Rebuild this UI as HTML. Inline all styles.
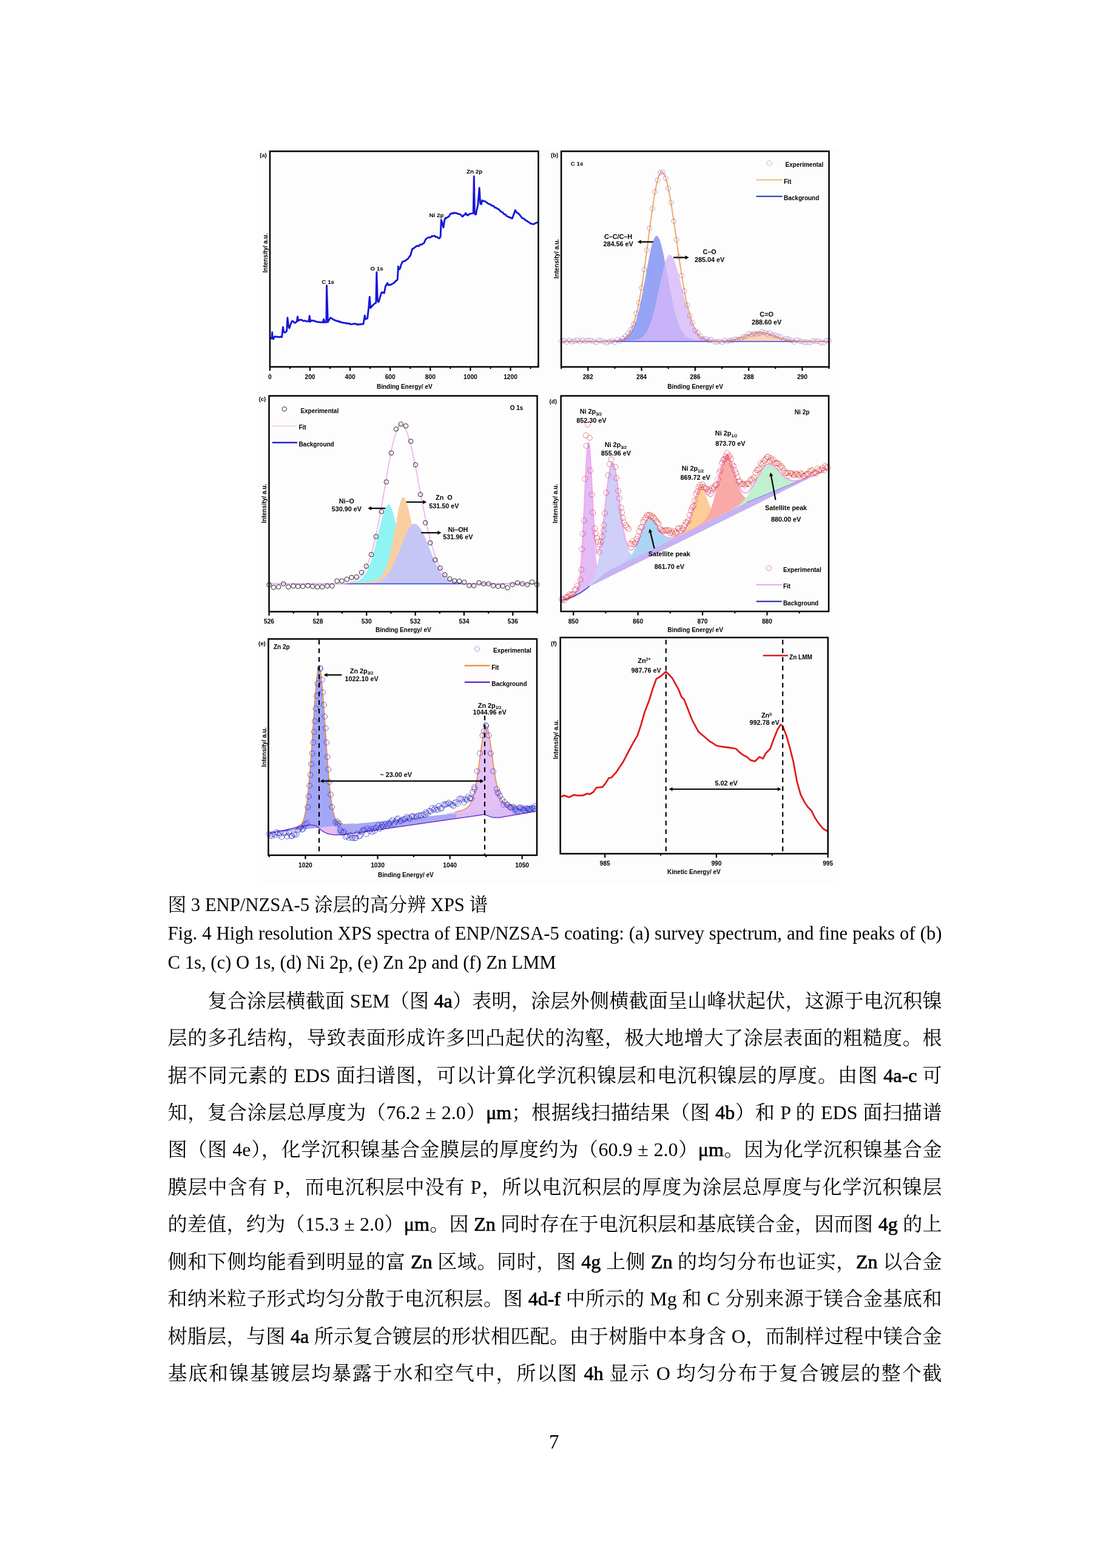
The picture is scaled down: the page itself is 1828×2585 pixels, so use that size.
<!DOCTYPE html>
<html lang="zh-CN"><head><meta charset="utf-8"><title>XPS</title>
<style>
html,body{margin:0;padding:0;background:#fff;}
body{width:1828px;height:2585px;position:relative;overflow:hidden;}
svg{position:absolute;left:0;top:0;}
.l{position:absolute;white-space:nowrap;line-height:1;font-family:"Liberation Serif","Noto Serif CJK SC",serif;color:#000;}
.j{white-space:normal;text-align:justify;text-align-last:justify;}
b{font-weight:normal;-webkit-text-stroke:0.7px #000;}
</style></head><body>
<svg width="1828" height="2585" viewBox="0 0 1828 2585">
<rect x="424" y="246" width="958" height="1209" fill="#fdfdfd"/>
<path d="M445.5 557.6 L448 558.2 L448.6 547.8 L449.2 557 L450.5 558.8 L452.3 555.1 L454.1 554.8 L455.8 555.4 L457.6 555.2 L459.4 555.7 L461.1 555.8 L462.9 554.9 L464.6 555.8 L466.5 539.1 L467.7 547.1 L469.6 548.4 L472.6 545.9 L473.9 523.7 L475.7 538.5 L476.9 541 L479.4 533.6 L481.3 529.3 L483.4 529.9 L485.6 532.4 L487.4 531.7 L489.3 529.9 L490.5 521.9 L491.7 528.7 L494.2 527.4 L496 527.3 L497.9 527.6 L499.7 529.3 L501.6 528.7 L503.4 528.9 L505.3 529.9 L507.1 529.6 L509 529.9 L510.2 520.7 L511.4 530.5 L513.9 528.1 L515.9 528.9 L518 528.7 L520 529.9 L521.8 530.4 L523.6 531.1 L525.3 530.7 L527.1 531.4 L528.8 531.5 L530.6 530.7 L532.4 531.7 L533.6 526.2 L535.4 531.7 L537.9 531.1 L538.5 470.8 L540.4 531.1 L541.6 528.7 L544.7 523.7 L547.1 525 L549 526.7 L550.8 527.4 L552.9 528.4 L554.9 528.7 L557 529.9 L558.8 529.4 L560.5 531.3 L562.3 530.9 L564 531.7 L565.8 532.3 L567.6 532.4 L569.3 532.4 L571.1 533.4 L572.8 532.7 L574.6 533.7 L576.3 533.3 L578.1 534.5 L579.9 534.6 L581.6 534.2 L583.4 533.6 L585.1 533.7 L586.9 534 L588.7 535.4 L590.4 534.5 L592.2 535 L593.9 534.8 L595.6 534.3 L597.2 534.4 L598.9 534.2 L601.3 520 L602.6 526.2 L605.6 525 L607.5 509 L609.3 489.3 L610.6 507.7 L611.8 506.5 L614.9 502.8 L616.5 501.4 L618.2 500.1 L619.8 499.1 L620.8 448.6 L622.3 495.4 L624.1 497.9 L626 491.7 L628.4 483.1 L630 481.7 L631.6 482.7 L633.2 483.3 L635.6 471.3 L637.2 469.1 L638.8 466.5 L639.6 469.7 L641.2 470 L642.8 469.2 L644.4 469.3 L646 468.1 L647.6 467.6 L649.2 466.7 L650.8 465.1 L652.4 463 L654 462.5 L655.3 460.1 L656.4 439.3 L658 444.1 L659.6 442.5 L661.2 436.1 L663.6 431.3 L665.2 431.1 L666.8 430.5 L668.4 429.6 L670 428.2 L671.6 427.3 L673.2 425.8 L674.8 423 L676.4 421.7 L679.6 410.5 L681.2 410 L682.8 408.5 L684.4 407.3 L686 406.2 L687.6 405.1 L689.2 405.9 L690.8 405.5 L692.4 403.2 L694 403.3 L695.6 403 L697.2 401.5 L698.8 400.9 L701.2 395.3 L703.2 393 L705.2 392.1 L706.8 391.2 L708.5 391.5 L710.1 391.1 L711.7 389.1 L713.3 389.6 L714.9 388.9 L716.5 388.6 L718.1 390.5 L719.7 390.4 L721.3 391.3 L722.9 392.7 L724.5 392.9 L726.1 389.7 L727.3 362.4 L729.3 368.8 L730.9 375.2 L732.5 364 L734.1 359.2 L735.7 359.6 L737.3 358.2 L738.9 357.6 L740.5 356.1 L742.1 352.8 L743.7 352.2 L745.3 351.4 L746.9 352.1 L748.5 350.7 L750.1 351.2 L751.7 351.1 L753.3 351.9 L754.9 352.6 L756.5 352.8 L758.1 353.2 L759.7 354 L761.3 356.5 L762.9 356.8 L764.5 354.6 L766.1 353.9 L767.7 351.2 L769.3 353.9 L770.9 355.2 L772.5 353.8 L774.1 352.8 L776.1 352.2 L778.1 351.8 L780.2 351.2 L781.3 290.6 L782.4 352.8 L784.5 353.6 L786.1 344.8 L787.7 338.4 L790.1 309.6 L791.7 335.2 L793.3 336.8 L794.9 330.4 L796.5 331.2 L798.1 331.7 L799.7 332 L801.3 333.1 L802.9 334.2 L804.5 335.8 L806.1 336 L807.7 336.9 L809.3 337.7 L810.9 339.1 L812.5 339.2 L814.1 340.2 L815.7 342.3 L817.3 342.4 L818.9 343.2 L820.5 344.6 L822.1 344.9 L823.7 346.9 L825.3 348.5 L826.9 349.6 L828.5 350 L830.1 352.2 L831.7 353.5 L833.3 353.6 L834.9 355.9 L836.5 356.8 L838.1 357.4 L839.7 358.4 L841.3 358.5 L842.9 359.8 L844.5 360 L849.3 346.4 L850.9 349.3 L852.5 351.2 L854.1 351.7 L855.7 353.1 L857.3 355.2 L858.9 357.2 L860.5 359.3 L862.1 360 L863.7 360.7 L865.4 362.2 L867 363.6 L868.6 364.2 L870.2 365.6 L871.8 366.5 L873.4 367.4 L875 368.8 L876.6 368.9 L878.2 369.5 L879.8 369.6 L881.4 368.5 L883 367.8 L884.6 367.2 L886.6 366.4" stroke="#1616dc" stroke-width="2.9" fill="none" stroke-linejoin="round" />
<rect x="444.9" y="249.4" width="442.5" height="355.4" fill="none" stroke="#000" stroke-width="2.5"/>
<line x1="444.9" y1="604.8" x2="444.9" y2="611.3" stroke="#000" stroke-width="2.2" />
<text x="444.9" y="625.2" font-size="10.2" text-anchor="middle" fill="#000" font-family="'Liberation Sans', sans-serif" font-weight="bold" >0</text>
<line x1="511" y1="604.8" x2="511" y2="611.3" stroke="#000" stroke-width="2.2" />
<text x="511" y="625.2" font-size="10.2" text-anchor="middle" fill="#000" font-family="'Liberation Sans', sans-serif" font-weight="bold" >200</text>
<line x1="577.1" y1="604.8" x2="577.1" y2="611.3" stroke="#000" stroke-width="2.2" />
<text x="577.1" y="625.2" font-size="10.2" text-anchor="middle" fill="#000" font-family="'Liberation Sans', sans-serif" font-weight="bold" >400</text>
<line x1="643.2" y1="604.8" x2="643.2" y2="611.3" stroke="#000" stroke-width="2.2" />
<text x="643.2" y="625.2" font-size="10.2" text-anchor="middle" fill="#000" font-family="'Liberation Sans', sans-serif" font-weight="bold" >600</text>
<line x1="709.3" y1="604.8" x2="709.3" y2="611.3" stroke="#000" stroke-width="2.2" />
<text x="709.3" y="625.2" font-size="10.2" text-anchor="middle" fill="#000" font-family="'Liberation Sans', sans-serif" font-weight="bold" >800</text>
<line x1="775.4" y1="604.8" x2="775.4" y2="611.3" stroke="#000" stroke-width="2.2" />
<text x="775.4" y="625.2" font-size="10.2" text-anchor="middle" fill="#000" font-family="'Liberation Sans', sans-serif" font-weight="bold" >1000</text>
<line x1="841.5" y1="604.8" x2="841.5" y2="611.3" stroke="#000" stroke-width="2.2" />
<text x="841.5" y="625.2" font-size="10.2" text-anchor="middle" fill="#000" font-family="'Liberation Sans', sans-serif" font-weight="bold" >1200</text>
<line x1="477.9" y1="604.8" x2="477.9" y2="608" stroke="#000" stroke-width="2.2" />
<line x1="544" y1="604.8" x2="544" y2="608" stroke="#000" stroke-width="2.2" />
<line x1="610.1" y1="604.8" x2="610.1" y2="608" stroke="#000" stroke-width="2.2" />
<line x1="676.2" y1="604.8" x2="676.2" y2="608" stroke="#000" stroke-width="2.2" />
<line x1="742.3" y1="604.8" x2="742.3" y2="608" stroke="#000" stroke-width="2.2" />
<line x1="808.5" y1="604.8" x2="808.5" y2="608" stroke="#000" stroke-width="2.2" />
<line x1="874.5" y1="604.8" x2="874.5" y2="608" stroke="#000" stroke-width="2.2" />
<text x="666.8" y="640.7" font-size="10" text-anchor="middle" fill="#000" font-family="'Liberation Sans', sans-serif" font-weight="bold" >Binding Energy/ eV</text>
<text x="441" y="417" font-size="10.2" text-anchor="middle" fill="#000" font-family="'Liberation Sans', sans-serif" font-weight="bold" transform="rotate(-90 441 417)">Intensity/ a.u.</text>
<text x="428" y="258.6" font-size="9.6" text-anchor="start" fill="#000" font-family="'Liberation Sans', sans-serif" font-weight="bold" >(a)</text>
<text x="782.1" y="285.8" font-size="9.8" text-anchor="middle" fill="#000" font-family="'Liberation Sans', sans-serif" font-weight="bold" >Zn 2p</text>
<text x="719.4" y="357.8" font-size="9.8" text-anchor="middle" fill="#000" font-family="'Liberation Sans', sans-serif" font-weight="bold" >Ni 2p</text>
<text x="621" y="445.5" font-size="9.8" text-anchor="middle" fill="#000" font-family="'Liberation Sans', sans-serif" font-weight="bold" >O 1s</text>
<text x="540.7" y="468.3" font-size="9.8" text-anchor="middle" fill="#000" font-family="'Liberation Sans', sans-serif" font-weight="bold" >C 1s</text>
<path d="M926.4 563 L926.4 562.6 L927.4 562.6 L928.4 562.6 L929.4 562.6 L930.4 562.6 L931.4 562.6 L932.4 562.6 L933.4 562.6 L934.4 562.6 L935.4 562.5 L936.4 562.5 L937.4 562.5 L938.4 562.5 L939.4 562.5 L940.4 562.5 L941.4 562.5 L942.4 562.5 L943.4 562.5 L944.4 562.5 L945.4 562.5 L946.4 562.5 L947.4 562.5 L948.4 562.5 L949.4 562.4 L950.4 562.4 L951.4 562.4 L952.4 562.4 L953.4 562.4 L954.4 562.4 L955.4 562.4 L956.4 562.4 L957.4 562.4 L958.4 562.4 L959.4 562.4 L960.4 562.3 L961.4 562.3 L962.4 562.3 L963.4 562.3 L964.4 562.3 L965.4 562.3 L966.4 562.3 L967.4 562.3 L968.4 562.3 L969.4 562.2 L970.4 562.2 L971.4 562.2 L972.4 562.2 L973.4 562.2 L974.4 562.2 L975.4 562.2 L976.4 562.1 L977.4 562.1 L978.4 562.1 L979.4 562.1 L980.4 562.1 L981.4 562.1 L982.4 562 L983.4 562 L984.4 562 L985.4 562 L986.4 562 L987.4 561.9 L988.4 561.9 L989.4 561.9 L990.4 561.9 L991.4 561.9 L992.4 561.8 L993.4 561.8 L994.4 561.8 L995.4 561.7 L996.4 561.7 L997.4 561.7 L998.4 561.7 L999.4 561.6 L1000.4 561.6 L1001.4 561.6 L1002.4 561.5 L1003.4 561.5 L1004.4 561.4 L1005.4 561.4 L1006.4 561.4 L1007.4 561.3 L1008.4 561.3 L1009.4 561.2 L1010.4 561.1 L1011.4 561.1 L1012.4 561 L1013.4 560.9 L1014.4 560.8 L1015.4 560.7 L1016.4 560.6 L1017.4 560.5 L1018.4 560.4 L1019.4 560.2 L1020.4 560.1 L1021.4 559.9 L1022.4 559.7 L1023.4 559.4 L1024.4 559.2 L1025.4 558.9 L1026.4 558.5 L1027.4 558.2 L1028.4 557.7 L1029.4 557.3 L1030.4 556.7 L1031.4 556.1 L1032.4 555.4 L1033.4 554.7 L1034.4 553.8 L1035.4 552.9 L1036.4 551.8 L1037.4 550.7 L1038.4 549.4 L1039.4 548 L1040.4 546.4 L1041.4 544.7 L1042.4 542.8 L1043.4 540.8 L1044.4 538.5 L1045.4 536.1 L1046.4 533.5 L1047.4 530.7 L1048.4 527.7 L1049.4 524.5 L1050.4 521.1 L1051.4 517.4 L1052.4 513.6 L1053.4 509.5 L1054.4 505.3 L1055.4 500.8 L1056.4 496.1 L1057.4 491.3 L1058.4 486.3 L1059.4 481.2 L1060.4 475.9 L1061.4 470.5 L1062.4 465.1 L1063.4 459.5 L1064.4 454 L1065.4 448.4 L1066.4 442.9 L1067.4 437.5 L1068.4 432.2 L1069.4 427 L1070.4 421.9 L1071.4 417.1 L1072.4 412.6 L1073.4 408.3 L1074.4 404.4 L1075.4 400.9 L1076.4 397.7 L1077.4 395 L1078.4 392.8 L1079.4 391 L1080.4 389.8 L1081.4 389 L1082.4 388.8 L1083.4 389.1 L1084.4 390 L1085.4 391.3 L1086.4 393.2 L1087.4 395.5 L1088.4 398.3 L1089.4 401.6 L1090.4 405.2 L1091.4 409.2 L1092.4 413.5 L1093.4 418.1 L1094.4 422.9 L1095.4 428 L1096.4 433.2 L1097.4 438.6 L1098.4 444 L1099.4 449.6 L1100.4 455.1 L1101.4 460.6 L1102.4 466.2 L1103.4 471.6 L1104.4 477 L1105.4 482.2 L1106.4 487.3 L1107.4 492.3 L1108.4 497.1 L1109.4 501.7 L1110.4 506.1 L1111.4 510.4 L1112.4 514.4 L1113.4 518.2 L1114.4 521.8 L1115.4 525.2 L1116.4 528.3 L1117.4 531.3 L1118.4 534.1 L1119.4 536.6 L1120.4 539 L1121.4 541.2 L1122.4 543.2 L1123.4 545 L1124.4 546.7 L1125.4 548.2 L1126.4 549.6 L1127.4 550.9 L1128.4 552 L1129.4 553.1 L1130.4 554 L1131.4 554.8 L1132.4 555.6 L1133.4 556.2 L1134.4 556.8 L1135.4 557.4 L1136.4 557.8 L1137.4 558.2 L1138.4 558.6 L1139.4 558.9 L1140.4 559.2 L1141.4 559.5 L1142.4 559.7 L1143.4 559.9 L1144.4 560.1 L1145.4 560.3 L1146.4 560.4 L1147.4 560.5 L1148.4 560.7 L1149.4 560.8 L1150.4 560.9 L1151.4 560.9 L1152.4 561 L1153.4 561.1 L1154.4 561.2 L1155.4 561.2 L1156.4 561.3 L1157.4 561.3 L1158.4 561.4 L1159.4 561.4 L1160.4 561.5 L1161.4 561.5 L1162.4 561.5 L1163.4 561.6 L1164.4 561.6 L1165.4 561.6 L1166.4 561.7 L1167.4 561.7 L1168.4 561.7 L1169.4 561.8 L1170.4 561.8 L1171.4 561.8 L1172.4 561.8 L1173.4 561.9 L1174.4 561.9 L1175.4 561.9 L1176.4 561.9 L1177.4 561.9 L1178.4 562 L1179.4 562 L1180.4 562 L1181.4 562 L1182.4 562 L1183.4 562.1 L1184.4 562.1 L1185.4 562.1 L1186.4 562.1 L1187.4 562.1 L1188.4 562.1 L1189.4 562.2 L1190.4 562.2 L1191.4 562.2 L1192.4 562.2 L1193.4 562.2 L1194.4 562.2 L1195.4 562.2 L1196.4 562.3 L1197.4 562.3 L1198.4 562.3 L1199.4 562.3 L1200.4 562.3 L1201.4 562.3 L1202.4 562.3 L1203.4 562.3 L1204.4 562.3 L1205.4 562.4 L1206.4 562.4 L1207.4 562.4 L1208.4 562.4 L1209.4 562.4 L1210.4 562.4 L1211.4 562.4 L1212.4 562.4 L1213.4 562.4 L1214.4 562.4 L1215.4 562.4 L1216.4 562.5 L1217.4 562.5 L1218.4 562.5 L1219.4 562.5 L1220.4 562.5 L1221.4 562.5 L1222.4 562.5 L1223.4 562.5 L1224.4 562.5 L1225.4 562.5 L1226.4 562.5 L1227.4 562.5 L1228.4 562.5 L1229.4 562.5 L1230.4 562.6 L1231.4 562.6 L1232.4 562.6 L1233.4 562.6 L1234.4 562.6 L1235.4 562.6 L1236.4 562.6 L1237.4 562.6 L1238.4 562.6 L1239.4 562.6 L1240.4 562.6 L1241.4 562.6 L1242.4 562.6 L1243.4 562.6 L1244.4 562.6 L1245.4 562.6 L1246.4 562.6 L1247.4 562.6 L1248.4 562.6 L1249.4 562.6 L1250.4 562.7 L1251.4 562.7 L1252.4 562.7 L1253.4 562.7 L1254.4 562.7 L1255.4 562.7 L1256.4 562.7 L1257.4 562.7 L1258.4 562.7 L1259.4 562.7 L1260.4 562.7 L1261.4 562.7 L1262.4 562.7 L1263.4 562.7 L1264.4 562.7 L1265.4 562.7 L1266.4 562.7 L1267.4 562.7 L1268.4 562.7 L1269.4 562.7 L1270.4 562.7 L1271.4 562.7 L1272.4 562.7 L1273.4 562.7 L1274.4 562.7 L1275.4 562.7 L1276.4 562.7 L1277.4 562.7 L1278.4 562.7 L1279.4 562.7 L1280.4 562.7 L1281.4 562.8 L1282.4 562.8 L1283.4 562.8 L1284.4 562.8 L1285.4 562.8 L1286.4 562.8 L1287.4 562.8 L1288.4 562.8 L1289.4 562.8 L1290.4 562.8 L1291.4 562.8 L1292.4 562.8 L1293.4 562.8 L1294.4 562.8 L1295.4 562.8 L1296.4 562.8 L1297.4 562.8 L1298.4 562.8 L1299.4 562.8 L1300.4 562.8 L1301.4 562.8 L1302.4 562.8 L1303.4 562.8 L1304.4 562.8 L1305.4 562.8 L1306.4 562.8 L1307.4 562.8 L1308.4 562.8 L1309.4 562.8 L1310.4 562.8 L1311.4 562.8 L1312.4 562.8 L1313.4 562.8 L1314.4 562.8 L1315.4 562.8 L1316.4 562.8 L1317.4 562.8 L1318.4 562.8 L1319.4 562.8 L1320.4 562.8 L1321.4 562.8 L1322.4 562.8 L1323.4 562.8 L1324.4 562.8 L1325.4 562.8 L1326.4 562.8 L1327.4 562.8 L1328.4 562.8 L1329.4 562.8 L1330.4 562.8 L1331.4 562.8 L1332.4 562.8 L1333.4 562.8 L1334.4 562.8 L1335.4 562.8 L1336.4 562.8 L1337.4 562.8 L1338.4 562.8 L1339.4 562.8 L1340.4 562.9 L1341.4 562.9 L1342.4 562.9 L1343.4 562.9 L1344.4 562.9 L1345.4 562.9 L1346.4 562.9 L1347.4 562.9 L1348.4 562.9 L1349.4 562.9 L1350.4 562.9 L1351.4 562.9 L1352.4 562.9 L1353.4 562.9 L1354.4 562.9 L1355.4 562.9 L1356.4 562.9 L1357.4 562.9 L1358.4 562.9 L1359.4 562.9 L1360.4 562.9 L1361.4 562.9 L1362.4 562.9 L1363.4 562.9 L1364.4 562.9 L1364.4 563 Z" fill="#97a3f4" stroke="none"/>
<path d="M926.4 563 L926.4 562.8 L927.4 562.8 L928.4 562.8 L929.4 562.8 L930.4 562.8 L931.4 562.8 L932.4 562.8 L933.4 562.8 L934.4 562.7 L935.4 562.7 L936.4 562.7 L937.4 562.7 L938.4 562.7 L939.4 562.7 L940.4 562.7 L941.4 562.7 L942.4 562.7 L943.4 562.7 L944.4 562.7 L945.4 562.7 L946.4 562.7 L947.4 562.7 L948.4 562.7 L949.4 562.7 L950.4 562.7 L951.4 562.7 L952.4 562.7 L953.4 562.7 L954.4 562.7 L955.4 562.7 L956.4 562.7 L957.4 562.7 L958.4 562.7 L959.4 562.7 L960.4 562.7 L961.4 562.6 L962.4 562.6 L963.4 562.6 L964.4 562.6 L965.4 562.6 L966.4 562.6 L967.4 562.6 L968.4 562.6 L969.4 562.6 L970.4 562.6 L971.4 562.6 L972.4 562.6 L973.4 562.6 L974.4 562.6 L975.4 562.6 L976.4 562.6 L977.4 562.6 L978.4 562.5 L979.4 562.5 L980.4 562.5 L981.4 562.5 L982.4 562.5 L983.4 562.5 L984.4 562.5 L985.4 562.5 L986.4 562.5 L987.4 562.5 L988.4 562.5 L989.4 562.5 L990.4 562.5 L991.4 562.4 L992.4 562.4 L993.4 562.4 L994.4 562.4 L995.4 562.4 L996.4 562.4 L997.4 562.4 L998.4 562.4 L999.4 562.4 L1000.4 562.3 L1001.4 562.3 L1002.4 562.3 L1003.4 562.3 L1004.4 562.3 L1005.4 562.3 L1006.4 562.3 L1007.4 562.2 L1008.4 562.2 L1009.4 562.2 L1010.4 562.2 L1011.4 562.2 L1012.4 562.2 L1013.4 562.1 L1014.4 562.1 L1015.4 562.1 L1016.4 562.1 L1017.4 562.1 L1018.4 562.1 L1019.4 562 L1020.4 562 L1021.4 562 L1022.4 562 L1023.4 561.9 L1024.4 561.9 L1025.4 561.9 L1026.4 561.9 L1027.4 561.8 L1028.4 561.8 L1029.4 561.8 L1030.4 561.7 L1031.4 561.7 L1032.4 561.6 L1033.4 561.6 L1034.4 561.6 L1035.4 561.5 L1036.4 561.5 L1037.4 561.4 L1038.4 561.3 L1039.4 561.3 L1040.4 561.2 L1041.4 561.1 L1042.4 561 L1043.4 560.9 L1044.4 560.7 L1045.4 560.6 L1046.4 560.4 L1047.4 560.3 L1048.4 560.1 L1049.4 559.8 L1050.4 559.5 L1051.4 559.2 L1052.4 558.9 L1053.4 558.5 L1054.4 558.1 L1055.4 557.6 L1056.4 557 L1057.4 556.4 L1058.4 555.6 L1059.4 554.8 L1060.4 553.9 L1061.4 552.9 L1062.4 551.8 L1063.4 550.6 L1064.4 549.2 L1065.4 547.7 L1066.4 546 L1067.4 544.2 L1068.4 542.2 L1069.4 540 L1070.4 537.6 L1071.4 535.1 L1072.4 532.4 L1073.4 529.4 L1074.4 526.3 L1075.4 523 L1076.4 519.5 L1077.4 515.8 L1078.4 511.9 L1079.4 507.8 L1080.4 503.6 L1081.4 499.2 L1082.4 494.7 L1083.4 490 L1084.4 485.3 L1085.4 480.5 L1086.4 475.7 L1087.4 470.8 L1088.4 466 L1089.4 461.2 L1090.4 456.5 L1091.4 452 L1092.4 447.6 L1093.4 443.4 L1094.4 439.4 L1095.4 435.7 L1096.4 432.3 L1097.4 429.3 L1098.4 426.6 L1099.4 424.4 L1100.4 422.5 L1101.4 421.2 L1102.4 420.3 L1103.4 419.9 L1104.4 420 L1105.4 420.4 L1106.4 421.1 L1107.4 422.2 L1108.4 423.6 L1109.4 425.3 L1110.4 427.3 L1111.4 429.6 L1112.4 432.1 L1113.4 434.9 L1114.4 437.9 L1115.4 441.1 L1116.4 444.5 L1117.4 448.1 L1118.4 451.7 L1119.4 455.5 L1120.4 459.4 L1121.4 463.4 L1122.4 467.4 L1123.4 471.4 L1124.4 475.4 L1125.4 479.5 L1126.4 483.5 L1127.4 487.4 L1128.4 491.4 L1129.4 495.2 L1130.4 499 L1131.4 502.6 L1132.4 506.2 L1133.4 509.6 L1134.4 513 L1135.4 516.2 L1136.4 519.3 L1137.4 522.2 L1138.4 525.1 L1139.4 527.7 L1140.4 530.3 L1141.4 532.7 L1142.4 535 L1143.4 537.1 L1144.4 539.1 L1145.4 541 L1146.4 542.8 L1147.4 544.4 L1148.4 545.9 L1149.4 547.3 L1150.4 548.6 L1151.4 549.8 L1152.4 550.9 L1153.4 551.9 L1154.4 552.9 L1155.4 553.7 L1156.4 554.5 L1157.4 555.2 L1158.4 555.9 L1159.4 556.4 L1160.4 557 L1161.4 557.4 L1162.4 557.9 L1163.4 558.3 L1164.4 558.6 L1165.4 558.9 L1166.4 559.2 L1167.4 559.5 L1168.4 559.7 L1169.4 559.9 L1170.4 560.1 L1171.4 560.3 L1172.4 560.4 L1173.4 560.6 L1174.4 560.7 L1175.4 560.8 L1176.4 560.9 L1177.4 561 L1178.4 561.1 L1179.4 561.2 L1180.4 561.2 L1181.4 561.3 L1182.4 561.3 L1183.4 561.4 L1184.4 561.4 L1185.4 561.5 L1186.4 561.5 L1187.4 561.6 L1188.4 561.6 L1189.4 561.7 L1190.4 561.7 L1191.4 561.7 L1192.4 561.7 L1193.4 561.8 L1194.4 561.8 L1195.4 561.8 L1196.4 561.9 L1197.4 561.9 L1198.4 561.9 L1199.4 561.9 L1200.4 561.9 L1201.4 562 L1202.4 562 L1203.4 562 L1204.4 562 L1205.4 562 L1206.4 562.1 L1207.4 562.1 L1208.4 562.1 L1209.4 562.1 L1210.4 562.1 L1211.4 562.1 L1212.4 562.2 L1213.4 562.2 L1214.4 562.2 L1215.4 562.2 L1216.4 562.2 L1217.4 562.2 L1218.4 562.2 L1219.4 562.2 L1220.4 562.3 L1221.4 562.3 L1222.4 562.3 L1223.4 562.3 L1224.4 562.3 L1225.4 562.3 L1226.4 562.3 L1227.4 562.3 L1228.4 562.4 L1229.4 562.4 L1230.4 562.4 L1231.4 562.4 L1232.4 562.4 L1233.4 562.4 L1234.4 562.4 L1235.4 562.4 L1236.4 562.4 L1237.4 562.4 L1238.4 562.4 L1239.4 562.4 L1240.4 562.5 L1241.4 562.5 L1242.4 562.5 L1243.4 562.5 L1244.4 562.5 L1245.4 562.5 L1246.4 562.5 L1247.4 562.5 L1248.4 562.5 L1249.4 562.5 L1250.4 562.5 L1251.4 562.5 L1252.4 562.5 L1253.4 562.5 L1254.4 562.5 L1255.4 562.6 L1256.4 562.6 L1257.4 562.6 L1258.4 562.6 L1259.4 562.6 L1260.4 562.6 L1261.4 562.6 L1262.4 562.6 L1263.4 562.6 L1264.4 562.6 L1265.4 562.6 L1266.4 562.6 L1267.4 562.6 L1268.4 562.6 L1269.4 562.6 L1270.4 562.6 L1271.4 562.6 L1272.4 562.6 L1273.4 562.6 L1274.4 562.6 L1275.4 562.7 L1276.4 562.7 L1277.4 562.7 L1278.4 562.7 L1279.4 562.7 L1280.4 562.7 L1281.4 562.7 L1282.4 562.7 L1283.4 562.7 L1284.4 562.7 L1285.4 562.7 L1286.4 562.7 L1287.4 562.7 L1288.4 562.7 L1289.4 562.7 L1290.4 562.7 L1291.4 562.7 L1292.4 562.7 L1293.4 562.7 L1294.4 562.7 L1295.4 562.7 L1296.4 562.7 L1297.4 562.7 L1298.4 562.7 L1299.4 562.7 L1300.4 562.7 L1301.4 562.7 L1302.4 562.7 L1303.4 562.7 L1304.4 562.7 L1305.4 562.7 L1306.4 562.7 L1307.4 562.8 L1308.4 562.8 L1309.4 562.8 L1310.4 562.8 L1311.4 562.8 L1312.4 562.8 L1313.4 562.8 L1314.4 562.8 L1315.4 562.8 L1316.4 562.8 L1317.4 562.8 L1318.4 562.8 L1319.4 562.8 L1320.4 562.8 L1321.4 562.8 L1322.4 562.8 L1323.4 562.8 L1324.4 562.8 L1325.4 562.8 L1326.4 562.8 L1327.4 562.8 L1328.4 562.8 L1329.4 562.8 L1330.4 562.8 L1331.4 562.8 L1332.4 562.8 L1333.4 562.8 L1334.4 562.8 L1335.4 562.8 L1336.4 562.8 L1337.4 562.8 L1338.4 562.8 L1339.4 562.8 L1340.4 562.8 L1341.4 562.8 L1342.4 562.8 L1343.4 562.8 L1344.4 562.8 L1345.4 562.8 L1346.4 562.8 L1347.4 562.8 L1348.4 562.8 L1349.4 562.8 L1350.4 562.8 L1351.4 562.8 L1352.4 562.8 L1353.4 562.8 L1354.4 562.8 L1355.4 562.8 L1356.4 562.8 L1357.4 562.8 L1358.4 562.8 L1359.4 562.8 L1360.4 562.8 L1361.4 562.8 L1362.4 562.8 L1363.4 562.8 L1364.4 562.8 L1364.4 563 Z" fill="#d6b6f8" stroke="none" fill-opacity="0.78"/>
<path d="M926.4 563 L926.4 563 L927.4 563 L928.4 563 L929.4 563 L930.4 563 L931.4 563 L932.4 563 L933.4 563 L934.4 563 L935.4 563 L936.4 563 L937.4 563 L938.4 563 L939.4 563 L940.4 563 L941.4 563 L942.4 563 L943.4 563 L944.4 563 L945.4 563 L946.4 563 L947.4 563 L948.4 563 L949.4 563 L950.4 563 L951.4 563 L952.4 563 L953.4 563 L954.4 563 L955.4 563 L956.4 563 L957.4 563 L958.4 563 L959.4 563 L960.4 563 L961.4 563 L962.4 563 L963.4 563 L964.4 563 L965.4 563 L966.4 563 L967.4 563 L968.4 563 L969.4 563 L970.4 563 L971.4 563 L972.4 563 L973.4 563 L974.4 563 L975.4 563 L976.4 563 L977.4 563 L978.4 563 L979.4 563 L980.4 563 L981.4 563 L982.4 563 L983.4 563 L984.4 563 L985.4 563 L986.4 563 L987.4 563 L988.4 563 L989.4 563 L990.4 563 L991.4 563 L992.4 563 L993.4 563 L994.4 563 L995.4 563 L996.4 563 L997.4 563 L998.4 563 L999.4 563 L1000.4 563 L1001.4 563 L1002.4 563 L1003.4 563 L1004.4 563 L1005.4 563 L1006.4 563 L1007.4 563 L1008.4 563 L1009.4 563 L1010.4 563 L1011.4 563 L1012.4 563 L1013.4 563 L1014.4 563 L1015.4 563 L1016.4 563 L1017.4 563 L1018.4 563 L1019.4 563 L1020.4 563 L1021.4 563 L1022.4 563 L1023.4 563 L1024.4 563 L1025.4 563 L1026.4 563 L1027.4 563 L1028.4 563 L1029.4 563 L1030.4 563 L1031.4 563 L1032.4 563 L1033.4 563 L1034.4 563 L1035.4 563 L1036.4 563 L1037.4 563 L1038.4 563 L1039.4 563 L1040.4 563 L1041.4 563 L1042.4 563 L1043.4 563 L1044.4 563 L1045.4 563 L1046.4 563 L1047.4 563 L1048.4 563 L1049.4 563 L1050.4 563 L1051.4 563 L1052.4 563 L1053.4 563 L1054.4 563 L1055.4 563 L1056.4 563 L1057.4 563 L1058.4 563 L1059.4 563 L1060.4 563 L1061.4 563 L1062.4 563 L1063.4 563 L1064.4 563 L1065.4 563 L1066.4 563 L1067.4 563 L1068.4 563 L1069.4 563 L1070.4 563 L1071.4 563 L1072.4 563 L1073.4 563 L1074.4 563 L1075.4 563 L1076.4 563 L1077.4 563 L1078.4 563 L1079.4 563 L1080.4 563 L1081.4 563 L1082.4 563 L1083.4 563 L1084.4 563 L1085.4 563 L1086.4 563 L1087.4 563 L1088.4 563 L1089.4 563 L1090.4 563 L1091.4 563 L1092.4 563 L1093.4 563 L1094.4 563 L1095.4 563 L1096.4 563 L1097.4 563 L1098.4 563 L1099.4 563 L1100.4 563 L1101.4 563 L1102.4 563 L1103.4 563 L1104.4 563 L1105.4 563 L1106.4 563 L1107.4 563 L1108.4 563 L1109.4 563 L1110.4 563 L1111.4 563 L1112.4 563 L1113.4 563 L1114.4 563 L1115.4 563 L1116.4 563 L1117.4 563 L1118.4 563 L1119.4 563 L1120.4 563 L1121.4 563 L1122.4 563 L1123.4 563 L1124.4 563 L1125.4 563 L1126.4 563 L1127.4 563 L1128.4 563 L1129.4 563 L1130.4 563 L1131.4 563 L1132.4 563 L1133.4 563 L1134.4 563 L1135.4 563 L1136.4 563 L1137.4 563 L1138.4 563 L1139.4 563 L1140.4 563 L1141.4 563 L1142.4 563 L1143.4 563 L1144.4 563 L1145.4 563 L1146.4 563 L1147.4 563 L1148.4 563 L1149.4 563 L1150.4 563 L1151.4 563 L1152.4 563 L1153.4 563 L1154.4 563 L1155.4 563 L1156.4 563 L1157.4 563 L1158.4 563 L1159.4 563 L1160.4 563 L1161.4 563 L1162.4 563 L1163.4 563 L1164.4 563 L1165.4 563 L1166.4 563 L1167.4 563 L1168.4 563 L1169.4 563 L1170.4 563 L1171.4 563 L1172.4 562.9 L1173.4 562.9 L1174.4 562.9 L1175.4 562.9 L1176.4 562.9 L1177.4 562.9 L1178.4 562.9 L1179.4 562.9 L1180.4 562.8 L1181.4 562.8 L1182.4 562.8 L1183.4 562.8 L1184.4 562.7 L1185.4 562.7 L1186.4 562.7 L1187.4 562.6 L1188.4 562.6 L1189.4 562.6 L1190.4 562.5 L1191.4 562.4 L1192.4 562.4 L1193.4 562.3 L1194.4 562.2 L1195.4 562.2 L1196.4 562.1 L1197.4 562 L1198.4 561.9 L1199.4 561.8 L1200.4 561.6 L1201.4 561.5 L1202.4 561.4 L1203.4 561.2 L1204.4 561.1 L1205.4 560.9 L1206.4 560.7 L1207.4 560.5 L1208.4 560.3 L1209.4 560.1 L1210.4 559.9 L1211.4 559.7 L1212.4 559.4 L1213.4 559.2 L1214.4 558.9 L1215.4 558.6 L1216.4 558.3 L1217.4 558 L1218.4 557.7 L1219.4 557.4 L1220.4 557 L1221.4 556.7 L1222.4 556.3 L1223.4 556 L1224.4 555.6 L1225.4 555.3 L1226.4 554.9 L1227.4 554.5 L1228.4 554.1 L1229.4 553.8 L1230.4 553.4 L1231.4 553 L1232.4 552.6 L1233.4 552.3 L1234.4 551.9 L1235.4 551.5 L1236.4 551.2 L1237.4 550.9 L1238.4 550.5 L1239.4 550.2 L1240.4 549.9 L1241.4 549.7 L1242.4 549.4 L1243.4 549.2 L1244.4 548.9 L1245.4 548.7 L1246.4 548.6 L1247.4 548.4 L1248.4 548.3 L1249.4 548.2 L1250.4 548.1 L1251.4 548 L1252.4 548 L1253.4 548 L1254.4 548 L1255.4 548.1 L1256.4 548.1 L1257.4 548.2 L1258.4 548.4 L1259.4 548.5 L1260.4 548.7 L1261.4 548.9 L1262.4 549.1 L1263.4 549.3 L1264.4 549.6 L1265.4 549.9 L1266.4 550.2 L1267.4 550.5 L1268.4 550.8 L1269.4 551.1 L1270.4 551.5 L1271.4 551.8 L1272.4 552.2 L1273.4 552.5 L1274.4 552.9 L1275.4 553.3 L1276.4 553.7 L1277.4 554.1 L1278.4 554.4 L1279.4 554.8 L1280.4 555.2 L1281.4 555.6 L1282.4 555.9 L1283.4 556.3 L1284.4 556.6 L1285.4 557 L1286.4 557.3 L1287.4 557.6 L1288.4 557.9 L1289.4 558.3 L1290.4 558.5 L1291.4 558.8 L1292.4 559.1 L1293.4 559.4 L1294.4 559.6 L1295.4 559.8 L1296.4 560.1 L1297.4 560.3 L1298.4 560.5 L1299.4 560.7 L1300.4 560.9 L1301.4 561 L1302.4 561.2 L1303.4 561.3 L1304.4 561.5 L1305.4 561.6 L1306.4 561.7 L1307.4 561.9 L1308.4 562 L1309.4 562.1 L1310.4 562.1 L1311.4 562.2 L1312.4 562.3 L1313.4 562.4 L1314.4 562.4 L1315.4 562.5 L1316.4 562.5 L1317.4 562.6 L1318.4 562.6 L1319.4 562.7 L1320.4 562.7 L1321.4 562.7 L1322.4 562.8 L1323.4 562.8 L1324.4 562.8 L1325.4 562.8 L1326.4 562.9 L1327.4 562.9 L1328.4 562.9 L1329.4 562.9 L1330.4 562.9 L1331.4 562.9 L1332.4 562.9 L1333.4 562.9 L1334.4 563 L1335.4 563 L1336.4 563 L1337.4 563 L1338.4 563 L1339.4 563 L1340.4 563 L1341.4 563 L1342.4 563 L1343.4 563 L1344.4 563 L1345.4 563 L1346.4 563 L1347.4 563 L1348.4 563 L1349.4 563 L1350.4 563 L1351.4 563 L1352.4 563 L1353.4 563 L1354.4 563 L1355.4 563 L1356.4 563 L1357.4 563 L1358.4 563 L1359.4 563 L1360.4 563 L1361.4 563 L1362.4 563 L1363.4 563 L1364.4 563 L1364.4 563 Z" fill="#f9d4b4" stroke="none"/>
<line x1="926.4" y1="563" x2="1365.2" y2="563" stroke="#3a46d8" stroke-width="1.6" />
<path d="M926.4 563 L927.4 563 L928.4 563 L929.4 563 L930.4 563 L931.4 563 L932.4 563 L933.4 563 L934.4 563 L935.4 563 L936.4 563 L937.4 563 L938.4 563 L939.4 563 L940.4 563 L941.4 563 L942.4 563 L943.4 563 L944.4 563 L945.4 563 L946.4 563 L947.4 563 L948.4 563 L949.4 563 L950.4 563 L951.4 563 L952.4 563 L953.4 563 L954.4 563 L955.4 563 L956.4 563 L957.4 563 L958.4 563 L959.4 563 L960.4 563 L961.4 563 L962.4 563 L963.4 563 L964.4 563 L965.4 563 L966.4 563 L967.4 563 L968.4 563 L969.4 563 L970.4 563 L971.4 563 L972.4 563 L973.4 563 L974.4 563 L975.4 563 L976.4 563 L977.4 563 L978.4 563 L979.4 563 L980.4 563 L981.4 563 L982.4 563 L983.4 563 L984.4 563 L985.4 563 L986.4 563 L987.4 563 L988.4 563 L989.4 563 L990.4 563 L991.4 563 L992.4 563 L993.4 563 L994.4 563 L995.4 563 L996.4 563 L997.4 563 L998.4 563 L999.4 563 L1000.4 562.9 L1001.4 562.9 L1002.4 562.9 L1003.4 562.9 L1004.4 562.9 L1005.4 562.9 L1006.4 562.8 L1007.4 562.8 L1008.4 562.7 L1009.4 562.7 L1010.4 562.6 L1011.4 562.6 L1012.4 562.5 L1013.4 562.4 L1014.4 562.3 L1015.4 562.2 L1016.4 562.1 L1017.4 561.9 L1018.4 561.8 L1019.4 561.6 L1020.4 561.3 L1021.4 561.1 L1022.4 560.8 L1023.4 560.4 L1024.4 560.1 L1025.4 559.6 L1026.4 559.1 L1027.4 558.6 L1028.4 558 L1029.4 557.3 L1030.4 556.5 L1031.4 555.7 L1032.4 554.8 L1033.4 553.7 L1034.4 552.5 L1035.4 551.3 L1036.4 549.9 L1037.4 548.3 L1038.4 546.6 L1039.4 544.8 L1040.4 542.7 L1041.4 540.5 L1042.4 538.1 L1043.4 535.6 L1044.4 532.8 L1045.4 529.8 L1046.4 526.5 L1047.4 523.1 L1048.4 519.4 L1049.4 515.4 L1050.4 511.2 L1051.4 506.8 L1052.4 502.1 L1053.4 497.1 L1054.4 491.9 L1055.4 486.4 L1056.4 480.7 L1057.4 474.7 L1058.4 468.5 L1059.4 462.1 L1060.4 455.4 L1061.4 448.6 L1062.4 441.5 L1063.4 434.3 L1064.4 427 L1065.4 419.5 L1066.4 411.9 L1067.4 404.2 L1068.4 396.6 L1069.4 388.9 L1070.4 381.2 L1071.4 373.5 L1072.4 366 L1073.4 358.6 L1074.4 351.3 L1075.4 344.2 L1076.4 337.4 L1077.4 330.8 L1078.4 324.6 L1079.4 318.6 L1080.4 313 L1081.4 307.9 L1082.4 303.1 L1083.4 298.9 L1084.4 295.1 L1085.4 291.8 L1086.4 289 L1087.4 286.8 L1088.4 285.2 L1089.4 284.1 L1090.4 283.5 L1091.4 283.6 L1092.4 284.1 L1093.4 285.1 L1094.4 286.6 L1095.4 288.6 L1096.4 291 L1097.4 293.9 L1098.4 297.2 L1099.4 300.9 L1100.4 305 L1101.4 309.5 L1102.4 314.3 L1103.4 319.5 L1104.4 325 L1105.4 330.7 L1106.4 336.7 L1107.4 343 L1108.4 349.4 L1109.4 356 L1110.4 362.8 L1111.4 369.6 L1112.4 376.6 L1113.4 383.6 L1114.4 390.6 L1115.4 397.7 L1116.4 404.8 L1117.4 411.8 L1118.4 418.7 L1119.4 425.6 L1120.4 432.4 L1121.4 439 L1122.4 445.5 L1123.4 451.9 L1124.4 458.1 L1125.4 464.1 L1126.4 470 L1127.4 475.6 L1128.4 481.1 L1129.4 486.3 L1130.4 491.4 L1131.4 496.2 L1132.4 500.8 L1133.4 505.2 L1134.4 509.3 L1135.4 513.3 L1136.4 517 L1137.4 520.6 L1138.4 523.9 L1139.4 527 L1140.4 530 L1141.4 532.7 L1142.4 535.3 L1143.4 537.7 L1144.4 539.9 L1145.4 542 L1146.4 543.9 L1147.4 545.7 L1148.4 547.3 L1149.4 548.8 L1150.4 550.2 L1151.4 551.5 L1152.4 552.6 L1153.4 553.7 L1154.4 554.7 L1155.4 555.5 L1156.4 556.3 L1157.4 557 L1158.4 557.7 L1159.4 558.3 L1160.4 558.8 L1161.4 559.3 L1162.4 559.7 L1163.4 560.1 L1164.4 560.4 L1165.4 560.8 L1166.4 561 L1167.4 561.3 L1168.4 561.5 L1169.4 561.7 L1170.4 561.8 L1171.4 562 L1172.4 562.1 L1173.4 562.2 L1174.4 562.3 L1175.4 562.4 L1176.4 562.4 L1177.4 562.5 L1178.4 562.5 L1179.4 562.6 L1180.4 562.6 L1181.4 562.6 L1182.4 562.6 L1183.4 562.6 L1184.4 562.6 L1185.4 562.6 L1186.4 562.6 L1187.4 562.6 L1188.4 562.5 L1189.4 562.5 L1190.4 562.4 L1191.4 562.4 L1192.4 562.3 L1193.4 562.3 L1194.4 562.2 L1195.4 562.1 L1196.4 562.1 L1197.4 562 L1198.4 561.9 L1199.4 561.8 L1200.4 561.6 L1201.4 561.5 L1202.4 561.4 L1203.4 561.2 L1204.4 561.1 L1205.4 560.9 L1206.4 560.7 L1207.4 560.5 L1208.4 560.3 L1209.4 560.1 L1210.4 559.9 L1211.4 559.7 L1212.4 559.4 L1213.4 559.2 L1214.4 558.9 L1215.4 558.6 L1216.4 558.3 L1217.4 558 L1218.4 557.7 L1219.4 557.4 L1220.4 557 L1221.4 556.7 L1222.4 556.3 L1223.4 556 L1224.4 555.6 L1225.4 555.3 L1226.4 554.9 L1227.4 554.5 L1228.4 554.1 L1229.4 553.8 L1230.4 553.4 L1231.4 553 L1232.4 552.6 L1233.4 552.3 L1234.4 551.9 L1235.4 551.5 L1236.4 551.2 L1237.4 550.9 L1238.4 550.5 L1239.4 550.2 L1240.4 549.9 L1241.4 549.7 L1242.4 549.4 L1243.4 549.2 L1244.4 548.9 L1245.4 548.7 L1246.4 548.6 L1247.4 548.4 L1248.4 548.3 L1249.4 548.2 L1250.4 548.1 L1251.4 548 L1252.4 548 L1253.4 548 L1254.4 548 L1255.4 548.1 L1256.4 548.1 L1257.4 548.2 L1258.4 548.4 L1259.4 548.5 L1260.4 548.7 L1261.4 548.9 L1262.4 549.1 L1263.4 549.3 L1264.4 549.6 L1265.4 549.9 L1266.4 550.2 L1267.4 550.5 L1268.4 550.8 L1269.4 551.1 L1270.4 551.5 L1271.4 551.8 L1272.4 552.2 L1273.4 552.5 L1274.4 552.9 L1275.4 553.3 L1276.4 553.7 L1277.4 554.1 L1278.4 554.4 L1279.4 554.8 L1280.4 555.2 L1281.4 555.6 L1282.4 555.9 L1283.4 556.3 L1284.4 556.6 L1285.4 557 L1286.4 557.3 L1287.4 557.6 L1288.4 557.9 L1289.4 558.3 L1290.4 558.5 L1291.4 558.8 L1292.4 559.1 L1293.4 559.4 L1294.4 559.6 L1295.4 559.8 L1296.4 560.1 L1297.4 560.3 L1298.4 560.5 L1299.4 560.7 L1300.4 560.9 L1301.4 561 L1302.4 561.2 L1303.4 561.3 L1304.4 561.5 L1305.4 561.6 L1306.4 561.7 L1307.4 561.9 L1308.4 562 L1309.4 562.1 L1310.4 562.1 L1311.4 562.2 L1312.4 562.3 L1313.4 562.4 L1314.4 562.4 L1315.4 562.5 L1316.4 562.5 L1317.4 562.6 L1318.4 562.6 L1319.4 562.7 L1320.4 562.7 L1321.4 562.7 L1322.4 562.8 L1323.4 562.8 L1324.4 562.8 L1325.4 562.8 L1326.4 562.9 L1327.4 562.9 L1328.4 562.9 L1329.4 562.9 L1330.4 562.9 L1331.4 562.9 L1332.4 562.9 L1333.4 562.9 L1334.4 563 L1335.4 563 L1336.4 563 L1337.4 563 L1338.4 563 L1339.4 563 L1340.4 563 L1341.4 563 L1342.4 563 L1343.4 563 L1344.4 563 L1345.4 563 L1346.4 563 L1347.4 563 L1348.4 563 L1349.4 563 L1350.4 563 L1351.4 563 L1352.4 563 L1353.4 563 L1354.4 563 L1355.4 563 L1356.4 563 L1357.4 563 L1358.4 563 L1359.4 563 L1360.4 563 L1361.4 563 L1362.4 563 L1363.4 563 L1364.4 563" stroke="#f2ac62" stroke-width="2.0" fill="none" stroke-linejoin="round" />
<circle cx="925.1" cy="562.2" r="3.9" fill="none" stroke="#8a4cc6" stroke-width="0.9" stroke-dasharray="1.6 1"/>
<circle cx="929.5" cy="561.5" r="3.9" fill="none" stroke="#8a4cc6" stroke-width="0.9" stroke-dasharray="1.6 1"/>
<circle cx="933.9" cy="563.7" r="3.9" fill="none" stroke="#8a4cc6" stroke-width="0.9" stroke-dasharray="1.6 1"/>
<circle cx="938.3" cy="561.1" r="3.9" fill="none" stroke="#8a4cc6" stroke-width="0.9" stroke-dasharray="1.6 1"/>
<circle cx="942.8" cy="563.2" r="3.9" fill="none" stroke="#8a4cc6" stroke-width="0.9" stroke-dasharray="1.6 1"/>
<circle cx="947.2" cy="562.4" r="3.9" fill="none" stroke="#8a4cc6" stroke-width="0.9" stroke-dasharray="1.6 1"/>
<circle cx="951.6" cy="561.1" r="3.9" fill="none" stroke="#8a4cc6" stroke-width="0.9" stroke-dasharray="1.6 1"/>
<circle cx="956" cy="563" r="3.9" fill="none" stroke="#8a4cc6" stroke-width="0.9" stroke-dasharray="1.6 1"/>
<circle cx="960.4" cy="561" r="3.9" fill="none" stroke="#8a4cc6" stroke-width="0.9" stroke-dasharray="1.6 1"/>
<circle cx="964.8" cy="562.7" r="3.9" fill="none" stroke="#8a4cc6" stroke-width="0.9" stroke-dasharray="1.6 1"/>
<circle cx="969.2" cy="561.1" r="3.9" fill="none" stroke="#8a4cc6" stroke-width="0.9" stroke-dasharray="1.6 1"/>
<circle cx="973.7" cy="561.2" r="3.9" fill="none" stroke="#8a4cc6" stroke-width="0.9" stroke-dasharray="1.6 1"/>
<circle cx="978.1" cy="562.7" r="3.9" fill="none" stroke="#8a4cc6" stroke-width="0.9" stroke-dasharray="1.6 1"/>
<circle cx="982.5" cy="564.4" r="3.9" fill="none" stroke="#8a4cc6" stroke-width="0.9" stroke-dasharray="1.6 1"/>
<circle cx="986.9" cy="561.3" r="3.9" fill="none" stroke="#8a4cc6" stroke-width="0.9" stroke-dasharray="1.6 1"/>
<circle cx="991.3" cy="561.8" r="3.9" fill="none" stroke="#8a4cc6" stroke-width="0.9" stroke-dasharray="1.6 1"/>
<circle cx="995.7" cy="563.5" r="3.9" fill="none" stroke="#8a4cc6" stroke-width="0.9" stroke-dasharray="1.6 1"/>
<circle cx="1000.1" cy="564.9" r="3.9" fill="none" stroke="#8a4cc6" stroke-width="0.9" stroke-dasharray="1.6 1"/>
<circle cx="1004.6" cy="563.2" r="3.9" fill="none" stroke="#8a4cc6" stroke-width="0.9" stroke-dasharray="1.6 1"/>
<circle cx="1009" cy="562.3" r="3.9" fill="none" stroke="#8a4cc6" stroke-width="0.9" stroke-dasharray="1.6 1"/>
<circle cx="1013.4" cy="564.5" r="3.9" fill="none" stroke="#8a4cc6" stroke-width="0.9" stroke-dasharray="1.6 1"/>
<circle cx="1017.8" cy="559.9" r="3.9" fill="none" stroke="#8a4cc6" stroke-width="0.9" stroke-dasharray="1.6 1"/>
<circle cx="1022.2" cy="562.4" r="3.9" fill="none" stroke="#8a4cc6" stroke-width="0.9" stroke-dasharray="1.6 1"/>
<circle cx="1026.6" cy="558.1" r="3.9" fill="none" stroke="#8a4cc6" stroke-width="0.9" stroke-dasharray="1.6 1"/>
<circle cx="1031" cy="554.5" r="3.9" fill="none" stroke="#8a4cc6" stroke-width="0.9" stroke-dasharray="1.6 1"/>
<circle cx="1035.5" cy="549.5" r="3.9" fill="none" stroke="#8a4cc6" stroke-width="0.9" stroke-dasharray="1.6 1"/>
<circle cx="1039.9" cy="543" r="3.9" fill="none" stroke="#8a4cc6" stroke-width="0.9" stroke-dasharray="1.6 1"/>
<circle cx="1044.3" cy="534.5" r="3.9" fill="none" stroke="#8a4cc6" stroke-width="0.9" stroke-dasharray="1.6 1"/>
<circle cx="1048.7" cy="516.8" r="3.9" fill="none" stroke="#8a4cc6" stroke-width="0.9" stroke-dasharray="1.6 1"/>
<circle cx="1053.1" cy="499" r="3.9" fill="none" stroke="#8a4cc6" stroke-width="0.9" stroke-dasharray="1.6 1"/>
<circle cx="1057.5" cy="474.6" r="3.9" fill="none" stroke="#8a4cc6" stroke-width="0.9" stroke-dasharray="1.6 1"/>
<circle cx="1061.9" cy="444.3" r="3.9" fill="none" stroke="#8a4cc6" stroke-width="0.9" stroke-dasharray="1.6 1"/>
<circle cx="1066.3" cy="412.5" r="3.9" fill="none" stroke="#8a4cc6" stroke-width="0.9" stroke-dasharray="1.6 1"/>
<circle cx="1070.8" cy="376.5" r="3.9" fill="none" stroke="#8a4cc6" stroke-width="0.9" stroke-dasharray="1.6 1"/>
<circle cx="1075.2" cy="343.9" r="3.9" fill="none" stroke="#8a4cc6" stroke-width="0.9" stroke-dasharray="1.6 1"/>
<circle cx="1079.6" cy="316.2" r="3.9" fill="none" stroke="#8a4cc6" stroke-width="0.9" stroke-dasharray="1.6 1"/>
<circle cx="1084" cy="297.3" r="3.9" fill="none" stroke="#8a4cc6" stroke-width="0.9" stroke-dasharray="1.6 1"/>
<circle cx="1088.4" cy="284.8" r="3.9" fill="none" stroke="#8a4cc6" stroke-width="0.9" stroke-dasharray="1.6 1"/>
<circle cx="1092.8" cy="283.7" r="3.9" fill="none" stroke="#8a4cc6" stroke-width="0.9" stroke-dasharray="1.6 1"/>
<circle cx="1097.2" cy="293.8" r="3.9" fill="none" stroke="#8a4cc6" stroke-width="0.9" stroke-dasharray="1.6 1"/>
<circle cx="1101.7" cy="310.5" r="3.9" fill="none" stroke="#8a4cc6" stroke-width="0.9" stroke-dasharray="1.6 1"/>
<circle cx="1106.1" cy="333.9" r="3.9" fill="none" stroke="#8a4cc6" stroke-width="0.9" stroke-dasharray="1.6 1"/>
<circle cx="1110.5" cy="364.7" r="3.9" fill="none" stroke="#8a4cc6" stroke-width="0.9" stroke-dasharray="1.6 1"/>
<circle cx="1114.9" cy="395.1" r="3.9" fill="none" stroke="#8a4cc6" stroke-width="0.9" stroke-dasharray="1.6 1"/>
<circle cx="1119.3" cy="423.9" r="3.9" fill="none" stroke="#8a4cc6" stroke-width="0.9" stroke-dasharray="1.6 1"/>
<circle cx="1123.7" cy="454.3" r="3.9" fill="none" stroke="#8a4cc6" stroke-width="0.9" stroke-dasharray="1.6 1"/>
<circle cx="1128.1" cy="479.8" r="3.9" fill="none" stroke="#8a4cc6" stroke-width="0.9" stroke-dasharray="1.6 1"/>
<circle cx="1132.6" cy="503.1" r="3.9" fill="none" stroke="#8a4cc6" stroke-width="0.9" stroke-dasharray="1.6 1"/>
<circle cx="1137" cy="520.1" r="3.9" fill="none" stroke="#8a4cc6" stroke-width="0.9" stroke-dasharray="1.6 1"/>
<circle cx="1141.4" cy="531.7" r="3.9" fill="none" stroke="#8a4cc6" stroke-width="0.9" stroke-dasharray="1.6 1"/>
<circle cx="1145.8" cy="544.9" r="3.9" fill="none" stroke="#8a4cc6" stroke-width="0.9" stroke-dasharray="1.6 1"/>
<circle cx="1150.2" cy="548.3" r="3.9" fill="none" stroke="#8a4cc6" stroke-width="0.9" stroke-dasharray="1.6 1"/>
<circle cx="1154.6" cy="554.5" r="3.9" fill="none" stroke="#8a4cc6" stroke-width="0.9" stroke-dasharray="1.6 1"/>
<circle cx="1159" cy="559.2" r="3.9" fill="none" stroke="#8a4cc6" stroke-width="0.9" stroke-dasharray="1.6 1"/>
<circle cx="1163.5" cy="558.6" r="3.9" fill="none" stroke="#8a4cc6" stroke-width="0.9" stroke-dasharray="1.6 1"/>
<circle cx="1167.9" cy="561.3" r="3.9" fill="none" stroke="#8a4cc6" stroke-width="0.9" stroke-dasharray="1.6 1"/>
<circle cx="1172.3" cy="560" r="3.9" fill="none" stroke="#8a4cc6" stroke-width="0.9" stroke-dasharray="1.6 1"/>
<circle cx="1176.7" cy="563.2" r="3.9" fill="none" stroke="#8a4cc6" stroke-width="0.9" stroke-dasharray="1.6 1"/>
<circle cx="1181.1" cy="563.8" r="3.9" fill="none" stroke="#8a4cc6" stroke-width="0.9" stroke-dasharray="1.6 1"/>
<circle cx="1185.5" cy="562.9" r="3.9" fill="none" stroke="#8a4cc6" stroke-width="0.9" stroke-dasharray="1.6 1"/>
<circle cx="1189.9" cy="564.1" r="3.9" fill="none" stroke="#8a4cc6" stroke-width="0.9" stroke-dasharray="1.6 1"/>
<circle cx="1194.4" cy="561.4" r="3.9" fill="none" stroke="#8a4cc6" stroke-width="0.9" stroke-dasharray="1.6 1"/>
<circle cx="1198.8" cy="562.7" r="3.9" fill="none" stroke="#8a4cc6" stroke-width="0.9" stroke-dasharray="1.6 1"/>
<circle cx="1203.2" cy="561.7" r="3.9" fill="none" stroke="#8a4cc6" stroke-width="0.9" stroke-dasharray="1.6 1"/>
<circle cx="1207.6" cy="560.8" r="3.9" fill="none" stroke="#8a4cc6" stroke-width="0.9" stroke-dasharray="1.6 1"/>
<circle cx="1212" cy="559.3" r="3.9" fill="none" stroke="#8a4cc6" stroke-width="0.9" stroke-dasharray="1.6 1"/>
<circle cx="1216.4" cy="559.8" r="3.9" fill="none" stroke="#8a4cc6" stroke-width="0.9" stroke-dasharray="1.6 1"/>
<circle cx="1220.8" cy="558.8" r="3.9" fill="none" stroke="#8a4cc6" stroke-width="0.9" stroke-dasharray="1.6 1"/>
<circle cx="1225.3" cy="555.2" r="3.9" fill="none" stroke="#8a4cc6" stroke-width="0.9" stroke-dasharray="1.6 1"/>
<circle cx="1229.7" cy="554.4" r="3.9" fill="none" stroke="#8a4cc6" stroke-width="0.9" stroke-dasharray="1.6 1"/>
<circle cx="1234.1" cy="550.1" r="3.9" fill="none" stroke="#8a4cc6" stroke-width="0.9" stroke-dasharray="1.6 1"/>
<circle cx="1238.5" cy="551.4" r="3.9" fill="none" stroke="#8a4cc6" stroke-width="0.9" stroke-dasharray="1.6 1"/>
<circle cx="1242.9" cy="549.9" r="3.9" fill="none" stroke="#8a4cc6" stroke-width="0.9" stroke-dasharray="1.6 1"/>
<circle cx="1247.3" cy="550.6" r="3.9" fill="none" stroke="#8a4cc6" stroke-width="0.9" stroke-dasharray="1.6 1"/>
<circle cx="1251.7" cy="549.4" r="3.9" fill="none" stroke="#8a4cc6" stroke-width="0.9" stroke-dasharray="1.6 1"/>
<circle cx="1256.2" cy="547.2" r="3.9" fill="none" stroke="#8a4cc6" stroke-width="0.9" stroke-dasharray="1.6 1"/>
<circle cx="1260.6" cy="548.2" r="3.9" fill="none" stroke="#8a4cc6" stroke-width="0.9" stroke-dasharray="1.6 1"/>
<circle cx="1265" cy="550.5" r="3.9" fill="none" stroke="#8a4cc6" stroke-width="0.9" stroke-dasharray="1.6 1"/>
<circle cx="1269.4" cy="549" r="3.9" fill="none" stroke="#8a4cc6" stroke-width="0.9" stroke-dasharray="1.6 1"/>
<circle cx="1273.8" cy="552.5" r="3.9" fill="none" stroke="#8a4cc6" stroke-width="0.9" stroke-dasharray="1.6 1"/>
<circle cx="1278.2" cy="552.9" r="3.9" fill="none" stroke="#8a4cc6" stroke-width="0.9" stroke-dasharray="1.6 1"/>
<circle cx="1282.6" cy="554.3" r="3.9" fill="none" stroke="#8a4cc6" stroke-width="0.9" stroke-dasharray="1.6 1"/>
<circle cx="1287" cy="555.6" r="3.9" fill="none" stroke="#8a4cc6" stroke-width="0.9" stroke-dasharray="1.6 1"/>
<circle cx="1291.5" cy="560" r="3.9" fill="none" stroke="#8a4cc6" stroke-width="0.9" stroke-dasharray="1.6 1"/>
<circle cx="1295.9" cy="558.3" r="3.9" fill="none" stroke="#8a4cc6" stroke-width="0.9" stroke-dasharray="1.6 1"/>
<circle cx="1300.3" cy="559.7" r="3.9" fill="none" stroke="#8a4cc6" stroke-width="0.9" stroke-dasharray="1.6 1"/>
<circle cx="1304.7" cy="561" r="3.9" fill="none" stroke="#8a4cc6" stroke-width="0.9" stroke-dasharray="1.6 1"/>
<circle cx="1309.1" cy="563.7" r="3.9" fill="none" stroke="#8a4cc6" stroke-width="0.9" stroke-dasharray="1.6 1"/>
<circle cx="1313.5" cy="560.5" r="3.9" fill="none" stroke="#8a4cc6" stroke-width="0.9" stroke-dasharray="1.6 1"/>
<circle cx="1317.9" cy="562.4" r="3.9" fill="none" stroke="#8a4cc6" stroke-width="0.9" stroke-dasharray="1.6 1"/>
<circle cx="1322.4" cy="563" r="3.9" fill="none" stroke="#8a4cc6" stroke-width="0.9" stroke-dasharray="1.6 1"/>
<circle cx="1326.8" cy="564.6" r="3.9" fill="none" stroke="#8a4cc6" stroke-width="0.9" stroke-dasharray="1.6 1"/>
<circle cx="1331.2" cy="564.3" r="3.9" fill="none" stroke="#8a4cc6" stroke-width="0.9" stroke-dasharray="1.6 1"/>
<circle cx="1335.6" cy="564.6" r="3.9" fill="none" stroke="#8a4cc6" stroke-width="0.9" stroke-dasharray="1.6 1"/>
<circle cx="1340" cy="562" r="3.9" fill="none" stroke="#8a4cc6" stroke-width="0.9" stroke-dasharray="1.6 1"/>
<circle cx="1344.4" cy="562.6" r="3.9" fill="none" stroke="#8a4cc6" stroke-width="0.9" stroke-dasharray="1.6 1"/>
<circle cx="1348.8" cy="562.4" r="3.9" fill="none" stroke="#8a4cc6" stroke-width="0.9" stroke-dasharray="1.6 1"/>
<circle cx="1353.3" cy="564.7" r="3.9" fill="none" stroke="#8a4cc6" stroke-width="0.9" stroke-dasharray="1.6 1"/>
<circle cx="1357.7" cy="565" r="3.9" fill="none" stroke="#8a4cc6" stroke-width="0.9" stroke-dasharray="1.6 1"/>
<circle cx="1362.1" cy="561.5" r="3.9" fill="none" stroke="#8a4cc6" stroke-width="0.9" stroke-dasharray="1.6 1"/>
<circle cx="1366.5" cy="561.6" r="3.9" fill="none" stroke="#8a4cc6" stroke-width="0.9" stroke-dasharray="1.6 1"/>
<rect x="925.1" y="249.4" width="441.4" height="355.5" fill="none" stroke="#000" stroke-width="2.5"/>
<line x1="969.2" y1="604.9" x2="969.2" y2="611.4" stroke="#000" stroke-width="2.2" />
<text x="969.2" y="625.2" font-size="10.2" text-anchor="middle" fill="#000" font-family="'Liberation Sans', sans-serif" font-weight="bold" >282</text>
<line x1="1057.5" y1="604.9" x2="1057.5" y2="611.4" stroke="#000" stroke-width="2.2" />
<text x="1057.5" y="625.2" font-size="10.2" text-anchor="middle" fill="#000" font-family="'Liberation Sans', sans-serif" font-weight="bold" >284</text>
<line x1="1145.8" y1="604.9" x2="1145.8" y2="611.4" stroke="#000" stroke-width="2.2" />
<text x="1145.8" y="625.2" font-size="10.2" text-anchor="middle" fill="#000" font-family="'Liberation Sans', sans-serif" font-weight="bold" >286</text>
<line x1="1234.1" y1="604.9" x2="1234.1" y2="611.4" stroke="#000" stroke-width="2.2" />
<text x="1234.1" y="625.2" font-size="10.2" text-anchor="middle" fill="#000" font-family="'Liberation Sans', sans-serif" font-weight="bold" >288</text>
<line x1="1322.4" y1="604.9" x2="1322.4" y2="611.4" stroke="#000" stroke-width="2.2" />
<text x="1322.4" y="625.2" font-size="10.2" text-anchor="middle" fill="#000" font-family="'Liberation Sans', sans-serif" font-weight="bold" >290</text>
<line x1="925.1" y1="604.9" x2="925.1" y2="608.1" stroke="#000" stroke-width="2.2" />
<line x1="1013.4" y1="604.9" x2="1013.4" y2="608.1" stroke="#000" stroke-width="2.2" />
<line x1="1101.7" y1="604.9" x2="1101.7" y2="608.1" stroke="#000" stroke-width="2.2" />
<line x1="1189.9" y1="604.9" x2="1189.9" y2="608.1" stroke="#000" stroke-width="2.2" />
<line x1="1278.2" y1="604.9" x2="1278.2" y2="608.1" stroke="#000" stroke-width="2.2" />
<line x1="1366.5" y1="604.9" x2="1366.5" y2="608.1" stroke="#000" stroke-width="2.2" />
<text x="1146" y="640.7" font-size="10" text-anchor="middle" fill="#000" font-family="'Liberation Sans', sans-serif" font-weight="bold" >Binding Energy/ eV</text>
<text x="921" y="426.6" font-size="10.2" text-anchor="middle" fill="#000" font-family="'Liberation Sans', sans-serif" font-weight="bold" transform="rotate(-90 921 426.6)">Intensity/ a.u.</text>
<text x="908" y="258.6" font-size="9.6" text-anchor="start" fill="#000" font-family="'Liberation Sans', sans-serif" font-weight="bold" >(b)</text>
<text x="940.8" y="272.7" font-size="9.8" text-anchor="start" fill="#000" font-family="'Liberation Sans', sans-serif" font-weight="bold" >C 1s</text>
<circle cx="1268" cy="269" r="4.0" fill="none" stroke="#a060d0" stroke-width="0.9" stroke-dasharray="1.6 1"/>
<text x="1294.4" y="274.6" font-size="10" text-anchor="start" fill="#000" font-family="'Liberation Sans', sans-serif" font-weight="bold" >Experimental</text>
<line x1="1246.6" y1="296.5" x2="1289.4" y2="296.5" stroke="#f2b878" stroke-width="2.2" />
<text x="1292" y="302.9" font-size="10" text-anchor="start" fill="#000" font-family="'Liberation Sans', sans-serif" font-weight="bold" >Fit</text>
<line x1="1246.4" y1="323.7" x2="1289.6" y2="323.7" stroke="#1e32b4" stroke-width="2.0" />
<text x="1292" y="329.9" font-size="10" text-anchor="start" fill="#000" font-family="'Liberation Sans', sans-serif" font-weight="bold" >Background</text>
<text x="1019" y="393.5" font-size="10.8" text-anchor="middle" fill="#000" font-family="'Liberation Sans', sans-serif" font-weight="bold" >C&#8211;C/C&#8211;H</text>
<text x="1019" y="405.8" font-size="10.8" text-anchor="middle" fill="#000" font-family="'Liberation Sans', sans-serif" font-weight="bold" >284.56 eV</text>
<line x1="1076.8" y1="398.8" x2="1056.3" y2="398.8" stroke="#000" stroke-width="2.2" />
<path d="M1050.8 398.8 L1056.8 395.6 L1056.8 402 Z" fill="#000" stroke="none"/>
<text x="1169.6" y="419.2" font-size="10.8" text-anchor="middle" fill="#000" font-family="'Liberation Sans', sans-serif" font-weight="bold" >C&#8211;O</text>
<text x="1169.6" y="432.2" font-size="10.8" text-anchor="middle" fill="#000" font-family="'Liberation Sans', sans-serif" font-weight="bold" >285.04 eV</text>
<line x1="1109.9" y1="424.5" x2="1130.1" y2="424.5" stroke="#000" stroke-width="2.2" />
<path d="M1135.6 424.5 L1129.6 427.7 L1129.6 421.3 Z" fill="#000" stroke="none"/>
<text x="1263.6" y="521.8" font-size="10.8" text-anchor="middle" fill="#000" font-family="'Liberation Sans', sans-serif" font-weight="bold" >C=O</text>
<text x="1263.6" y="535" font-size="10.8" text-anchor="middle" fill="#000" font-family="'Liberation Sans', sans-serif" font-weight="bold" >288.60 eV</text>
<path d="M444.8 962.4 L444.8 962.2 L445.8 962.2 L446.8 962.2 L447.8 962.2 L448.8 962.2 L449.8 962.2 L450.8 962.2 L451.8 962.2 L452.8 962.2 L453.8 962.2 L454.8 962.1 L455.8 962.1 L456.8 962.1 L457.8 962.1 L458.8 962.1 L459.8 962.1 L460.8 962.1 L461.8 962.1 L462.8 962.1 L463.8 962.1 L464.8 962.1 L465.8 962.1 L466.8 962.1 L467.8 962.1 L468.8 962.1 L469.8 962.1 L470.8 962.1 L471.8 962.1 L472.8 962.1 L473.8 962.1 L474.8 962.1 L475.8 962.1 L476.8 962.1 L477.8 962.1 L478.8 962.1 L479.8 962.1 L480.8 962.1 L481.8 962.1 L482.8 962.1 L483.8 962 L484.8 962 L485.8 962 L486.8 962 L487.8 962 L488.8 962 L489.8 962 L490.8 962 L491.8 962 L492.8 962 L493.8 962 L494.8 962 L495.8 962 L496.8 962 L497.8 962 L498.8 962 L499.8 962 L500.8 962 L501.8 962 L502.8 961.9 L503.8 961.9 L504.8 961.9 L505.8 961.9 L506.8 961.9 L507.8 961.9 L508.8 961.9 L509.8 961.9 L510.8 961.9 L511.8 961.9 L512.8 961.9 L513.8 961.9 L514.8 961.9 L515.8 961.8 L516.8 961.8 L517.8 961.8 L518.8 961.8 L519.8 961.8 L520.8 961.8 L521.8 961.8 L522.8 961.8 L523.8 961.8 L524.8 961.8 L525.8 961.8 L526.8 961.7 L527.8 961.7 L528.8 961.7 L529.8 961.7 L530.8 961.7 L531.8 961.7 L532.8 961.7 L533.8 961.7 L534.8 961.6 L535.8 961.6 L536.8 961.6 L537.8 961.6 L538.8 961.6 L539.8 961.6 L540.8 961.6 L541.8 961.5 L542.8 961.5 L543.8 961.5 L544.8 961.5 L545.8 961.5 L546.8 961.4 L547.8 961.4 L548.8 961.4 L549.8 961.4 L550.8 961.4 L551.8 961.3 L552.8 961.3 L553.8 961.3 L554.8 961.3 L555.8 961.2 L556.8 961.2 L557.8 961.2 L558.8 961.2 L559.8 961.1 L560.8 961.1 L561.8 961.1 L562.8 961 L563.8 961 L564.8 961 L565.8 960.9 L566.8 960.9 L567.8 960.8 L568.8 960.8 L569.8 960.7 L570.8 960.7 L571.8 960.6 L572.8 960.6 L573.8 960.5 L574.8 960.4 L575.8 960.3 L576.8 960.2 L577.8 960.1 L578.8 960 L579.8 959.9 L580.8 959.7 L581.8 959.6 L582.8 959.4 L583.8 959.2 L584.8 959 L585.8 958.7 L586.8 958.5 L587.8 958.1 L588.8 957.8 L589.8 957.4 L590.8 956.9 L591.8 956.4 L592.8 955.8 L593.8 955.2 L594.8 954.5 L595.8 953.7 L596.8 952.8 L597.8 951.9 L598.8 950.8 L599.8 949.6 L600.8 948.3 L601.8 946.9 L602.8 945.3 L603.8 943.6 L604.8 941.7 L605.8 939.7 L606.8 937.6 L607.8 935.2 L608.8 932.8 L609.8 930.1 L610.8 927.3 L611.8 924.3 L612.8 921.1 L613.8 917.8 L614.8 914.3 L615.8 910.7 L616.8 907 L617.8 903.1 L618.8 899.1 L619.8 895 L620.8 890.8 L621.8 886.6 L622.8 882.3 L623.8 878 L624.8 873.7 L625.8 869.5 L626.8 865.3 L627.8 861.3 L628.8 857.4 L629.8 853.6 L630.8 850 L631.8 846.7 L632.8 843.6 L633.8 840.8 L634.8 838.4 L635.8 836.2 L636.8 834.5 L637.8 833.2 L638.8 832.2 L639.8 831.7 L640.8 831.6 L641.8 832.1 L642.8 833 L643.8 834.5 L644.8 836.5 L645.8 839 L646.8 841.9 L647.8 845.2 L648.8 848.8 L649.8 852.7 L650.8 856.9 L651.8 861.3 L652.8 865.9 L653.8 870.6 L654.8 875.4 L655.8 880.2 L656.8 885 L657.8 889.8 L658.8 894.5 L659.8 899.1 L660.8 903.6 L661.8 908 L662.8 912.1 L663.8 916.1 L664.8 919.9 L665.8 923.6 L666.8 927 L667.8 930.1 L668.8 933.1 L669.8 935.9 L670.8 938.4 L671.8 940.8 L672.8 942.9 L673.8 944.9 L674.8 946.7 L675.8 948.3 L676.8 949.8 L677.8 951.1 L678.8 952.2 L679.8 953.3 L680.8 954.2 L681.8 955 L682.8 955.8 L683.8 956.4 L684.8 957 L685.8 957.5 L686.8 957.9 L687.8 958.3 L688.8 958.6 L689.8 958.9 L690.8 959.2 L691.8 959.4 L692.8 959.6 L693.8 959.8 L694.8 959.9 L695.8 960.1 L696.8 960.2 L697.8 960.3 L698.8 960.4 L699.8 960.5 L700.8 960.6 L701.8 960.6 L702.8 960.7 L703.8 960.8 L704.8 960.8 L705.8 960.9 L706.8 960.9 L707.8 961 L708.8 961 L709.8 961 L710.8 961.1 L711.8 961.1 L712.8 961.1 L713.8 961.2 L714.8 961.2 L715.8 961.2 L716.8 961.3 L717.8 961.3 L718.8 961.3 L719.8 961.4 L720.8 961.4 L721.8 961.4 L722.8 961.4 L723.8 961.4 L724.8 961.5 L725.8 961.5 L726.8 961.5 L727.8 961.5 L728.8 961.5 L729.8 961.6 L730.8 961.6 L731.8 961.6 L732.8 961.6 L733.8 961.6 L734.8 961.6 L735.8 961.7 L736.8 961.7 L737.8 961.7 L738.8 961.7 L739.8 961.7 L740.8 961.7 L741.8 961.7 L742.8 961.8 L743.8 961.8 L744.8 961.8 L745.8 961.8 L746.8 961.8 L747.8 961.8 L748.8 961.8 L749.8 961.8 L750.8 961.8 L751.8 961.9 L752.8 961.9 L753.8 961.9 L754.8 961.9 L755.8 961.9 L756.8 961.9 L757.8 961.9 L758.8 961.9 L759.8 961.9 L760.8 961.9 L761.8 961.9 L762.8 961.9 L763.8 962 L764.8 962 L765.8 962 L766.8 962 L767.8 962 L768.8 962 L769.8 962 L770.8 962 L771.8 962 L772.8 962 L773.8 962 L774.8 962 L775.8 962 L776.8 962 L777.8 962 L778.8 962 L779.8 962 L780.8 962.1 L781.8 962.1 L782.8 962.1 L783.8 962.1 L784.8 962.1 L785.8 962.1 L786.8 962.1 L787.8 962.1 L788.8 962.1 L789.8 962.1 L790.8 962.1 L791.8 962.1 L792.8 962.1 L793.8 962.1 L794.8 962.1 L795.8 962.1 L796.8 962.1 L797.8 962.1 L798.8 962.1 L799.8 962.1 L800.8 962.1 L801.8 962.1 L802.8 962.1 L803.8 962.1 L804.8 962.1 L805.8 962.1 L806.8 962.2 L807.8 962.2 L808.8 962.2 L809.8 962.2 L810.8 962.2 L811.8 962.2 L812.8 962.2 L813.8 962.2 L814.8 962.2 L815.8 962.2 L816.8 962.2 L817.8 962.2 L818.8 962.2 L819.8 962.2 L820.8 962.2 L821.8 962.2 L822.8 962.2 L823.8 962.2 L824.8 962.2 L825.8 962.2 L826.8 962.2 L827.8 962.2 L828.8 962.2 L829.8 962.2 L830.8 962.2 L831.8 962.2 L832.8 962.2 L833.8 962.2 L834.8 962.2 L835.8 962.2 L836.8 962.2 L837.8 962.2 L838.8 962.2 L839.8 962.2 L840.8 962.2 L841.8 962.2 L842.8 962.2 L843.8 962.2 L844.8 962.2 L845.8 962.2 L846.8 962.2 L847.8 962.2 L848.8 962.2 L849.8 962.2 L850.8 962.2 L851.8 962.2 L852.8 962.2 L853.8 962.2 L854.8 962.2 L855.8 962.3 L856.8 962.3 L857.8 962.3 L858.8 962.3 L859.8 962.3 L860.8 962.3 L861.8 962.3 L862.8 962.3 L863.8 962.3 L864.8 962.3 L865.8 962.3 L866.8 962.3 L867.8 962.3 L868.8 962.3 L869.8 962.3 L870.8 962.3 L871.8 962.3 L872.8 962.3 L873.8 962.3 L874.8 962.3 L875.8 962.3 L876.8 962.3 L877.8 962.3 L878.8 962.3 L879.8 962.3 L880.8 962.3 L881.8 962.3 L882.8 962.3 L883.8 962.3 L883.8 962.4 Z" fill="#90f4f4" stroke="none"/>
<path d="M444.8 962.4 L444.8 962.1 L445.8 962.1 L446.8 962.1 L447.8 962.1 L448.8 962.1 L449.8 962.1 L450.8 962.1 L451.8 962.1 L452.8 962.1 L453.8 962.1 L454.8 962.1 L455.8 962.1 L456.8 962.1 L457.8 962.1 L458.8 962.1 L459.8 962.1 L460.8 962.1 L461.8 962.1 L462.8 962.1 L463.8 962.1 L464.8 962.1 L465.8 962.1 L466.8 962.1 L467.8 962.1 L468.8 962.1 L469.8 962.1 L470.8 962.1 L471.8 962.1 L472.8 962.1 L473.8 962.1 L474.8 962.1 L475.8 962.1 L476.8 962 L477.8 962 L478.8 962 L479.8 962 L480.8 962 L481.8 962 L482.8 962 L483.8 962 L484.8 962 L485.8 962 L486.8 962 L487.8 962 L488.8 962 L489.8 962 L490.8 962 L491.8 962 L492.8 962 L493.8 962 L494.8 962 L495.8 962 L496.8 962 L497.8 962 L498.8 962 L499.8 961.9 L500.8 961.9 L501.8 961.9 L502.8 961.9 L503.8 961.9 L504.8 961.9 L505.8 961.9 L506.8 961.9 L507.8 961.9 L508.8 961.9 L509.8 961.9 L510.8 961.9 L511.8 961.9 L512.8 961.9 L513.8 961.9 L514.8 961.9 L515.8 961.8 L516.8 961.8 L517.8 961.8 L518.8 961.8 L519.8 961.8 L520.8 961.8 L521.8 961.8 L522.8 961.8 L523.8 961.8 L524.8 961.8 L525.8 961.8 L526.8 961.8 L527.8 961.7 L528.8 961.7 L529.8 961.7 L530.8 961.7 L531.8 961.7 L532.8 961.7 L533.8 961.7 L534.8 961.7 L535.8 961.7 L536.8 961.6 L537.8 961.6 L538.8 961.6 L539.8 961.6 L540.8 961.6 L541.8 961.6 L542.8 961.6 L543.8 961.6 L544.8 961.5 L545.8 961.5 L546.8 961.5 L547.8 961.5 L548.8 961.5 L549.8 961.5 L550.8 961.5 L551.8 961.4 L552.8 961.4 L553.8 961.4 L554.8 961.4 L555.8 961.4 L556.8 961.4 L557.8 961.3 L558.8 961.3 L559.8 961.3 L560.8 961.3 L561.8 961.3 L562.8 961.2 L563.8 961.2 L564.8 961.2 L565.8 961.2 L566.8 961.1 L567.8 961.1 L568.8 961.1 L569.8 961.1 L570.8 961 L571.8 961 L572.8 961 L573.8 960.9 L574.8 960.9 L575.8 960.9 L576.8 960.8 L577.8 960.8 L578.8 960.8 L579.8 960.7 L580.8 960.7 L581.8 960.7 L582.8 960.6 L583.8 960.6 L584.8 960.5 L585.8 960.5 L586.8 960.4 L587.8 960.4 L588.8 960.3 L589.8 960.3 L590.8 960.2 L591.8 960.2 L592.8 960.1 L593.8 960 L594.8 960 L595.8 959.9 L596.8 959.8 L597.8 959.8 L598.8 959.7 L599.8 959.6 L600.8 959.5 L601.8 959.4 L602.8 959.4 L603.8 959.3 L604.8 959.2 L605.8 959 L606.8 958.9 L607.8 958.8 L608.8 958.7 L609.8 958.5 L610.8 958.4 L611.8 958.2 L612.8 958 L613.8 957.8 L614.8 957.6 L615.8 957.4 L616.8 957.1 L617.8 956.8 L618.8 956.5 L619.8 956.1 L620.8 955.7 L621.8 955.2 L622.8 954.7 L623.8 954.1 L624.8 953.4 L625.8 952.7 L626.8 951.8 L627.8 950.8 L628.8 949.7 L629.8 948.5 L630.8 947.1 L631.8 945.6 L632.8 943.8 L633.8 941.9 L634.8 939.7 L635.8 937.4 L636.8 934.8 L637.8 932 L638.8 928.9 L639.8 925.5 L640.8 921.9 L641.8 918 L642.8 913.9 L643.8 909.5 L644.8 904.9 L645.8 900 L646.8 894.9 L647.8 889.6 L648.8 884.2 L649.8 878.7 L650.8 873.1 L651.8 867.4 L652.8 861.8 L653.8 856.2 L654.8 850.8 L655.8 845.6 L656.8 840.6 L657.8 836.1 L658.8 831.9 L659.8 828.3 L660.8 825.2 L661.8 822.8 L662.8 821 L663.8 820 L664.8 819.8 L665.8 820.2 L666.8 821.1 L667.8 822.6 L668.8 824.6 L669.8 827.1 L670.8 830 L671.8 833.3 L672.8 836.9 L673.8 840.9 L674.8 845.1 L675.8 849.5 L676.8 854 L677.8 858.7 L678.8 863.5 L679.8 868.3 L680.8 873.2 L681.8 878 L682.8 882.7 L683.8 887.4 L684.8 891.9 L685.8 896.4 L686.8 900.7 L687.8 904.8 L688.8 908.8 L689.8 912.6 L690.8 916.2 L691.8 919.6 L692.8 922.9 L693.8 925.9 L694.8 928.7 L695.8 931.4 L696.8 933.9 L697.8 936.2 L698.8 938.3 L699.8 940.2 L700.8 942 L701.8 943.7 L702.8 945.2 L703.8 946.6 L704.8 947.8 L705.8 948.9 L706.8 950 L707.8 950.9 L708.8 951.7 L709.8 952.5 L710.8 953.2 L711.8 953.8 L712.8 954.3 L713.8 954.8 L714.8 955.3 L715.8 955.7 L716.8 956 L717.8 956.3 L718.8 956.6 L719.8 956.9 L720.8 957.2 L721.8 957.4 L722.8 957.6 L723.8 957.8 L724.8 958 L725.8 958.1 L726.8 958.3 L727.8 958.4 L728.8 958.5 L729.8 958.7 L730.8 958.8 L731.8 958.9 L732.8 959 L733.8 959.1 L734.8 959.2 L735.8 959.3 L736.8 959.3 L737.8 959.4 L738.8 959.5 L739.8 959.6 L740.8 959.6 L741.8 959.7 L742.8 959.8 L743.8 959.8 L744.8 959.9 L745.8 959.9 L746.8 960 L747.8 960.1 L748.8 960.1 L749.8 960.2 L750.8 960.2 L751.8 960.3 L752.8 960.3 L753.8 960.3 L754.8 960.4 L755.8 960.4 L756.8 960.5 L757.8 960.5 L758.8 960.6 L759.8 960.6 L760.8 960.6 L761.8 960.7 L762.8 960.7 L763.8 960.7 L764.8 960.8 L765.8 960.8 L766.8 960.8 L767.8 960.8 L768.8 960.9 L769.8 960.9 L770.8 960.9 L771.8 961 L772.8 961 L773.8 961 L774.8 961 L775.8 961.1 L776.8 961.1 L777.8 961.1 L778.8 961.1 L779.8 961.1 L780.8 961.2 L781.8 961.2 L782.8 961.2 L783.8 961.2 L784.8 961.2 L785.8 961.3 L786.8 961.3 L787.8 961.3 L788.8 961.3 L789.8 961.3 L790.8 961.4 L791.8 961.4 L792.8 961.4 L793.8 961.4 L794.8 961.4 L795.8 961.4 L796.8 961.4 L797.8 961.5 L798.8 961.5 L799.8 961.5 L800.8 961.5 L801.8 961.5 L802.8 961.5 L803.8 961.5 L804.8 961.5 L805.8 961.6 L806.8 961.6 L807.8 961.6 L808.8 961.6 L809.8 961.6 L810.8 961.6 L811.8 961.6 L812.8 961.6 L813.8 961.6 L814.8 961.7 L815.8 961.7 L816.8 961.7 L817.8 961.7 L818.8 961.7 L819.8 961.7 L820.8 961.7 L821.8 961.7 L822.8 961.7 L823.8 961.7 L824.8 961.7 L825.8 961.8 L826.8 961.8 L827.8 961.8 L828.8 961.8 L829.8 961.8 L830.8 961.8 L831.8 961.8 L832.8 961.8 L833.8 961.8 L834.8 961.8 L835.8 961.8 L836.8 961.8 L837.8 961.8 L838.8 961.8 L839.8 961.8 L840.8 961.9 L841.8 961.9 L842.8 961.9 L843.8 961.9 L844.8 961.9 L845.8 961.9 L846.8 961.9 L847.8 961.9 L848.8 961.9 L849.8 961.9 L850.8 961.9 L851.8 961.9 L852.8 961.9 L853.8 961.9 L854.8 961.9 L855.8 961.9 L856.8 961.9 L857.8 961.9 L858.8 962 L859.8 962 L860.8 962 L861.8 962 L862.8 962 L863.8 962 L864.8 962 L865.8 962 L866.8 962 L867.8 962 L868.8 962 L869.8 962 L870.8 962 L871.8 962 L872.8 962 L873.8 962 L874.8 962 L875.8 962 L876.8 962 L877.8 962 L878.8 962 L879.8 962 L880.8 962 L881.8 962 L882.8 962 L883.8 962 L883.8 962.4 Z" fill="#f9cfa2" stroke="none"/>
<path d="M444.8 962.4 L444.8 962.4 L445.8 962.4 L446.8 962.4 L447.8 962.4 L448.8 962.4 L449.8 962.4 L450.8 962.4 L451.8 962.4 L452.8 962.4 L453.8 962.4 L454.8 962.4 L455.8 962.4 L456.8 962.4 L457.8 962.4 L458.8 962.4 L459.8 962.4 L460.8 962.4 L461.8 962.4 L462.8 962.4 L463.8 962.4 L464.8 962.4 L465.8 962.4 L466.8 962.4 L467.8 962.4 L468.8 962.4 L469.8 962.4 L470.8 962.4 L471.8 962.4 L472.8 962.4 L473.8 962.4 L474.8 962.4 L475.8 962.4 L476.8 962.4 L477.8 962.4 L478.8 962.4 L479.8 962.4 L480.8 962.4 L481.8 962.4 L482.8 962.4 L483.8 962.4 L484.8 962.4 L485.8 962.4 L486.8 962.4 L487.8 962.4 L488.8 962.4 L489.8 962.4 L490.8 962.4 L491.8 962.4 L492.8 962.4 L493.8 962.4 L494.8 962.4 L495.8 962.4 L496.8 962.4 L497.8 962.4 L498.8 962.4 L499.8 962.4 L500.8 962.4 L501.8 962.4 L502.8 962.4 L503.8 962.4 L504.8 962.4 L505.8 962.4 L506.8 962.4 L507.8 962.4 L508.8 962.4 L509.8 962.4 L510.8 962.4 L511.8 962.4 L512.8 962.4 L513.8 962.4 L514.8 962.4 L515.8 962.4 L516.8 962.4 L517.8 962.4 L518.8 962.4 L519.8 962.4 L520.8 962.4 L521.8 962.4 L522.8 962.4 L523.8 962.4 L524.8 962.4 L525.8 962.4 L526.8 962.4 L527.8 962.4 L528.8 962.4 L529.8 962.4 L530.8 962.4 L531.8 962.4 L532.8 962.4 L533.8 962.4 L534.8 962.4 L535.8 962.4 L536.8 962.4 L537.8 962.4 L538.8 962.4 L539.8 962.4 L540.8 962.4 L541.8 962.4 L542.8 962.4 L543.8 962.4 L544.8 962.4 L545.8 962.4 L546.8 962.4 L547.8 962.4 L548.8 962.4 L549.8 962.4 L550.8 962.4 L551.8 962.4 L552.8 962.4 L553.8 962.4 L554.8 962.4 L555.8 962.4 L556.8 962.4 L557.8 962.4 L558.8 962.4 L559.8 962.4 L560.8 962.4 L561.8 962.4 L562.8 962.4 L563.8 962.4 L564.8 962.4 L565.8 962.4 L566.8 962.4 L567.8 962.4 L568.8 962.4 L569.8 962.4 L570.8 962.4 L571.8 962.4 L572.8 962.4 L573.8 962.4 L574.8 962.4 L575.8 962.4 L576.8 962.4 L577.8 962.4 L578.8 962.4 L579.8 962.4 L580.8 962.4 L581.8 962.4 L582.8 962.4 L583.8 962.4 L584.8 962.4 L585.8 962.4 L586.8 962.4 L587.8 962.4 L588.8 962.4 L589.8 962.4 L590.8 962.4 L591.8 962.4 L592.8 962.4 L593.8 962.3 L594.8 962.3 L595.8 962.3 L596.8 962.3 L597.8 962.3 L598.8 962.3 L599.8 962.3 L600.8 962.2 L601.8 962.2 L602.8 962.2 L603.8 962.1 L604.8 962.1 L605.8 962.1 L606.8 962 L607.8 961.9 L608.8 961.9 L609.8 961.8 L610.8 961.7 L611.8 961.6 L612.8 961.5 L613.8 961.4 L614.8 961.2 L615.8 961.1 L616.8 960.9 L617.8 960.7 L618.8 960.5 L619.8 960.2 L620.8 959.9 L621.8 959.6 L622.8 959.3 L623.8 958.9 L624.8 958.5 L625.8 958.1 L626.8 957.6 L627.8 957 L628.8 956.4 L629.8 955.8 L630.8 955.1 L631.8 954.3 L632.8 953.5 L633.8 952.6 L634.8 951.7 L635.8 950.7 L636.8 949.6 L637.8 948.4 L638.8 947.2 L639.8 945.8 L640.8 944.4 L641.8 943 L642.8 941.4 L643.8 939.7 L644.8 938 L645.8 936.2 L646.8 934.3 L647.8 932.3 L648.8 930.3 L649.8 928.1 L650.8 925.9 L651.8 923.6 L652.8 921.3 L653.8 918.9 L654.8 916.5 L655.8 914 L656.8 911.4 L657.8 908.9 L658.8 906.3 L659.8 903.7 L660.8 901 L661.8 898.4 L662.8 895.9 L663.8 893.3 L664.8 890.8 L665.8 888.3 L666.8 885.9 L667.8 883.5 L668.8 881.2 L669.8 879.1 L670.8 877 L671.8 875 L672.8 873.2 L673.8 871.5 L674.8 869.9 L675.8 868.5 L676.8 867.3 L677.8 866.2 L678.8 865.3 L679.8 864.5 L680.8 864 L681.8 863.6 L682.8 863.4 L683.8 863.4 L684.8 863.6 L685.8 863.9 L686.8 864.4 L687.8 865.1 L688.8 866 L689.8 867 L690.8 868.1 L691.8 869.4 L692.8 870.9 L693.8 872.4 L694.8 874.1 L695.8 876 L696.8 877.9 L697.8 879.9 L698.8 882 L699.8 884.2 L700.8 886.5 L701.8 888.8 L702.8 891.2 L703.8 893.7 L704.8 896.1 L705.8 898.6 L706.8 901.1 L707.8 903.6 L708.8 906.1 L709.8 908.6 L710.8 911.1 L711.8 913.5 L712.8 915.9 L713.8 918.2 L714.8 920.6 L715.8 922.8 L716.8 925 L717.8 927.2 L718.8 929.2 L719.8 931.3 L720.8 933.2 L721.8 935.1 L722.8 936.8 L723.8 938.6 L724.8 940.2 L725.8 941.8 L726.8 943.2 L727.8 944.7 L728.8 946 L729.8 947.2 L730.8 948.4 L731.8 949.6 L732.8 950.6 L733.8 951.6 L734.8 952.5 L735.8 953.4 L736.8 954.1 L737.8 954.9 L738.8 955.6 L739.8 956.2 L740.8 956.8 L741.8 957.3 L742.8 957.8 L743.8 958.3 L744.8 958.7 L745.8 959.1 L746.8 959.4 L747.8 959.7 L748.8 960 L749.8 960.3 L750.8 960.5 L751.8 960.7 L752.8 960.9 L753.8 961.1 L754.8 961.2 L755.8 961.4 L756.8 961.5 L757.8 961.6 L758.8 961.7 L759.8 961.8 L760.8 961.9 L761.8 961.9 L762.8 962 L763.8 962 L764.8 962.1 L765.8 962.1 L766.8 962.2 L767.8 962.2 L768.8 962.2 L769.8 962.3 L770.8 962.3 L771.8 962.3 L772.8 962.3 L773.8 962.3 L774.8 962.3 L775.8 962.3 L776.8 962.3 L777.8 962.4 L778.8 962.4 L779.8 962.4 L780.8 962.4 L781.8 962.4 L782.8 962.4 L783.8 962.4 L784.8 962.4 L785.8 962.4 L786.8 962.4 L787.8 962.4 L788.8 962.4 L789.8 962.4 L790.8 962.4 L791.8 962.4 L792.8 962.4 L793.8 962.4 L794.8 962.4 L795.8 962.4 L796.8 962.4 L797.8 962.4 L798.8 962.4 L799.8 962.4 L800.8 962.4 L801.8 962.4 L802.8 962.4 L803.8 962.4 L804.8 962.4 L805.8 962.4 L806.8 962.4 L807.8 962.4 L808.8 962.4 L809.8 962.4 L810.8 962.4 L811.8 962.4 L812.8 962.4 L813.8 962.4 L814.8 962.4 L815.8 962.4 L816.8 962.4 L817.8 962.4 L818.8 962.4 L819.8 962.4 L820.8 962.4 L821.8 962.4 L822.8 962.4 L823.8 962.4 L824.8 962.4 L825.8 962.4 L826.8 962.4 L827.8 962.4 L828.8 962.4 L829.8 962.4 L830.8 962.4 L831.8 962.4 L832.8 962.4 L833.8 962.4 L834.8 962.4 L835.8 962.4 L836.8 962.4 L837.8 962.4 L838.8 962.4 L839.8 962.4 L840.8 962.4 L841.8 962.4 L842.8 962.4 L843.8 962.4 L844.8 962.4 L845.8 962.4 L846.8 962.4 L847.8 962.4 L848.8 962.4 L849.8 962.4 L850.8 962.4 L851.8 962.4 L852.8 962.4 L853.8 962.4 L854.8 962.4 L855.8 962.4 L856.8 962.4 L857.8 962.4 L858.8 962.4 L859.8 962.4 L860.8 962.4 L861.8 962.4 L862.8 962.4 L863.8 962.4 L864.8 962.4 L865.8 962.4 L866.8 962.4 L867.8 962.4 L868.8 962.4 L869.8 962.4 L870.8 962.4 L871.8 962.4 L872.8 962.4 L873.8 962.4 L874.8 962.4 L875.8 962.4 L876.8 962.4 L877.8 962.4 L878.8 962.4 L879.8 962.4 L880.8 962.4 L881.8 962.4 L882.8 962.4 L883.8 962.4 L883.8 962.4 Z" fill="#c6c6f6" stroke="none"/>
<line x1="444.8" y1="962.4" x2="884.2" y2="962.4" stroke="#2a3ad0" stroke-width="1.5" />
<path d="M444.8 962.4 L445.8 962.4 L446.8 962.4 L447.8 962.4 L448.8 962.4 L449.8 962.4 L450.8 962.4 L451.8 962.4 L452.8 962.4 L453.8 962.4 L454.8 962.4 L455.8 962.4 L456.8 962.4 L457.8 962.4 L458.8 962.4 L459.8 962.4 L460.8 962.4 L461.8 962.4 L462.8 962.4 L463.8 962.4 L464.8 962.4 L465.8 962.4 L466.8 962.4 L467.8 962.4 L468.8 962.4 L469.8 962.4 L470.8 962.4 L471.8 962.4 L472.8 962.4 L473.8 962.4 L474.8 962.4 L475.8 962.4 L476.8 962.4 L477.8 962.4 L478.8 962.4 L479.8 962.4 L480.8 962.4 L481.8 962.4 L482.8 962.4 L483.8 962.4 L484.8 962.4 L485.8 962.4 L486.8 962.4 L487.8 962.4 L488.8 962.4 L489.8 962.4 L490.8 962.4 L491.8 962.4 L492.8 962.4 L493.8 962.4 L494.8 962.4 L495.8 962.4 L496.8 962.4 L497.8 962.4 L498.8 962.4 L499.8 962.4 L500.8 962.4 L501.8 962.4 L502.8 962.4 L503.8 962.4 L504.8 962.4 L505.8 962.4 L506.8 962.4 L507.8 962.4 L508.8 962.4 L509.8 962.4 L510.8 962.4 L511.8 962.4 L512.8 962.4 L513.8 962.4 L514.8 962.4 L515.8 962.4 L516.8 962.4 L517.8 962.4 L518.8 962.4 L519.8 962.4 L520.8 962.4 L521.8 962.4 L522.8 962.4 L523.8 962.4 L524.8 962.4 L525.8 962.4 L526.8 962.4 L527.8 962.4 L528.8 962.4 L529.8 962.4 L530.8 962.4 L531.8 962.4 L532.8 962.4 L533.8 962.4 L534.8 962.4 L535.8 962.4 L536.8 962.4 L537.8 962.4 L538.8 962.4 L539.8 962.4 L540.8 962.4 L541.8 962.4 L542.8 962.4 L543.8 962.4 L544.8 962.4 L545.8 962.4 L546.8 962.4 L547.8 962.4 L548.8 962.4 L549.8 962.3 L550.8 962.3 L551.8 962.3 L552.8 962.3 L553.8 962.3 L554.8 962.3 L555.8 962.3 L556.8 962.3 L557.8 962.2 L558.8 962.2 L559.8 962.2 L560.8 962.1 L561.8 962.1 L562.8 962.1 L563.8 962 L564.8 962 L565.8 961.9 L566.8 961.8 L567.8 961.7 L568.8 961.7 L569.8 961.6 L570.8 961.4 L571.8 961.3 L572.8 961.2 L573.8 961 L574.8 960.9 L575.8 960.7 L576.8 960.4 L577.8 960.2 L578.8 959.9 L579.8 959.6 L580.8 959.3 L581.8 959 L582.8 958.6 L583.8 958.1 L584.8 957.7 L585.8 957.1 L586.8 956.6 L587.8 955.9 L588.8 955.3 L589.8 954.5 L590.8 953.7 L591.8 952.8 L592.8 951.9 L593.8 950.9 L594.8 949.8 L595.8 948.6 L596.8 947.3 L597.8 945.9 L598.8 944.4 L599.8 942.8 L600.8 941.1 L601.8 939.3 L602.8 937.3 L603.8 935.2 L604.8 933 L605.8 930.7 L606.8 928.2 L607.8 925.6 L608.8 922.8 L609.8 919.9 L610.8 916.8 L611.8 913.5 L612.8 910.1 L613.8 906.6 L614.8 902.9 L615.8 899 L616.8 895 L617.8 890.8 L618.8 886.4 L619.8 881.9 L620.8 877.2 L621.8 872.4 L622.8 867.5 L623.8 862.4 L624.8 857.2 L625.8 851.9 L626.8 846.5 L627.8 840.9 L628.8 835.3 L629.8 829.6 L630.8 823.8 L631.8 818 L632.8 812.1 L633.8 806.3 L634.8 800.4 L635.8 794.5 L636.8 788.6 L637.8 782.8 L638.8 777 L639.8 771.4 L640.8 765.8 L641.8 760.3 L642.8 755 L643.8 749.8 L644.8 744.8 L645.8 739.9 L646.8 735.3 L647.8 730.9 L648.8 726.8 L649.8 722.8 L650.8 719.2 L651.8 715.8 L652.8 712.8 L653.8 710 L654.8 707.6 L655.8 705.5 L656.8 703.7 L657.8 702.3 L658.8 701.2 L659.8 700.5 L660.8 700.1 L661.8 700.1 L662.8 700.4 L663.8 701 L664.8 701.9 L665.8 703 L666.8 704.5 L667.8 706.2 L668.8 708.2 L669.8 710.4 L670.8 712.9 L671.8 715.7 L672.8 718.7 L673.8 721.9 L674.8 725.4 L675.8 729 L676.8 732.9 L677.8 736.9 L678.8 741.1 L679.8 745.5 L680.8 750 L681.8 754.7 L682.8 759.5 L683.8 764.4 L684.8 769.4 L685.8 774.5 L686.8 779.6 L687.8 784.8 L688.8 790.1 L689.8 795.4 L690.8 800.7 L691.8 806 L692.8 811.3 L693.8 816.5 L694.8 821.8 L695.8 827 L696.8 832.2 L697.8 837.3 L698.8 842.3 L699.8 847.3 L700.8 852.2 L701.8 856.9 L702.8 861.6 L703.8 866.2 L704.8 870.7 L705.8 875.1 L706.8 879.4 L707.8 883.5 L708.8 887.5 L709.8 891.4 L710.8 895.2 L711.8 898.8 L712.8 902.3 L713.8 905.7 L714.8 908.9 L715.8 912 L716.8 915 L717.8 917.9 L718.8 920.6 L719.8 923.2 L720.8 925.7 L721.8 928.1 L722.8 930.3 L723.8 932.5 L724.8 934.5 L725.8 936.4 L726.8 938.2 L727.8 939.9 L728.8 941.5 L729.8 943.1 L730.8 944.5 L731.8 945.8 L732.8 947.1 L733.8 948.3 L734.8 949.4 L735.8 950.4 L736.8 951.3 L737.8 952.2 L738.8 953.1 L739.8 953.8 L740.8 954.6 L741.8 955.2 L742.8 955.9 L743.8 956.4 L744.8 956.9 L745.8 957.4 L746.8 957.9 L747.8 958.3 L748.8 958.7 L749.8 959 L750.8 959.3 L751.8 959.6 L752.8 959.9 L753.8 960.1 L754.8 960.4 L755.8 960.6 L756.8 960.7 L757.8 960.9 L758.8 961.1 L759.8 961.2 L760.8 961.3 L761.8 961.4 L762.8 961.5 L763.8 961.6 L764.8 961.7 L765.8 961.8 L766.8 961.9 L767.8 961.9 L768.8 962 L769.8 962 L770.8 962.1 L771.8 962.1 L772.8 962.1 L773.8 962.2 L774.8 962.2 L775.8 962.2 L776.8 962.2 L777.8 962.3 L778.8 962.3 L779.8 962.3 L780.8 962.3 L781.8 962.3 L782.8 962.3 L783.8 962.3 L784.8 962.3 L785.8 962.4 L786.8 962.4 L787.8 962.4 L788.8 962.4 L789.8 962.4 L790.8 962.4 L791.8 962.4 L792.8 962.4 L793.8 962.4 L794.8 962.4 L795.8 962.4 L796.8 962.4 L797.8 962.4 L798.8 962.4 L799.8 962.4 L800.8 962.4 L801.8 962.4 L802.8 962.4 L803.8 962.4 L804.8 962.4 L805.8 962.4 L806.8 962.4 L807.8 962.4 L808.8 962.4 L809.8 962.4 L810.8 962.4 L811.8 962.4 L812.8 962.4 L813.8 962.4 L814.8 962.4 L815.8 962.4 L816.8 962.4 L817.8 962.4 L818.8 962.4 L819.8 962.4 L820.8 962.4 L821.8 962.4 L822.8 962.4 L823.8 962.4 L824.8 962.4 L825.8 962.4 L826.8 962.4 L827.8 962.4 L828.8 962.4 L829.8 962.4 L830.8 962.4 L831.8 962.4 L832.8 962.4 L833.8 962.4 L834.8 962.4 L835.8 962.4 L836.8 962.4 L837.8 962.4 L838.8 962.4 L839.8 962.4 L840.8 962.4 L841.8 962.4 L842.8 962.4 L843.8 962.4 L844.8 962.4 L845.8 962.4 L846.8 962.4 L847.8 962.4 L848.8 962.4 L849.8 962.4 L850.8 962.4 L851.8 962.4 L852.8 962.4 L853.8 962.4 L854.8 962.4 L855.8 962.4 L856.8 962.4 L857.8 962.4 L858.8 962.4 L859.8 962.4 L860.8 962.4 L861.8 962.4 L862.8 962.4 L863.8 962.4 L864.8 962.4 L865.8 962.4 L866.8 962.4 L867.8 962.4 L868.8 962.4 L869.8 962.4 L870.8 962.4 L871.8 962.4 L872.8 962.4 L873.8 962.4 L874.8 962.4 L875.8 962.4 L876.8 962.4 L877.8 962.4 L878.8 962.4 L879.8 962.4 L880.8 962.4 L881.8 962.4 L882.8 962.4 L883.8 962.4" stroke="#f0bcea" stroke-width="2.0" fill="none" stroke-linejoin="round" />
<circle cx="443.6" cy="964" r="3.7" fill="none" stroke="#111" stroke-width="0.9"/>
<circle cx="451" cy="968.4" r="3.7" fill="none" stroke="#111" stroke-width="0.9"/>
<circle cx="459.3" cy="967.6" r="3.7" fill="none" stroke="#111" stroke-width="0.9"/>
<circle cx="467.3" cy="962.5" r="3.7" fill="none" stroke="#111" stroke-width="0.9"/>
<circle cx="475.3" cy="967.6" r="3.7" fill="none" stroke="#111" stroke-width="0.9"/>
<circle cx="483.6" cy="966.1" r="3.7" fill="none" stroke="#111" stroke-width="0.9"/>
<circle cx="491.2" cy="966.7" r="3.7" fill="none" stroke="#111" stroke-width="0.9"/>
<circle cx="499.2" cy="966.7" r="3.7" fill="none" stroke="#111" stroke-width="0.9"/>
<circle cx="507.5" cy="965.5" r="3.7" fill="none" stroke="#111" stroke-width="0.9"/>
<circle cx="515.2" cy="966.7" r="3.7" fill="none" stroke="#111" stroke-width="0.9"/>
<circle cx="523.2" cy="967.6" r="3.7" fill="none" stroke="#111" stroke-width="0.9"/>
<circle cx="531.1" cy="967.6" r="3.7" fill="none" stroke="#111" stroke-width="0.9"/>
<circle cx="539.4" cy="966.1" r="3.7" fill="none" stroke="#111" stroke-width="0.9"/>
<circle cx="547.4" cy="966" r="3.7" fill="none" stroke="#111" stroke-width="0.9"/>
<circle cx="555.5" cy="957.8" r="3.7" fill="none" stroke="#111" stroke-width="0.9"/>
<circle cx="563.6" cy="957.8" r="3.7" fill="none" stroke="#111" stroke-width="0.9"/>
<circle cx="571.8" cy="954.9" r="3.7" fill="none" stroke="#111" stroke-width="0.9"/>
<circle cx="579.6" cy="951.9" r="3.7" fill="none" stroke="#111" stroke-width="0.9"/>
<circle cx="587.7" cy="951.2" r="3.7" fill="none" stroke="#111" stroke-width="0.9"/>
<circle cx="595.9" cy="943.8" r="3.7" fill="none" stroke="#111" stroke-width="0.9"/>
<circle cx="603.8" cy="933.4" r="3.7" fill="none" stroke="#111" stroke-width="0.9"/>
<circle cx="612" cy="914.2" r="3.7" fill="none" stroke="#111" stroke-width="0.9"/>
<circle cx="619.8" cy="884.7" r="3.7" fill="none" stroke="#111" stroke-width="0.9"/>
<circle cx="628.7" cy="843.3" r="3.7" fill="none" stroke="#111" stroke-width="0.9"/>
<circle cx="636.8" cy="794.5" r="3.7" fill="none" stroke="#111" stroke-width="0.9"/>
<circle cx="644.9" cy="746.8" r="3.7" fill="none" stroke="#111" stroke-width="0.9"/>
<circle cx="653" cy="707.3" r="3.7" fill="none" stroke="#111" stroke-width="0.9"/>
<circle cx="660.9" cy="699.2" r="3.7" fill="none" stroke="#111" stroke-width="0.9"/>
<circle cx="669" cy="702.2" r="3.7" fill="none" stroke="#111" stroke-width="0.9"/>
<circle cx="677.1" cy="727.6" r="3.7" fill="none" stroke="#111" stroke-width="0.9"/>
<circle cx="684.8" cy="766.2" r="3.7" fill="none" stroke="#111" stroke-width="0.9"/>
<circle cx="692.9" cy="815.2" r="3.7" fill="none" stroke="#111" stroke-width="0.9"/>
<circle cx="701.1" cy="861.8" r="3.7" fill="none" stroke="#111" stroke-width="0.9"/>
<circle cx="709.2" cy="895" r="3.7" fill="none" stroke="#111" stroke-width="0.9"/>
<circle cx="717.3" cy="923.1" r="3.7" fill="none" stroke="#111" stroke-width="0.9"/>
<circle cx="725.5" cy="936.4" r="3.7" fill="none" stroke="#111" stroke-width="0.9"/>
<circle cx="733.3" cy="947.5" r="3.7" fill="none" stroke="#111" stroke-width="0.9"/>
<circle cx="741.3" cy="954.3" r="3.7" fill="none" stroke="#111" stroke-width="0.9"/>
<circle cx="749.3" cy="957.5" r="3.7" fill="none" stroke="#111" stroke-width="0.9"/>
<circle cx="757.1" cy="958" r="3.7" fill="none" stroke="#111" stroke-width="0.9"/>
<circle cx="765.2" cy="959.8" r="3.7" fill="none" stroke="#111" stroke-width="0.9"/>
<circle cx="773.3" cy="965.3" r="3.7" fill="none" stroke="#111" stroke-width="0.9"/>
<circle cx="781.2" cy="965.5" r="3.7" fill="none" stroke="#111" stroke-width="0.9"/>
<circle cx="789.5" cy="960.7" r="3.7" fill="none" stroke="#111" stroke-width="0.9"/>
<circle cx="797.2" cy="962.5" r="3.7" fill="none" stroke="#111" stroke-width="0.9"/>
<circle cx="805.2" cy="962.5" r="3.7" fill="none" stroke="#111" stroke-width="0.9"/>
<circle cx="813.1" cy="965.5" r="3.7" fill="none" stroke="#111" stroke-width="0.9"/>
<circle cx="821.1" cy="966.7" r="3.7" fill="none" stroke="#111" stroke-width="0.9"/>
<circle cx="828.8" cy="966.1" r="3.7" fill="none" stroke="#111" stroke-width="0.9"/>
<circle cx="836.8" cy="969" r="3.7" fill="none" stroke="#111" stroke-width="0.9"/>
<circle cx="844.8" cy="963.7" r="3.7" fill="none" stroke="#111" stroke-width="0.9"/>
<circle cx="853" cy="961" r="3.7" fill="none" stroke="#111" stroke-width="0.9"/>
<circle cx="861" cy="962.5" r="3.7" fill="none" stroke="#111" stroke-width="0.9"/>
<circle cx="869.3" cy="963.7" r="3.7" fill="none" stroke="#111" stroke-width="0.9"/>
<circle cx="877" cy="959.6" r="3.7" fill="none" stroke="#111" stroke-width="0.9"/>
<circle cx="885" cy="963.7" r="3.7" fill="none" stroke="#111" stroke-width="0.9"/>
<rect x="443.5" y="652.6" width="442" height="355.8" fill="none" stroke="#000" stroke-width="2.5"/>
<line x1="443.5" y1="1008.4" x2="443.5" y2="1014.9" stroke="#000" stroke-width="2.2" />
<text x="443.5" y="1027.9" font-size="10.2" text-anchor="middle" fill="#000" font-family="'Liberation Sans', sans-serif" font-weight="bold" >526</text>
<line x1="523.9" y1="1008.4" x2="523.9" y2="1014.9" stroke="#000" stroke-width="2.2" />
<text x="523.9" y="1027.9" font-size="10.2" text-anchor="middle" fill="#000" font-family="'Liberation Sans', sans-serif" font-weight="bold" >528</text>
<line x1="604.2" y1="1008.4" x2="604.2" y2="1014.9" stroke="#000" stroke-width="2.2" />
<text x="604.2" y="1027.9" font-size="10.2" text-anchor="middle" fill="#000" font-family="'Liberation Sans', sans-serif" font-weight="bold" >530</text>
<line x1="684.6" y1="1008.4" x2="684.6" y2="1014.9" stroke="#000" stroke-width="2.2" />
<text x="684.6" y="1027.9" font-size="10.2" text-anchor="middle" fill="#000" font-family="'Liberation Sans', sans-serif" font-weight="bold" >532</text>
<line x1="764.9" y1="1008.4" x2="764.9" y2="1014.9" stroke="#000" stroke-width="2.2" />
<text x="764.9" y="1027.9" font-size="10.2" text-anchor="middle" fill="#000" font-family="'Liberation Sans', sans-serif" font-weight="bold" >534</text>
<line x1="845.3" y1="1008.4" x2="845.3" y2="1014.9" stroke="#000" stroke-width="2.2" />
<text x="845.3" y="1027.9" font-size="10.2" text-anchor="middle" fill="#000" font-family="'Liberation Sans', sans-serif" font-weight="bold" >536</text>
<line x1="483.7" y1="1008.4" x2="483.7" y2="1011.6" stroke="#000" stroke-width="2.2" />
<line x1="564" y1="1008.4" x2="564" y2="1011.6" stroke="#000" stroke-width="2.2" />
<line x1="644.4" y1="1008.4" x2="644.4" y2="1011.6" stroke="#000" stroke-width="2.2" />
<line x1="724.8" y1="1008.4" x2="724.8" y2="1011.6" stroke="#000" stroke-width="2.2" />
<line x1="805.1" y1="1008.4" x2="805.1" y2="1011.6" stroke="#000" stroke-width="2.2" />
<line x1="885.5" y1="1008.4" x2="885.5" y2="1011.6" stroke="#000" stroke-width="2.2" />
<text x="664.8" y="1041.8" font-size="10" text-anchor="middle" fill="#000" font-family="'Liberation Sans', sans-serif" font-weight="bold" >Binding Energy/ eV</text>
<text x="439" y="830" font-size="10.2" text-anchor="middle" fill="#000" font-family="'Liberation Sans', sans-serif" font-weight="bold" transform="rotate(-90 439 830)">Intensity/ a.u.</text>
<text x="426.5" y="661" font-size="9.6" text-anchor="start" fill="#000" font-family="'Liberation Sans', sans-serif" font-weight="bold" >(c)</text>
<text x="851.6" y="676.3" font-size="10" text-anchor="middle" fill="#000" font-family="'Liberation Sans', sans-serif" font-weight="bold" >O 1s</text>
<circle cx="468.8" cy="674.3" r="3.7" fill="none" stroke="#111" stroke-width="0.9"/>
<text x="495.4" y="680.8" font-size="10" text-anchor="start" fill="#000" font-family="'Liberation Sans', sans-serif" font-weight="bold" >Experimental</text>
<line x1="448.7" y1="702.4" x2="490" y2="702.4" stroke="#f2cdee" stroke-width="1.9" />
<text x="492.4" y="708.4" font-size="10" text-anchor="start" fill="#000" font-family="'Liberation Sans', sans-serif" font-weight="bold" >Fit</text>
<line x1="448.7" y1="729.6" x2="490" y2="729.6" stroke="#0a0ad0" stroke-width="2.4" />
<text x="492.4" y="736" font-size="10" text-anchor="start" fill="#000" font-family="'Liberation Sans', sans-serif" font-weight="bold" >Background</text>
<text x="571.3" y="830" font-size="10.8" text-anchor="middle" fill="#000" font-family="'Liberation Sans', sans-serif" font-weight="bold" >Ni&#8211;O</text>
<text x="571.3" y="842.5" font-size="10.8" text-anchor="middle" fill="#000" font-family="'Liberation Sans', sans-serif" font-weight="bold" >530.90 eV</text>
<line x1="635.2" y1="838" x2="611.7" y2="838" stroke="#000" stroke-width="2.2" />
<path d="M606.2 838 L612.2 834.8 L612.2 841.2 Z" fill="#000" stroke="none"/>
<text x="731.9" y="824.1" font-size="10.8" text-anchor="middle" fill="#000" font-family="'Liberation Sans', sans-serif" font-weight="bold" >Zn&#160;&#160;O</text>
<text x="731.9" y="837.5" font-size="10.8" text-anchor="middle" fill="#000" font-family="'Liberation Sans', sans-serif" font-weight="bold" >531.50 eV</text>
<line x1="669.8" y1="827.7" x2="697.7" y2="827.7" stroke="#000" stroke-width="2.2" />
<path d="M703.2 827.7 L697.2 830.9 L697.2 824.5 Z" fill="#000" stroke="none"/>
<text x="754.9" y="876.5" font-size="10.8" text-anchor="middle" fill="#000" font-family="'Liberation Sans', sans-serif" font-weight="bold" >Ni&#8211;OH</text>
<text x="754.9" y="889.2" font-size="10.8" text-anchor="middle" fill="#000" font-family="'Liberation Sans', sans-serif" font-weight="bold" >531.96 eV</text>
<line x1="694.3" y1="878.3" x2="721.9" y2="878.3" stroke="#000" stroke-width="2.2" />
<path d="M727.4 878.3 L721.4 881.5 L721.4 875.1 Z" fill="#000" stroke="none"/>
<path d="M925.9 990.1 L926.7 989.8 L927.5 989.6 L928.3 989.3 L929.1 989 L929.9 988.8 L930.7 988.5 L931.5 988.3 L932.3 988 L933.1 987.7 L933.9 987.5 L934.7 987.2 L935.5 987 L936.3 986.7 L937.1 986.4 L937.9 986.2 L938.7 985.9 L939.5 985.7 L940.3 985.4 L941.1 985 L941.9 984.6 L942.7 984.2 L943.5 983.9 L944.3 983.5 L945.1 983.1 L945.9 982.7 L946.7 982.4 L947.5 982 L948.3 981.6 L949.1 981.3 L949.9 980.9 L950.7 980.5 L951.5 980.1 L952.3 979.8 L953.1 979.4 L953.9 979 L954.7 978.6 L955.5 978.1 L956.3 977.6 L957.1 977 L957.9 976.5 L958.7 975.9 L959.5 975.4 L960.3 974.8 L961.1 974.2 L961.9 973.7 L962.7 973.1 L963.5 972.5 L964.3 972 L965.1 971.4 L965.9 970.9 L966.7 970.4 L967.5 969.9 L968.3 969.3 L969.1 968.8 L969.9 968.3 L970.7 967.8 L971.5 967.2 L972.3 966.8 L973.1 966.4 L973.9 966 L974.7 965.6 L975.5 965.2 L976.3 964.8 L977.1 964.4 L977.9 964 L978.7 963.6 L979.5 963.3 L980.3 962.9 L981.1 962.5 L981.9 962.1 L982.7 961.7 L983.5 961.3 L984.3 960.9 L985.1 960.5 L985.9 960.1 L986.7 959.7 L987.5 959.3 L988.3 958.9 L989.1 958.5 L989.9 958.1 L990.7 957.7 L991.5 957.3 L992.3 956.9 L993.1 956.5 L993.9 956.1 L994.7 955.8 L995.5 955.4 L996.3 955 L997.1 954.6 L997.9 954.2 L998.7 953.8 L999.5 953.4 L1000.3 953 L1001.1 952.6 L1001.9 952.2 L1002.7 951.8 L1003.5 951.4 L1004.3 951 L1005.1 950.6 L1005.9 950.2 L1006.7 949.8 L1007.5 949.4 L1008.3 949 L1009.1 948.6 L1009.9 948.3 L1010.7 947.9 L1011.5 947.5 L1012.3 947.1 L1013.1 946.7 L1013.9 946.3 L1014.7 945.9 L1015.5 945.5 L1016.3 945.1 L1017.1 944.7 L1017.9 944.3 L1018.7 943.9 L1019.5 943.5 L1020.3 943.1 L1021.1 942.7 L1021.9 942.3 L1022.7 941.9 L1023.5 941.5 L1024.3 941.1 L1025.1 940.8 L1025.9 940.4 L1026.7 940 L1027.5 939.6 L1028.3 939.2 L1029.1 938.8 L1029.9 938.4 L1030.7 938 L1031.5 937.6 L1032.3 937.2 L1033.1 936.8 L1033.9 936.4 L1034.7 936 L1035.5 935.6 L1036.3 935.2 L1037.1 934.8 L1037.9 934.4 L1038.7 934 L1039.5 933.6 L1040.3 933.3 L1041.1 932.9 L1041.9 932.5 L1042.7 932.1 L1043.5 931.7 L1044.3 931.3 L1045.1 930.9 L1045.9 930.5 L1046.7 930.1 L1047.5 929.7 L1048.3 929.3 L1049.1 928.9 L1049.9 928.5 L1050.7 928.1 L1051.5 927.7 L1052.3 927.3 L1053.1 926.9 L1053.9 926.5 L1054.7 926.1 L1055.5 925.8 L1056.3 925.4 L1057.1 925 L1057.9 924.6 L1058.7 924.2 L1059.5 923.8 L1060.3 923.4 L1061.1 923 L1061.9 922.6 L1062.7 922.2 L1063.5 921.8 L1064.3 921.4 L1065.1 921 L1065.9 920.6 L1066.7 920.2 L1067.5 919.8 L1068.3 919.4 L1069.1 919 L1069.9 918.6 L1070.7 918.3 L1071.5 917.9 L1072.3 917.5 L1073.1 917.1 L1073.9 916.7 L1074.7 916.3 L1075.5 915.9 L1076.3 915.5 L1077.1 915.1 L1077.9 914.7 L1078.7 914.3 L1079.5 913.9 L1080.3 913.5 L1081.1 913.1 L1081.9 912.7 L1082.7 912.3 L1083.5 911.9 L1084.3 911.5 L1085.1 911.2 L1085.9 910.8 L1086.7 910.4 L1087.5 910 L1088.3 909.6 L1089.1 909.2 L1089.9 908.8 L1090.7 908.4 L1091.5 908 L1092.3 907.6 L1093.1 907.2 L1093.9 906.8 L1094.7 906.4 L1095.5 906 L1096.3 905.6 L1097.1 905.2 L1097.9 904.8 L1098.7 904.4 L1099.5 904 L1100.3 903.7 L1101.1 903.3 L1101.9 902.9 L1102.7 902.5 L1103.5 902.1 L1104.3 901.7 L1105.1 901.3 L1105.9 900.9 L1106.7 900.5 L1107.5 900.1 L1108.3 899.7 L1109.1 899.3 L1109.9 898.9 L1110.7 898.5 L1111.5 898.1 L1112.3 897.7 L1113.1 897.3 L1113.9 896.9 L1114.7 896.5 L1115.5 896.2 L1116.3 895.8 L1117.1 895.4 L1117.9 895 L1118.7 894.6 L1119.5 894.2 L1120.3 893.8 L1121.1 893.4 L1121.9 893 L1122.7 892.6 L1123.5 892.2 L1124.3 891.8 L1125.1 891.4 L1125.9 891 L1126.7 890.6 L1127.5 890.2 L1128.3 889.8 L1129.1 889.4 L1129.9 889 L1130.7 888.7 L1131.5 888.3 L1132.3 887.9 L1133.1 887.5 L1133.9 887.1 L1134.7 886.7 L1135.5 886.3 L1136.3 885.9 L1137.1 885.5 L1137.9 885.1 L1138.7 884.7 L1139.5 884.3 L1140.3 883.9 L1141.1 883.5 L1141.9 883.1 L1142.7 882.7 L1143.5 882.3 L1144.3 881.9 L1145.1 881.5 L1145.9 881.2 L1146.7 880.8 L1147.5 880.4 L1148.3 880 L1149.1 879.6 L1149.9 879.2 L1150.7 878.8 L1151.5 878.4 L1152.3 878 L1153.1 877.6 L1153.9 877.2 L1154.7 876.8 L1155.5 876.4 L1156.3 876 L1157.1 875.6 L1157.9 875.2 L1158.7 874.8 L1159.5 874.4 L1160.3 874 L1161.1 873.7 L1161.9 873.3 L1162.7 872.9 L1163.5 872.5 L1164.3 872.1 L1165.1 871.7 L1165.9 871.3 L1166.7 870.9 L1167.5 870.5 L1168.3 870.1 L1169.1 869.7 L1169.9 869.3 L1170.7 868.9 L1171.5 868.5 L1172.3 868.1 L1173.1 867.7 L1173.9 867.3 L1174.7 866.9 L1175.5 866.5 L1176.3 866.2 L1177.1 865.8 L1177.9 865.4 L1178.7 865 L1179.5 864.6 L1180.3 864.2 L1181.1 863.8 L1181.9 863.4 L1182.7 863 L1183.5 862.6 L1184.3 862.2 L1185.1 861.8 L1185.9 861.4 L1186.7 861 L1187.5 860.6 L1188.3 860.2 L1189.1 859.8 L1189.9 859.4 L1190.7 859 L1191.5 858.7 L1192.3 858.3 L1193.1 857.9 L1193.9 857.5 L1194.7 857.1 L1195.5 856.7 L1196.3 856.3 L1197.1 855.9 L1197.9 855.5 L1198.7 855.1 L1199.5 854.7 L1200.3 854.3 L1201.1 853.9 L1201.9 853.5 L1202.7 853.1 L1203.5 852.7 L1204.3 852.3 L1205.1 851.9 L1205.9 851.6 L1206.7 851.2 L1207.5 850.8 L1208.3 850.4 L1209.1 850 L1209.9 849.6 L1210.7 849.2 L1211.5 848.8 L1212.3 848.4 L1213.1 848 L1213.9 847.6 L1214.7 847.2 L1215.5 846.8 L1216.3 846.4 L1217.1 846 L1217.9 845.6 L1218.7 845.2 L1219.5 844.8 L1220.3 844.4 L1221.1 844.1 L1221.9 843.7 L1222.7 843.3 L1223.5 842.9 L1224.3 842.5 L1225.1 842.1 L1225.9 841.7 L1226.7 841.3 L1227.5 840.9 L1228.3 840.5 L1229.1 840.1 L1229.9 839.7 L1230.7 839.3 L1231.5 838.9 L1232.3 838.5 L1233.1 838.1 L1233.9 837.7 L1234.7 837.3 L1235.5 836.9 L1236.3 836.6 L1237.1 836.2 L1237.9 835.8 L1238.7 835.4 L1239.5 835 L1240.3 834.6 L1241.1 834.2 L1241.9 833.8 L1242.7 833.4 L1243.5 833 L1244.3 832.6 L1245.1 832.2 L1245.9 831.8 L1246.7 831.4 L1247.5 831 L1248.3 830.6 L1249.1 830.2 L1249.9 829.8 L1250.7 829.4 L1251.5 829.1 L1252.3 828.7 L1253.1 828.3 L1253.9 827.9 L1254.7 827.5 L1255.5 827.1 L1256.3 826.7 L1257.1 826.3 L1257.9 825.9 L1258.7 825.5 L1259.5 825.1 L1260.3 824.7 L1261.1 824.3 L1261.9 823.9 L1262.7 823.5 L1263.5 823.1 L1264.3 822.7 L1265.1 822.3 L1265.9 821.9 L1266.7 821.6 L1267.5 821.2 L1268.3 820.8 L1269.1 820.4 L1269.9 820 L1270.7 819.6 L1271.5 819.2 L1272.3 818.8 L1273.1 818.4 L1273.9 818 L1274.7 817.6 L1275.5 817.2 L1276.3 816.8 L1277.1 816.4 L1277.9 816 L1278.7 815.6 L1279.5 815.2 L1280.3 814.8 L1281.1 814.4 L1281.9 814.1 L1282.7 813.7 L1283.5 813.3 L1284.3 812.9 L1285.1 812.5 L1285.9 812.1 L1286.7 811.7 L1287.5 811.3 L1288.3 810.9 L1289.1 810.5 L1289.9 810.1 L1290.7 809.7 L1291.5 809.3 L1292.3 808.9 L1293.1 808.5 L1293.9 808.1 L1294.7 807.7 L1295.5 807.3 L1296.3 806.9 L1297.1 806.6 L1297.9 806.2 L1298.7 805.8 L1299.5 805.4 L1300.3 805 L1301.1 804.6 L1301.9 804.2 L1302.7 803.8 L1303.5 803.4 L1304.3 803 L1305.1 802.6 L1305.9 802.2 L1306.7 801.8 L1307.5 801.4 L1308.3 801 L1309.1 800.6 L1309.9 800.2 L1310.7 799.8 L1311.5 799.4 L1312.3 799.1 L1313.1 798.7 L1313.9 798.3 L1314.7 797.9 L1315.5 797.5 L1316.3 797.1 L1317.1 796.7 L1317.9 796.3 L1318.7 795.9 L1319.5 795.5 L1320.3 795.1 L1321.1 794.7 L1321.9 794.3 L1322.7 793.9 L1323.5 793.5 L1324.3 793.1 L1325.1 792.7 L1325.9 792.3 L1326.7 791.9 L1327.5 791.6 L1328.3 791.2 L1329.1 790.8 L1329.9 790.4 L1330.7 790 L1331.5 789.6 L1332.3 789.2 L1333.1 788.8 L1333.9 788.4 L1334.7 788 L1335.5 787.6 L1336.3 787.2 L1337.1 786.8 L1337.9 786.4 L1338.7 786 L1339.5 785.6 L1340.3 785.2 L1341.1 784.8 L1341.9 784.5 L1342.7 784.1 L1343.5 783.7 L1344.3 783.3 L1345.1 782.9 L1345.9 782.5 L1346.7 782.1 L1347.5 781.7 L1348.3 781.3 L1349.1 780.9 L1349.9 780.5 L1350.7 780.1 L1351.5 779.7 L1352.3 779.3 L1353.1 778.9 L1353.9 778.5 L1354.7 778.1 L1355.5 777.7 L1356.3 777.3 L1357.1 777 L1357.9 776.6 L1358.7 776.2 L1359.5 775.8 L1360.3 775.4 L1361.1 775 L1361.9 774.6 L1362.7 774.2 L1363.5 773.8 L1364.3 773.4 L1364.3 773.4 L1363.5 773.7 L1362.7 774 L1361.9 774.4 L1361.1 774.7 L1360.3 775 L1359.5 775.4 L1358.7 775.7 L1357.9 776 L1357.1 776.3 L1356.3 776.7 L1355.5 777 L1354.7 777.3 L1353.9 777.7 L1353.1 778 L1352.3 778.3 L1351.5 778.7 L1350.7 779 L1349.9 779.3 L1349.1 779.6 L1348.3 780 L1347.5 780.3 L1346.7 780.6 L1345.9 781 L1345.1 781.3 L1344.3 781.6 L1343.5 781.9 L1342.7 782.3 L1341.9 782.6 L1341.1 782.9 L1340.3 783.3 L1339.5 783.6 L1338.7 783.9 L1337.9 784.2 L1337.1 784.6 L1336.3 784.9 L1335.5 785.2 L1334.7 785.6 L1333.9 785.9 L1333.1 786.2 L1332.3 786.6 L1331.5 786.9 L1330.7 787.2 L1329.9 787.5 L1329.1 787.9 L1328.3 788.2 L1327.5 788.5 L1326.7 788.9 L1325.9 789.2 L1325.1 789.5 L1324.3 789.8 L1323.5 790.2 L1322.7 790.5 L1321.9 790.8 L1321.1 791.2 L1320.3 791.5 L1319.5 791.8 L1318.7 792.2 L1317.9 792.5 L1317.1 792.8 L1316.3 793.1 L1315.5 793.5 L1314.7 793.8 L1313.9 794.1 L1313.1 794.5 L1312.3 794.8 L1311.5 795.1 L1310.7 795.4 L1309.9 795.8 L1309.1 796.1 L1308.3 796.4 L1307.5 796.8 L1306.7 797.1 L1305.9 797.4 L1305.1 797.7 L1304.3 798.1 L1303.5 798.4 L1302.7 798.7 L1301.9 799.1 L1301.1 799.4 L1300.3 799.7 L1299.5 800.1 L1298.7 800.4 L1297.9 800.7 L1297.1 801 L1296.3 801.4 L1295.5 801.7 L1294.7 802 L1293.9 802.4 L1293.1 802.7 L1292.3 803 L1291.5 803.3 L1290.7 803.7 L1289.9 804 L1289.1 804.3 L1288.3 804.7 L1287.5 805 L1286.7 805.3 L1285.9 805.7 L1285.1 806 L1284.3 806.3 L1283.5 806.6 L1282.7 807 L1281.9 807.3 L1281.1 807.6 L1280.3 808 L1279.5 808.3 L1278.7 808.6 L1277.9 808.9 L1277.1 809.3 L1276.3 809.6 L1275.5 809.9 L1274.7 810.3 L1273.9 810.6 L1273.1 810.9 L1272.3 811.2 L1271.5 811.6 L1270.7 811.9 L1269.9 812.2 L1269.1 812.6 L1268.3 812.9 L1267.5 813.2 L1266.7 813.6 L1265.9 813.9 L1265.1 814.2 L1264.3 814.5 L1263.5 814.9 L1262.7 815.2 L1261.9 815.5 L1261.1 815.9 L1260.3 816.2 L1259.5 816.5 L1258.7 816.8 L1257.9 817.2 L1257.1 817.5 L1256.3 817.8 L1255.5 818.2 L1254.7 818.5 L1253.9 818.8 L1253.1 819.2 L1252.3 819.5 L1251.5 819.8 L1250.7 820.1 L1249.9 820.5 L1249.1 820.8 L1248.3 821.1 L1247.5 821.5 L1246.7 821.8 L1245.9 822.1 L1245.1 822.4 L1244.3 822.8 L1243.5 823.1 L1242.7 823.4 L1241.9 823.8 L1241.1 824.1 L1240.3 824.4 L1239.5 824.7 L1238.7 825.1 L1237.9 825.4 L1237.1 825.7 L1236.3 826.1 L1235.5 826.4 L1234.7 826.7 L1233.9 827.1 L1233.1 827.4 L1232.3 827.7 L1231.5 828 L1230.7 828.4 L1229.9 828.7 L1229.1 829.1 L1228.3 829.5 L1227.5 829.9 L1226.7 830.3 L1225.9 830.7 L1225.1 831.1 L1224.3 831.5 L1223.5 831.9 L1222.7 832.3 L1221.9 832.7 L1221.1 833.1 L1220.3 833.4 L1219.5 833.8 L1218.7 834.2 L1217.9 834.6 L1217.1 835 L1216.3 835.4 L1215.5 835.8 L1214.7 836.2 L1213.9 836.6 L1213.1 837 L1212.3 837.4 L1211.5 837.8 L1210.7 838.2 L1209.9 838.6 L1209.1 839 L1208.3 839.4 L1207.5 839.8 L1206.7 840.2 L1205.9 840.6 L1205.1 840.9 L1204.3 841.3 L1203.5 841.7 L1202.7 842.1 L1201.9 842.5 L1201.1 842.9 L1200.3 843.3 L1199.5 843.7 L1198.7 844.1 L1197.9 844.5 L1197.1 844.9 L1196.3 845.3 L1195.5 845.7 L1194.7 846.1 L1193.9 846.5 L1193.1 846.9 L1192.3 847.3 L1191.5 847.7 L1190.7 848 L1189.9 848.4 L1189.1 848.8 L1188.3 849.2 L1187.5 849.6 L1186.7 850 L1185.9 850.4 L1185.1 850.8 L1184.3 851.2 L1183.5 851.6 L1182.7 852 L1181.9 852.4 L1181.1 852.8 L1180.3 853.2 L1179.5 853.6 L1178.7 854 L1177.9 854.4 L1177.1 854.8 L1176.3 855.2 L1175.5 855.5 L1174.7 855.9 L1173.9 856.3 L1173.1 856.7 L1172.3 857.1 L1171.5 857.5 L1170.7 857.9 L1169.9 858.3 L1169.1 858.7 L1168.3 859.1 L1167.5 859.5 L1166.7 859.9 L1165.9 860.3 L1165.1 860.7 L1164.3 861.1 L1163.5 861.5 L1162.7 861.9 L1161.9 862.3 L1161.1 862.7 L1160.3 863 L1159.5 863.4 L1158.7 863.8 L1157.9 864.2 L1157.1 864.6 L1156.3 865 L1155.5 865.4 L1154.7 865.8 L1153.9 866.2 L1153.1 866.6 L1152.3 867 L1151.5 867.4 L1150.7 867.8 L1149.9 868.2 L1149.1 868.6 L1148.3 869 L1147.5 869.4 L1146.7 869.8 L1145.9 870.2 L1145.1 870.5 L1144.3 870.9 L1143.5 871.3 L1142.7 871.7 L1141.9 872.1 L1141.1 872.5 L1140.3 872.9 L1139.5 873.3 L1138.7 873.7 L1137.9 874.1 L1137.1 874.5 L1136.3 874.9 L1135.5 875.3 L1134.7 875.7 L1133.9 876.1 L1133.1 876.5 L1132.3 876.9 L1131.5 877.3 L1130.7 877.7 L1129.9 878 L1129.1 878.4 L1128.3 878.8 L1127.5 879.2 L1126.7 879.6 L1125.9 880 L1125.1 880.4 L1124.3 880.8 L1123.5 881.2 L1122.7 881.6 L1121.9 882 L1121.1 882.4 L1120.3 882.8 L1119.5 883.2 L1118.7 883.6 L1117.9 884 L1117.1 884.4 L1116.3 884.8 L1115.5 885.2 L1114.7 885.5 L1113.9 885.9 L1113.1 886.3 L1112.3 886.7 L1111.5 887.1 L1110.7 887.5 L1109.9 887.9 L1109.1 888.3 L1108.3 888.7 L1107.5 889.1 L1106.7 889.5 L1105.9 889.9 L1105.1 890.3 L1104.3 890.7 L1103.5 891.1 L1102.7 891.5 L1101.9 891.9 L1101.1 892.3 L1100.3 892.7 L1099.5 893 L1098.7 893.4 L1097.9 893.8 L1097.1 894.2 L1096.3 894.6 L1095.5 895 L1094.7 895.4 L1093.9 895.8 L1093.1 896.2 L1092.3 896.6 L1091.5 897 L1090.7 897.4 L1089.9 897.8 L1089.1 898.2 L1088.3 898.6 L1087.5 899 L1086.7 899.4 L1085.9 899.8 L1085.1 900.2 L1084.3 900.5 L1083.5 900.9 L1082.7 901.3 L1081.9 901.7 L1081.1 902.1 L1080.3 902.5 L1079.5 902.9 L1078.7 903.3 L1077.9 903.7 L1077.1 904.1 L1076.3 904.5 L1075.5 904.9 L1074.7 905.3 L1073.9 905.7 L1073.1 906.1 L1072.3 906.5 L1071.5 906.9 L1070.7 907.3 L1069.9 907.6 L1069.1 908 L1068.3 908.4 L1067.5 908.8 L1066.7 909.2 L1065.9 909.6 L1065.1 910 L1064.3 910.4 L1063.5 910.8 L1062.7 911.2 L1061.9 911.6 L1061.1 912 L1060.3 912.4 L1059.5 912.8 L1058.7 913.2 L1057.9 913.6 L1057.1 914 L1056.3 914.4 L1055.5 914.8 L1054.7 915.1 L1053.9 915.5 L1053.1 915.9 L1052.3 916.3 L1051.5 916.7 L1050.7 917.1 L1049.9 917.5 L1049.1 917.9 L1048.3 918.3 L1047.5 918.7 L1046.7 919.1 L1045.9 919.5 L1045.1 919.9 L1044.3 920.3 L1043.5 920.7 L1042.7 921.1 L1041.9 921.5 L1041.1 921.9 L1040.3 922.3 L1039.5 922.6 L1038.7 923 L1037.9 923.4 L1037.1 923.8 L1036.3 924.2 L1035.5 924.6 L1034.7 925 L1033.9 925.4 L1033.1 925.8 L1032.3 926.2 L1031.5 926.6 L1030.7 927 L1029.9 927.4 L1029.1 927.8 L1028.3 928.2 L1027.5 928.6 L1026.7 929 L1025.9 929.4 L1025.1 929.8 L1024.3 930.1 L1023.5 930.5 L1022.7 930.9 L1021.9 931.3 L1021.1 931.7 L1020.3 932.1 L1019.5 932.5 L1018.7 932.9 L1017.9 933.3 L1017.1 933.7 L1016.3 934.1 L1015.5 934.5 L1014.7 934.9 L1013.9 935.3 L1013.1 935.7 L1012.3 936.1 L1011.5 936.5 L1010.7 936.9 L1009.9 937.3 L1009.1 937.6 L1008.3 938 L1007.5 938.4 L1006.7 938.8 L1005.9 939.2 L1005.1 939.6 L1004.3 940 L1003.5 940.4 L1002.7 940.8 L1001.9 941.2 L1001.1 941.6 L1000.3 942 L999.5 942.6 L998.7 943.2 L997.9 943.9 L997.1 944.6 L996.3 945.2 L995.5 945.9 L994.7 946.6 L993.9 947.2 L993.1 947.9 L992.3 948.6 L991.5 949.3 L990.7 949.9 L989.9 950.6 L989.1 951.3 L988.3 951.9 L987.5 952.6 L986.7 953.3 L985.9 953.9 L985.1 954.6 L984.3 955.3 L983.5 955.9 L982.7 956.6 L981.9 957.3 L981.1 958 L980.3 958.6 L979.5 959.3 L978.7 960 L977.9 960.6 L977.1 961.3 L976.3 962 L975.5 962.6 L974.7 963.3 L973.9 964 L973.1 964.7 L972.3 965.3 L971.5 966 L970.7 966.8 L969.9 967.6 L969.1 968.4 L968.3 969.2 L967.5 969.9 L966.7 970.4 L965.9 970.9 L965.1 971.4 L964.3 972 L963.5 972.5 L962.7 973.1 L961.9 973.7 L961.1 974.2 L960.3 974.8 L959.5 975.4 L958.7 975.9 L957.9 976.5 L957.1 977 L956.3 977.6 L955.5 978.1 L954.7 978.6 L953.9 979 L953.1 979.4 L952.3 979.8 L951.5 980.1 L950.7 980.5 L949.9 980.9 L949.1 981.3 L948.3 981.6 L947.5 982 L946.7 982.4 L945.9 982.7 L945.1 983.1 L944.3 983.5 L943.5 983.9 L942.7 984.2 L941.9 984.6 L941.1 985 L940.3 985.4 L939.5 985.7 L938.7 985.9 L937.9 986.2 L937.1 986.4 L936.3 986.7 L935.5 987 L934.7 987.2 L933.9 987.5 L933.1 987.7 L932.3 988 L931.5 988.3 L930.7 988.5 L929.9 988.8 L929.1 989 L928.3 989.3 L927.5 989.6 L926.7 989.8 L925.9 990.1 Z" fill="#c6b2f4" stroke="none"/>
<path d="M931.5 987.4 L932.3 987.1 L933.1 986.8 L933.9 986.5 L934.7 986.2 L935.5 985.8 L936.3 985.5 L937.1 985.2 L937.9 984.9 L938.7 984.6 L939.5 984.2 L940.3 983.9 L941.1 983.4 L941.9 982.9 L942.7 982.5 L943.5 982 L944.3 981.5 L945.1 980.9 L945.9 980.3 L946.7 979.7 L947.5 978.9 L948.3 978.1 L949.1 977.1 L949.9 975.9 L950.7 974.4 L951.5 972.6 L952.3 970.3 L953.1 967.5 L953.9 964 L954.7 959.6 L955.5 954.1 L956.3 947.4 L957.1 939.4 L957.9 930 L958.7 919.1 L959.5 906.7 L960.3 892.9 L961.1 877.6 L961.9 861.2 L962.7 844 L963.5 826.3 L964.3 808.6 L965.1 791.5 L965.9 775.6 L966.7 761.4 L967.5 749.6 L968.3 740.7 L969.1 734.8 L969.9 732.7 L970.7 734.2 L971.5 739.2 L972.3 747.7 L973.1 758.9 L973.9 772.4 L974.7 787.5 L975.5 803.5 L976.3 820 L977.1 836.4 L977.9 852.3 L978.7 867.1 L979.5 880.8 L980.3 893.1 L981.1 903.9 L981.9 913.2 L982.7 921 L983.5 927.4 L984.3 932.6 L985.1 936.7 L985.9 939.8 L986.7 942.1 L987.5 943.7 L988.3 944.8 L989.1 945.5 L989.9 945.8 L990.7 945.9 L991.5 945.8 L992.3 945.6 L993.1 945.3 L993.9 944.9 L994.7 944.4 L995.5 943.9 L996.3 943.4 L997.1 942.8 L997.9 942.3 L998.7 941.7 L999.5 941.1 L1000.3 940.6 L1001.1 940.3 L1001.9 939.9 L1002.7 939.6 L1003.5 939.3 L1004.3 938.9 L1005.1 938.6 L1005.9 938.2 L1006.7 937.9 L1007.5 937.5 L1008.3 937.1 L1008.3 938 L1007.5 938.4 L1006.7 938.8 L1005.9 939.2 L1005.1 939.6 L1004.3 940 L1003.5 940.4 L1002.7 940.8 L1001.9 941.2 L1001.1 941.6 L1000.3 942 L999.5 942.6 L998.7 943.2 L997.9 943.9 L997.1 944.6 L996.3 945.2 L995.5 945.9 L994.7 946.6 L993.9 947.2 L993.1 947.9 L992.3 948.6 L991.5 949.3 L990.7 949.9 L989.9 950.6 L989.1 951.3 L988.3 951.9 L987.5 952.6 L986.7 953.3 L985.9 953.9 L985.1 954.6 L984.3 955.3 L983.5 955.9 L982.7 956.6 L981.9 957.3 L981.1 958 L980.3 958.6 L979.5 959.3 L978.7 960 L977.9 960.6 L977.1 961.3 L976.3 962 L975.5 962.6 L974.7 963.3 L973.9 964 L973.1 964.7 L972.3 965.3 L971.5 966 L970.7 966.8 L969.9 967.6 L969.1 968.4 L968.3 969.2 L967.5 969.9 L966.7 970.4 L965.9 970.9 L965.1 971.4 L964.3 972 L963.5 972.5 L962.7 973.1 L961.9 973.7 L961.1 974.2 L960.3 974.8 L959.5 975.4 L958.7 975.9 L957.9 976.5 L957.1 977 L956.3 977.6 L955.5 978.1 L954.7 978.6 L953.9 979 L953.1 979.4 L952.3 979.8 L951.5 980.1 L950.7 980.5 L949.9 980.9 L949.1 981.3 L948.3 981.6 L947.5 982 L946.7 982.4 L945.9 982.7 L945.1 983.1 L944.3 983.5 L943.5 983.9 L942.7 984.2 L941.9 984.6 L941.1 985 L940.3 985.4 L939.5 985.7 L938.7 985.9 L937.9 986.2 L937.1 986.4 L936.3 986.7 L935.5 987 L934.7 987.2 L933.9 987.5 L933.1 987.7 L932.3 988 L931.5 988.3 Z" fill="#e3bbf5" stroke="none"/>
<path d="M937.9 985.5 L938.7 985.3 L939.5 985 L940.3 984.7 L941.1 984.3 L941.9 983.9 L942.7 983.5 L943.5 983.1 L944.3 982.7 L945.1 982.3 L945.9 981.9 L946.7 981.5 L947.5 981.1 L948.3 980.7 L949.1 980.3 L949.9 979.9 L950.7 979.5 L951.5 979.1 L952.3 978.7 L953.1 978.3 L953.9 977.9 L954.7 977.5 L955.5 977 L956.3 976.4 L957.1 975.8 L957.9 975.2 L958.7 974.6 L959.5 974 L960.3 973.4 L961.1 972.8 L961.9 972.2 L962.7 971.6 L963.5 970.9 L964.3 970.3 L965.1 969.6 L965.9 969 L966.7 968.4 L967.5 967.7 L968.3 966.9 L969.1 965.9 L969.9 964.9 L970.7 963.9 L971.5 962.8 L972.3 961.7 L973.1 960.6 L973.9 959.5 L974.7 958.3 L975.5 957 L976.3 955.6 L977.1 954.1 L977.9 952.5 L978.7 950.7 L979.5 948.8 L980.3 946.7 L981.1 944.4 L981.9 941.8 L982.7 939.1 L983.5 936.1 L984.3 932.9 L985.1 929.3 L985.9 925.5 L986.7 921.3 L987.5 916.9 L988.3 912.1 L989.1 907 L989.9 901.6 L990.7 895.8 L991.5 889.7 L992.3 883.3 L993.1 876.7 L993.9 869.8 L994.7 862.6 L995.5 855.3 L996.3 847.9 L997.1 840.3 L997.9 832.8 L998.7 825.2 L999.5 817.8 L1000.3 810.6 L1001.1 803.8 L1001.9 797.3 L1002.7 791.2 L1003.5 785.6 L1004.3 780.4 L1005.1 775.9 L1005.9 771.9 L1006.7 768.7 L1007.5 766.2 L1008.3 764.6 L1009.1 763.7 L1009.9 763.6 L1010.7 764.3 L1011.5 765.8 L1012.3 768 L1013.1 771 L1013.9 774.6 L1014.7 778.8 L1015.5 783.5 L1016.3 788.7 L1017.1 794.4 L1017.9 800.3 L1018.7 806.5 L1019.5 812.8 L1020.3 819.3 L1021.1 825.8 L1021.9 832.3 L1022.7 838.7 L1023.5 845 L1024.3 851.1 L1025.1 857 L1025.9 862.6 L1026.7 868 L1027.5 873.1 L1028.3 877.9 L1029.1 882.4 L1029.9 886.5 L1030.7 890.3 L1031.5 893.8 L1032.3 896.9 L1033.1 899.8 L1033.9 902.3 L1034.7 904.6 L1035.5 906.5 L1036.3 908.3 L1037.1 909.8 L1037.9 911.1 L1038.7 912.2 L1039.5 913.1 L1040.3 913.8 L1041.1 914.4 L1041.9 914.9 L1042.7 915.3 L1043.5 915.5 L1044.3 915.7 L1045.1 915.8 L1045.9 915.8 L1046.7 915.7 L1047.5 915.7 L1048.3 915.5 L1049.1 915.4 L1049.9 915.1 L1050.7 914.9 L1051.5 914.7 L1052.3 914.4 L1053.1 914.1 L1053.9 913.8 L1054.7 913.5 L1055.5 913.2 L1056.3 912.9 L1057.1 912.5 L1057.9 912.2 L1058.7 911.8 L1059.5 911.5 L1060.3 911.1 L1061.1 910.8 L1061.9 910.4 L1062.7 910.1 L1063.5 909.7 L1064.3 909.3 L1065.1 909 L1065.9 908.6 L1066.7 908.2 L1067.5 907.9 L1068.3 907.5 L1069.1 907.1 L1069.9 906.8 L1070.7 906.4 L1071.5 906 L1072.3 905.6 L1073.1 905.3 L1073.9 904.9 L1074.7 904.5 L1075.5 904.1 L1076.3 903.8 L1077.1 903.4 L1077.9 903 L1078.7 902.6 L1079.5 902.2 L1080.3 901.9 L1081.1 901.5 L1081.1 902.1 L1080.3 902.5 L1079.5 902.9 L1078.7 903.3 L1077.9 903.7 L1077.1 904.1 L1076.3 904.5 L1075.5 904.9 L1074.7 905.3 L1073.9 905.7 L1073.1 906.1 L1072.3 906.5 L1071.5 906.9 L1070.7 907.3 L1069.9 907.6 L1069.1 908 L1068.3 908.4 L1067.5 908.8 L1066.7 909.2 L1065.9 909.6 L1065.1 910 L1064.3 910.4 L1063.5 910.8 L1062.7 911.2 L1061.9 911.6 L1061.1 912 L1060.3 912.4 L1059.5 912.8 L1058.7 913.2 L1057.9 913.6 L1057.1 914 L1056.3 914.4 L1055.5 914.8 L1054.7 915.1 L1053.9 915.5 L1053.1 915.9 L1052.3 916.3 L1051.5 916.7 L1050.7 917.1 L1049.9 917.5 L1049.1 917.9 L1048.3 918.3 L1047.5 918.7 L1046.7 919.1 L1045.9 919.5 L1045.1 919.9 L1044.3 920.3 L1043.5 920.7 L1042.7 921.1 L1041.9 921.5 L1041.1 921.9 L1040.3 922.3 L1039.5 922.6 L1038.7 923 L1037.9 923.4 L1037.1 923.8 L1036.3 924.2 L1035.5 924.6 L1034.7 925 L1033.9 925.4 L1033.1 925.8 L1032.3 926.2 L1031.5 926.6 L1030.7 927 L1029.9 927.4 L1029.1 927.8 L1028.3 928.2 L1027.5 928.6 L1026.7 929 L1025.9 929.4 L1025.1 929.8 L1024.3 930.1 L1023.5 930.5 L1022.7 930.9 L1021.9 931.3 L1021.1 931.7 L1020.3 932.1 L1019.5 932.5 L1018.7 932.9 L1017.9 933.3 L1017.1 933.7 L1016.3 934.1 L1015.5 934.5 L1014.7 934.9 L1013.9 935.3 L1013.1 935.7 L1012.3 936.1 L1011.5 936.5 L1010.7 936.9 L1009.9 937.3 L1009.1 937.6 L1008.3 938 L1007.5 938.4 L1006.7 938.8 L1005.9 939.2 L1005.1 939.6 L1004.3 940 L1003.5 940.4 L1002.7 940.8 L1001.9 941.2 L1001.1 941.6 L1000.3 942 L999.5 942.6 L998.7 943.2 L997.9 943.9 L997.1 944.6 L996.3 945.2 L995.5 945.9 L994.7 946.6 L993.9 947.2 L993.1 947.9 L992.3 948.6 L991.5 949.3 L990.7 949.9 L989.9 950.6 L989.1 951.3 L988.3 951.9 L987.5 952.6 L986.7 953.3 L985.9 953.9 L985.1 954.6 L984.3 955.3 L983.5 955.9 L982.7 956.6 L981.9 957.3 L981.1 958 L980.3 958.6 L979.5 959.3 L978.7 960 L977.9 960.6 L977.1 961.3 L976.3 962 L975.5 962.6 L974.7 963.3 L973.9 964 L973.1 964.7 L972.3 965.3 L971.5 966 L970.7 966.8 L969.9 967.6 L969.1 968.4 L968.3 969.2 L967.5 969.9 L966.7 970.4 L965.9 970.9 L965.1 971.4 L964.3 972 L963.5 972.5 L962.7 973.1 L961.9 973.7 L961.1 974.2 L960.3 974.8 L959.5 975.4 L958.7 975.9 L957.9 976.5 L957.1 977 L956.3 977.6 L955.5 978.1 L954.7 978.6 L953.9 979 L953.1 979.4 L952.3 979.8 L951.5 980.1 L950.7 980.5 L949.9 980.9 L949.1 981.3 L948.3 981.6 L947.5 982 L946.7 982.4 L945.9 982.7 L945.1 983.1 L944.3 983.5 L943.5 983.9 L942.7 984.2 L941.9 984.6 L941.1 985 L940.3 985.4 L939.5 985.7 L938.7 985.9 L937.9 986.2 Z" fill="#cfcff8" stroke="none"/>
<path d="M983.5 955.9 L984.3 955.3 L985.1 954.6 L985.9 953.9 L986.7 953.3 L987.5 952.6 L988.3 951.9 L989.1 951.3 L989.9 950.6 L990.7 949.9 L991.5 949.3 L992.3 948.6 L993.1 947.9 L993.9 947.2 L994.7 946.6 L995.5 945.9 L996.3 945.2 L997.1 944.6 L997.9 943.9 L998.7 943.2 L999.5 942.6 L1000.3 942 L1001.1 941.6 L1001.9 941.2 L1002.7 940.8 L1003.5 940.4 L1004.3 940 L1005.1 939.6 L1005.9 939.2 L1006.7 938.8 L1007.5 938.4 L1008.3 938 L1009.1 937.6 L1009.9 937.2 L1010.7 936.8 L1011.5 936.4 L1012.3 936 L1013.1 935.6 L1013.9 935.2 L1014.7 934.8 L1015.5 934.4 L1016.3 934 L1017.1 933.6 L1017.9 933.2 L1018.7 932.8 L1019.5 932.4 L1020.3 932 L1021.1 931.5 L1021.9 931.1 L1022.7 930.7 L1023.5 930.2 L1024.3 929.8 L1025.1 929.3 L1025.9 928.8 L1026.7 928.3 L1027.5 927.8 L1028.3 927.3 L1029.1 926.8 L1029.9 926.2 L1030.7 925.6 L1031.5 925 L1032.3 924.4 L1033.1 923.7 L1033.9 923 L1034.7 922.2 L1035.5 921.5 L1036.3 920.6 L1037.1 919.8 L1037.9 918.8 L1038.7 917.9 L1039.5 916.8 L1040.3 915.7 L1041.1 914.6 L1041.9 913.3 L1042.7 912.1 L1043.5 910.7 L1044.3 909.3 L1045.1 907.8 L1045.9 906.2 L1046.7 904.6 L1047.5 902.9 L1048.3 901.1 L1049.1 899.3 L1049.9 897.4 L1050.7 895.5 L1051.5 893.5 L1052.3 891.5 L1053.1 889.5 L1053.9 887.4 L1054.7 885.3 L1055.5 883.2 L1056.3 881.1 L1057.1 879 L1057.9 876.9 L1058.7 874.9 L1059.5 873 L1060.3 871.1 L1061.1 869.2 L1061.9 867.5 L1062.7 865.8 L1063.5 864.3 L1064.3 862.8 L1065.1 861.5 L1065.9 860.3 L1066.7 859.3 L1067.5 858.4 L1068.3 857.7 L1069.1 857.1 L1069.9 856.7 L1070.7 856.4 L1071.5 856.3 L1072.3 856.3 L1073.1 856.5 L1073.9 856.8 L1074.7 857.2 L1075.5 857.8 L1076.3 858.5 L1077.1 859.3 L1077.9 860.2 L1078.7 861.2 L1079.5 862.3 L1080.3 863.5 L1081.1 864.7 L1081.9 865.9 L1082.7 867.2 L1083.5 868.5 L1084.3 869.8 L1085.1 871.1 L1085.9 872.4 L1086.7 873.7 L1087.5 875 L1088.3 876.2 L1089.1 877.3 L1089.9 878.5 L1090.7 879.5 L1091.5 880.5 L1092.3 881.5 L1093.1 882.3 L1093.9 883.1 L1094.7 883.9 L1095.5 884.5 L1096.3 885.1 L1097.1 885.7 L1097.9 886.1 L1098.7 886.5 L1099.5 886.9 L1100.3 887.1 L1101.1 887.4 L1101.9 887.5 L1102.7 887.6 L1103.5 887.7 L1104.3 887.7 L1105.1 887.7 L1105.9 887.6 L1106.7 887.5 L1107.5 887.4 L1108.3 887.2 L1109.1 887 L1109.9 886.8 L1110.7 886.6 L1111.5 886.3 L1112.3 886 L1113.1 885.8 L1113.9 885.5 L1114.7 885.1 L1115.5 884.8 L1116.3 884.5 L1117.1 884.1 L1117.9 883.8 L1118.7 883.4 L1119.5 883 L1120.3 882.7 L1121.1 882.3 L1121.9 881.9 L1122.7 881.5 L1123.5 881.2 L1124.3 880.8 L1125.1 880.4 L1125.9 880 L1126.7 879.6 L1127.5 879.2 L1128.3 878.8 L1129.1 878.4 L1129.9 878 L1130.7 877.6 L1131.5 877.3 L1132.3 876.9 L1133.1 876.5 L1133.9 876.1 L1134.7 875.7 L1135.5 875.3 L1136.3 874.9 L1137.1 874.5 L1137.9 874.1 L1138.7 873.7 L1139.5 873.3 L1140.3 872.9 L1141.1 872.5 L1141.9 872.1 L1142.7 871.7 L1143.5 871.3 L1144.3 870.9 L1145.1 870.5 L1145.9 870.2 L1146.7 869.8 L1147.5 869.4 L1148.3 869 L1149.1 868.6 L1149.9 868.2 L1150.7 867.8 L1151.5 867.4 L1152.3 867 L1153.1 866.6 L1153.9 866.2 L1154.7 865.8 L1155.5 865.4 L1156.3 865 L1156.3 865 L1155.5 865.4 L1154.7 865.8 L1153.9 866.2 L1153.1 866.6 L1152.3 867 L1151.5 867.4 L1150.7 867.8 L1149.9 868.2 L1149.1 868.6 L1148.3 869 L1147.5 869.4 L1146.7 869.8 L1145.9 870.2 L1145.1 870.5 L1144.3 870.9 L1143.5 871.3 L1142.7 871.7 L1141.9 872.1 L1141.1 872.5 L1140.3 872.9 L1139.5 873.3 L1138.7 873.7 L1137.9 874.1 L1137.1 874.5 L1136.3 874.9 L1135.5 875.3 L1134.7 875.7 L1133.9 876.1 L1133.1 876.5 L1132.3 876.9 L1131.5 877.3 L1130.7 877.7 L1129.9 878 L1129.1 878.4 L1128.3 878.8 L1127.5 879.2 L1126.7 879.6 L1125.9 880 L1125.1 880.4 L1124.3 880.8 L1123.5 881.2 L1122.7 881.6 L1121.9 882 L1121.1 882.4 L1120.3 882.8 L1119.5 883.2 L1118.7 883.6 L1117.9 884 L1117.1 884.4 L1116.3 884.8 L1115.5 885.2 L1114.7 885.5 L1113.9 885.9 L1113.1 886.3 L1112.3 886.7 L1111.5 887.1 L1110.7 887.5 L1109.9 887.9 L1109.1 888.3 L1108.3 888.7 L1107.5 889.1 L1106.7 889.5 L1105.9 889.9 L1105.1 890.3 L1104.3 890.7 L1103.5 891.1 L1102.7 891.5 L1101.9 891.9 L1101.1 892.3 L1100.3 892.7 L1099.5 893 L1098.7 893.4 L1097.9 893.8 L1097.1 894.2 L1096.3 894.6 L1095.5 895 L1094.7 895.4 L1093.9 895.8 L1093.1 896.2 L1092.3 896.6 L1091.5 897 L1090.7 897.4 L1089.9 897.8 L1089.1 898.2 L1088.3 898.6 L1087.5 899 L1086.7 899.4 L1085.9 899.8 L1085.1 900.2 L1084.3 900.5 L1083.5 900.9 L1082.7 901.3 L1081.9 901.7 L1081.1 902.1 L1080.3 902.5 L1079.5 902.9 L1078.7 903.3 L1077.9 903.7 L1077.1 904.1 L1076.3 904.5 L1075.5 904.9 L1074.7 905.3 L1073.9 905.7 L1073.1 906.1 L1072.3 906.5 L1071.5 906.9 L1070.7 907.3 L1069.9 907.6 L1069.1 908 L1068.3 908.4 L1067.5 908.8 L1066.7 909.2 L1065.9 909.6 L1065.1 910 L1064.3 910.4 L1063.5 910.8 L1062.7 911.2 L1061.9 911.6 L1061.1 912 L1060.3 912.4 L1059.5 912.8 L1058.7 913.2 L1057.9 913.6 L1057.1 914 L1056.3 914.4 L1055.5 914.8 L1054.7 915.1 L1053.9 915.5 L1053.1 915.9 L1052.3 916.3 L1051.5 916.7 L1050.7 917.1 L1049.9 917.5 L1049.1 917.9 L1048.3 918.3 L1047.5 918.7 L1046.7 919.1 L1045.9 919.5 L1045.1 919.9 L1044.3 920.3 L1043.5 920.7 L1042.7 921.1 L1041.9 921.5 L1041.1 921.9 L1040.3 922.3 L1039.5 922.6 L1038.7 923 L1037.9 923.4 L1037.1 923.8 L1036.3 924.2 L1035.5 924.6 L1034.7 925 L1033.9 925.4 L1033.1 925.8 L1032.3 926.2 L1031.5 926.6 L1030.7 927 L1029.9 927.4 L1029.1 927.8 L1028.3 928.2 L1027.5 928.6 L1026.7 929 L1025.9 929.4 L1025.1 929.8 L1024.3 930.1 L1023.5 930.5 L1022.7 930.9 L1021.9 931.3 L1021.1 931.7 L1020.3 932.1 L1019.5 932.5 L1018.7 932.9 L1017.9 933.3 L1017.1 933.7 L1016.3 934.1 L1015.5 934.5 L1014.7 934.9 L1013.9 935.3 L1013.1 935.7 L1012.3 936.1 L1011.5 936.5 L1010.7 936.9 L1009.9 937.3 L1009.1 937.6 L1008.3 938 L1007.5 938.4 L1006.7 938.8 L1005.9 939.2 L1005.1 939.6 L1004.3 940 L1003.5 940.4 L1002.7 940.8 L1001.9 941.2 L1001.1 941.6 L1000.3 942 L999.5 942.6 L998.7 943.2 L997.9 943.9 L997.1 944.6 L996.3 945.2 L995.5 945.9 L994.7 946.6 L993.9 947.2 L993.1 947.9 L992.3 948.6 L991.5 949.3 L990.7 949.9 L989.9 950.6 L989.1 951.3 L988.3 951.9 L987.5 952.6 L986.7 953.3 L985.9 953.9 L985.1 954.6 L984.3 955.3 L983.5 955.9 Z" fill="#acd4f4" stroke="none"/>
<path d="M1085.9 899.6 L1086.7 899.2 L1087.5 898.8 L1088.3 898.4 L1089.1 898.1 L1089.9 897.7 L1090.7 897.3 L1091.5 896.9 L1092.3 896.5 L1093.1 896.1 L1093.9 895.7 L1094.7 895.3 L1095.5 894.9 L1096.3 894.5 L1097.1 894.1 L1097.9 893.7 L1098.7 893.3 L1099.5 892.9 L1100.3 892.5 L1101.1 892.1 L1101.9 891.7 L1102.7 891.3 L1103.5 890.9 L1104.3 890.5 L1105.1 890.1 L1105.9 889.7 L1106.7 889.3 L1107.5 888.9 L1108.3 888.4 L1109.1 888 L1109.9 887.6 L1110.7 887.2 L1111.5 886.8 L1112.3 886.4 L1113.1 886 L1113.9 885.5 L1114.7 885.1 L1115.5 884.6 L1116.3 884.2 L1117.1 883.7 L1117.9 883.2 L1118.7 882.7 L1119.5 882.2 L1120.3 881.7 L1121.1 881.1 L1121.9 880.5 L1122.7 879.9 L1123.5 879.2 L1124.3 878.5 L1125.1 877.7 L1125.9 876.8 L1126.7 875.9 L1127.5 874.9 L1128.3 873.9 L1129.1 872.7 L1129.9 871.5 L1130.7 870.1 L1131.5 868.6 L1132.3 867 L1133.1 865.3 L1133.9 863.5 L1134.7 861.5 L1135.5 859.5 L1136.3 857.2 L1137.1 854.9 L1137.9 852.4 L1138.7 849.9 L1139.5 847.2 L1140.3 844.4 L1141.1 841.6 L1141.9 838.7 L1142.7 835.8 L1143.5 832.8 L1144.3 829.9 L1145.1 827 L1145.9 824.2 L1146.7 821.4 L1147.5 818.8 L1148.3 816.3 L1149.1 814 L1149.9 812 L1150.7 810.1 L1151.5 808.5 L1152.3 807.1 L1153.1 806.1 L1153.9 805.3 L1154.7 804.8 L1155.5 804.7 L1156.3 804.8 L1157.1 805.2 L1157.9 805.9 L1158.7 806.8 L1159.5 808 L1160.3 809.4 L1161.1 811 L1161.9 812.8 L1162.7 814.7 L1163.5 816.7 L1164.3 818.8 L1165.1 820.9 L1165.9 823 L1166.7 825.2 L1167.5 827.3 L1168.3 829.4 L1169.1 831.4 L1169.9 833.3 L1170.7 835.2 L1171.5 836.9 L1172.3 838.5 L1173.1 840 L1173.9 841.4 L1174.7 842.6 L1175.5 843.7 L1176.3 844.7 L1177.1 845.6 L1177.9 846.3 L1178.7 846.9 L1179.5 847.4 L1180.3 847.8 L1181.1 848.2 L1181.9 848.4 L1182.7 848.6 L1183.5 848.6 L1184.3 848.7 L1185.1 848.6 L1185.9 848.5 L1186.7 848.4 L1187.5 848.2 L1188.3 848 L1189.1 847.8 L1189.9 847.5 L1190.7 847.3 L1191.5 847 L1192.3 846.7 L1193.1 846.3 L1193.9 846 L1194.7 845.6 L1195.5 845.3 L1196.3 844.9 L1197.1 844.6 L1197.9 844.2 L1198.7 843.8 L1199.5 843.4 L1200.3 843 L1201.1 842.7 L1201.9 842.3 L1202.7 841.9 L1203.5 841.5 L1204.3 841.1 L1205.1 840.7 L1205.9 840.3 L1206.7 840 L1207.5 839.6 L1208.3 839.2 L1209.1 838.8 L1209.9 838.4 L1210.7 838 L1211.5 837.6 L1212.3 837.2 L1213.1 836.8 L1213.9 836.5 L1214.7 836.1 L1215.5 835.7 L1216.3 835.3 L1217.1 834.9 L1217.9 834.5 L1218.7 834.1 L1219.5 833.7 L1220.3 833.3 L1221.1 832.9 L1221.9 832.5 L1222.7 832.1 L1222.7 832.3 L1221.9 832.7 L1221.1 833.1 L1220.3 833.4 L1219.5 833.8 L1218.7 834.2 L1217.9 834.6 L1217.1 835 L1216.3 835.4 L1215.5 835.8 L1214.7 836.2 L1213.9 836.6 L1213.1 837 L1212.3 837.4 L1211.5 837.8 L1210.7 838.2 L1209.9 838.6 L1209.1 839 L1208.3 839.4 L1207.5 839.8 L1206.7 840.2 L1205.9 840.6 L1205.1 840.9 L1204.3 841.3 L1203.5 841.7 L1202.7 842.1 L1201.9 842.5 L1201.1 842.9 L1200.3 843.3 L1199.5 843.7 L1198.7 844.1 L1197.9 844.5 L1197.1 844.9 L1196.3 845.3 L1195.5 845.7 L1194.7 846.1 L1193.9 846.5 L1193.1 846.9 L1192.3 847.3 L1191.5 847.7 L1190.7 848 L1189.9 848.4 L1189.1 848.8 L1188.3 849.2 L1187.5 849.6 L1186.7 850 L1185.9 850.4 L1185.1 850.8 L1184.3 851.2 L1183.5 851.6 L1182.7 852 L1181.9 852.4 L1181.1 852.8 L1180.3 853.2 L1179.5 853.6 L1178.7 854 L1177.9 854.4 L1177.1 854.8 L1176.3 855.2 L1175.5 855.5 L1174.7 855.9 L1173.9 856.3 L1173.1 856.7 L1172.3 857.1 L1171.5 857.5 L1170.7 857.9 L1169.9 858.3 L1169.1 858.7 L1168.3 859.1 L1167.5 859.5 L1166.7 859.9 L1165.9 860.3 L1165.1 860.7 L1164.3 861.1 L1163.5 861.5 L1162.7 861.9 L1161.9 862.3 L1161.1 862.7 L1160.3 863 L1159.5 863.4 L1158.7 863.8 L1157.9 864.2 L1157.1 864.6 L1156.3 865 L1155.5 865.4 L1154.7 865.8 L1153.9 866.2 L1153.1 866.6 L1152.3 867 L1151.5 867.4 L1150.7 867.8 L1149.9 868.2 L1149.1 868.6 L1148.3 869 L1147.5 869.4 L1146.7 869.8 L1145.9 870.2 L1145.1 870.5 L1144.3 870.9 L1143.5 871.3 L1142.7 871.7 L1141.9 872.1 L1141.1 872.5 L1140.3 872.9 L1139.5 873.3 L1138.7 873.7 L1137.9 874.1 L1137.1 874.5 L1136.3 874.9 L1135.5 875.3 L1134.7 875.7 L1133.9 876.1 L1133.1 876.5 L1132.3 876.9 L1131.5 877.3 L1130.7 877.7 L1129.9 878 L1129.1 878.4 L1128.3 878.8 L1127.5 879.2 L1126.7 879.6 L1125.9 880 L1125.1 880.4 L1124.3 880.8 L1123.5 881.2 L1122.7 881.6 L1121.9 882 L1121.1 882.4 L1120.3 882.8 L1119.5 883.2 L1118.7 883.6 L1117.9 884 L1117.1 884.4 L1116.3 884.8 L1115.5 885.2 L1114.7 885.5 L1113.9 885.9 L1113.1 886.3 L1112.3 886.7 L1111.5 887.1 L1110.7 887.5 L1109.9 887.9 L1109.1 888.3 L1108.3 888.7 L1107.5 889.1 L1106.7 889.5 L1105.9 889.9 L1105.1 890.3 L1104.3 890.7 L1103.5 891.1 L1102.7 891.5 L1101.9 891.9 L1101.1 892.3 L1100.3 892.7 L1099.5 893 L1098.7 893.4 L1097.9 893.8 L1097.1 894.2 L1096.3 894.6 L1095.5 895 L1094.7 895.4 L1093.9 895.8 L1093.1 896.2 L1092.3 896.6 L1091.5 897 L1090.7 897.4 L1089.9 897.8 L1089.1 898.2 L1088.3 898.6 L1087.5 899 L1086.7 899.4 L1085.9 899.8 Z" fill="#fccd98" stroke="none"/>
<path d="M1113.9 885.7 L1114.7 885.3 L1115.5 884.9 L1116.3 884.5 L1117.1 884.1 L1117.9 883.7 L1118.7 883.3 L1119.5 882.9 L1120.3 882.5 L1121.1 882.1 L1121.9 881.7 L1122.7 881.3 L1123.5 880.8 L1124.3 880.4 L1125.1 880 L1125.9 879.6 L1126.7 879.2 L1127.5 878.8 L1128.3 878.4 L1129.1 878 L1129.9 877.6 L1130.7 877.2 L1131.5 876.8 L1132.3 876.4 L1133.1 876 L1133.9 875.6 L1134.7 875.2 L1135.5 874.8 L1136.3 874.4 L1137.1 874 L1137.9 873.6 L1138.7 873.1 L1139.5 872.7 L1140.3 872.3 L1141.1 871.9 L1141.9 871.5 L1142.7 871.1 L1143.5 870.6 L1144.3 870.2 L1145.1 869.8 L1145.9 869.4 L1146.7 868.9 L1147.5 868.5 L1148.3 868 L1149.1 867.6 L1149.9 867.1 L1150.7 866.6 L1151.5 866.1 L1152.3 865.6 L1153.1 865.1 L1153.9 864.6 L1154.7 864 L1155.5 863.4 L1156.3 862.8 L1157.1 862.2 L1157.9 861.5 L1158.7 860.8 L1159.5 860 L1160.3 859.2 L1161.1 858.3 L1161.9 857.4 L1162.7 856.4 L1163.5 855.4 L1164.3 854.2 L1165.1 853 L1165.9 851.7 L1166.7 850.3 L1167.5 848.8 L1168.3 847.2 L1169.1 845.5 L1169.9 843.7 L1170.7 841.7 L1171.5 839.6 L1172.3 837.4 L1173.1 835.1 L1173.9 832.6 L1174.7 830 L1175.5 827.2 L1176.3 824.4 L1177.1 821.4 L1177.9 818.3 L1178.7 815.1 L1179.5 811.8 L1180.3 808.4 L1181.1 804.9 L1181.9 801.4 L1182.7 797.9 L1183.5 794.3 L1184.3 790.7 L1185.1 787.1 L1185.9 783.6 L1186.7 780.1 L1187.5 776.8 L1188.3 773.5 L1189.1 770.4 L1189.9 767.4 L1190.7 764.6 L1191.5 762.1 L1192.3 759.7 L1193.1 757.6 L1193.9 755.8 L1194.7 754.2 L1195.5 753 L1196.3 752 L1197.1 751.4 L1197.9 751.1 L1198.7 751.1 L1199.5 751.4 L1200.3 752 L1201.1 752.9 L1201.9 754.1 L1202.7 755.5 L1203.5 757.2 L1204.3 759.1 L1205.1 761.2 L1205.9 763.4 L1206.7 765.9 L1207.5 768.4 L1208.3 771 L1209.1 773.7 L1209.9 776.5 L1210.7 779.3 L1211.5 782.1 L1212.3 784.8 L1213.1 787.6 L1213.9 790.3 L1214.7 792.9 L1215.5 795.5 L1216.3 798 L1217.1 800.3 L1217.9 802.6 L1218.7 804.7 L1219.5 806.7 L1220.3 808.6 L1221.1 810.3 L1221.9 812 L1222.7 813.5 L1223.5 814.8 L1224.3 816 L1225.1 817.2 L1225.9 818.1 L1226.7 819 L1227.5 819.8 L1228.3 820.4 L1229.1 821 L1229.9 821.5 L1230.7 821.9 L1231.5 822.3 L1232.3 822.6 L1233.1 822.8 L1233.9 823 L1234.7 823.1 L1235.5 823.1 L1236.3 823.2 L1237.1 823.1 L1237.9 823.1 L1238.7 823 L1239.5 822.8 L1240.3 822.7 L1241.1 822.5 L1241.9 822.3 L1242.7 822.1 L1243.5 821.9 L1244.3 821.6 L1245.1 821.4 L1245.9 821.1 L1246.7 820.9 L1247.5 820.6 L1248.3 820.3 L1249.1 820 L1249.9 819.7 L1250.7 819.4 L1251.5 819.1 L1252.3 818.8 L1253.1 818.5 L1253.9 818.2 L1254.7 817.9 L1255.5 817.6 L1256.3 817.3 L1257.1 817 L1257.9 816.7 L1258.7 816.3 L1259.5 816 L1260.3 815.7 L1261.1 815.4 L1261.9 815.1 L1262.7 814.8 L1263.5 814.4 L1264.3 814.1 L1265.1 813.8 L1265.9 813.5 L1266.7 813.2 L1267.5 812.8 L1268.3 812.5 L1269.1 812.2 L1269.9 811.9 L1270.7 811.5 L1271.5 811.2 L1272.3 810.9 L1273.1 810.6 L1273.9 810.3 L1274.7 809.9 L1275.5 809.6 L1276.3 809.3 L1277.1 809 L1277.9 808.6 L1278.7 808.3 L1279.5 808 L1280.3 807.7 L1281.1 807.3 L1281.1 807.6 L1280.3 808 L1279.5 808.3 L1278.7 808.6 L1277.9 808.9 L1277.1 809.3 L1276.3 809.6 L1275.5 809.9 L1274.7 810.3 L1273.9 810.6 L1273.1 810.9 L1272.3 811.2 L1271.5 811.6 L1270.7 811.9 L1269.9 812.2 L1269.1 812.6 L1268.3 812.9 L1267.5 813.2 L1266.7 813.6 L1265.9 813.9 L1265.1 814.2 L1264.3 814.5 L1263.5 814.9 L1262.7 815.2 L1261.9 815.5 L1261.1 815.9 L1260.3 816.2 L1259.5 816.5 L1258.7 816.8 L1257.9 817.2 L1257.1 817.5 L1256.3 817.8 L1255.5 818.2 L1254.7 818.5 L1253.9 818.8 L1253.1 819.2 L1252.3 819.5 L1251.5 819.8 L1250.7 820.1 L1249.9 820.5 L1249.1 820.8 L1248.3 821.1 L1247.5 821.5 L1246.7 821.8 L1245.9 822.1 L1245.1 822.4 L1244.3 822.8 L1243.5 823.1 L1242.7 823.4 L1241.9 823.8 L1241.1 824.1 L1240.3 824.4 L1239.5 824.7 L1238.7 825.1 L1237.9 825.4 L1237.1 825.7 L1236.3 826.1 L1235.5 826.4 L1234.7 826.7 L1233.9 827.1 L1233.1 827.4 L1232.3 827.7 L1231.5 828 L1230.7 828.4 L1229.9 828.7 L1229.1 829.1 L1228.3 829.5 L1227.5 829.9 L1226.7 830.3 L1225.9 830.7 L1225.1 831.1 L1224.3 831.5 L1223.5 831.9 L1222.7 832.3 L1221.9 832.7 L1221.1 833.1 L1220.3 833.4 L1219.5 833.8 L1218.7 834.2 L1217.9 834.6 L1217.1 835 L1216.3 835.4 L1215.5 835.8 L1214.7 836.2 L1213.9 836.6 L1213.1 837 L1212.3 837.4 L1211.5 837.8 L1210.7 838.2 L1209.9 838.6 L1209.1 839 L1208.3 839.4 L1207.5 839.8 L1206.7 840.2 L1205.9 840.6 L1205.1 840.9 L1204.3 841.3 L1203.5 841.7 L1202.7 842.1 L1201.9 842.5 L1201.1 842.9 L1200.3 843.3 L1199.5 843.7 L1198.7 844.1 L1197.9 844.5 L1197.1 844.9 L1196.3 845.3 L1195.5 845.7 L1194.7 846.1 L1193.9 846.5 L1193.1 846.9 L1192.3 847.3 L1191.5 847.7 L1190.7 848 L1189.9 848.4 L1189.1 848.8 L1188.3 849.2 L1187.5 849.6 L1186.7 850 L1185.9 850.4 L1185.1 850.8 L1184.3 851.2 L1183.5 851.6 L1182.7 852 L1181.9 852.4 L1181.1 852.8 L1180.3 853.2 L1179.5 853.6 L1178.7 854 L1177.9 854.4 L1177.1 854.8 L1176.3 855.2 L1175.5 855.5 L1174.7 855.9 L1173.9 856.3 L1173.1 856.7 L1172.3 857.1 L1171.5 857.5 L1170.7 857.9 L1169.9 858.3 L1169.1 858.7 L1168.3 859.1 L1167.5 859.5 L1166.7 859.9 L1165.9 860.3 L1165.1 860.7 L1164.3 861.1 L1163.5 861.5 L1162.7 861.9 L1161.9 862.3 L1161.1 862.7 L1160.3 863 L1159.5 863.4 L1158.7 863.8 L1157.9 864.2 L1157.1 864.6 L1156.3 865 L1155.5 865.4 L1154.7 865.8 L1153.9 866.2 L1153.1 866.6 L1152.3 867 L1151.5 867.4 L1150.7 867.8 L1149.9 868.2 L1149.1 868.6 L1148.3 869 L1147.5 869.4 L1146.7 869.8 L1145.9 870.2 L1145.1 870.5 L1144.3 870.9 L1143.5 871.3 L1142.7 871.7 L1141.9 872.1 L1141.1 872.5 L1140.3 872.9 L1139.5 873.3 L1138.7 873.7 L1137.9 874.1 L1137.1 874.5 L1136.3 874.9 L1135.5 875.3 L1134.7 875.7 L1133.9 876.1 L1133.1 876.5 L1132.3 876.9 L1131.5 877.3 L1130.7 877.7 L1129.9 878 L1129.1 878.4 L1128.3 878.8 L1127.5 879.2 L1126.7 879.6 L1125.9 880 L1125.1 880.4 L1124.3 880.8 L1123.5 881.2 L1122.7 881.6 L1121.9 882 L1121.1 882.4 L1120.3 882.8 L1119.5 883.2 L1118.7 883.6 L1117.9 884 L1117.1 884.4 L1116.3 884.8 L1115.5 885.2 L1114.7 885.5 L1113.9 885.9 Z" fill="#f9aaa6" stroke="none"/>
<path d="M1151.5 867.4 L1152.3 867 L1153.1 866.6 L1153.9 866.2 L1154.7 865.8 L1155.5 865.4 L1156.3 865 L1157.1 864.6 L1157.9 864.2 L1158.7 863.8 L1159.5 863.4 L1160.3 863 L1161.1 862.7 L1161.9 862.3 L1162.7 861.9 L1163.5 861.5 L1164.3 861.1 L1165.1 860.7 L1165.9 860.3 L1166.7 859.9 L1167.5 859.5 L1168.3 859.1 L1169.1 858.7 L1169.9 858.3 L1170.7 857.9 L1171.5 857.5 L1172.3 857.1 L1173.1 856.7 L1173.9 856.3 L1174.7 855.9 L1175.5 855.5 L1176.3 855.2 L1177.1 854.8 L1177.9 854.4 L1178.7 854 L1179.5 853.6 L1180.3 853.2 L1181.1 852.8 L1181.9 852.4 L1182.7 852 L1183.5 851.6 L1184.3 851.2 L1185.1 850.8 L1185.9 850.4 L1186.7 850 L1187.5 849.6 L1188.3 849.2 L1189.1 848.8 L1189.9 848.4 L1190.7 848 L1191.5 847.6 L1192.3 847.2 L1193.1 846.8 L1193.9 846.4 L1194.7 846 L1195.5 845.6 L1196.3 845.2 L1197.1 844.8 L1197.9 844.4 L1198.7 844 L1199.5 843.6 L1200.3 843.2 L1201.1 842.8 L1201.9 842.3 L1202.7 841.9 L1203.5 841.5 L1204.3 841 L1205.1 840.6 L1205.9 840.2 L1206.7 839.7 L1207.5 839.3 L1208.3 838.8 L1209.1 838.3 L1209.9 837.9 L1210.7 837.4 L1211.5 836.9 L1212.3 836.4 L1213.1 835.8 L1213.9 835.3 L1214.7 834.8 L1215.5 834.2 L1216.3 833.6 L1217.1 833 L1217.9 832.4 L1218.7 831.8 L1219.5 831.1 L1220.3 830.4 L1221.1 829.7 L1221.9 829 L1222.7 828.2 L1223.5 827.4 L1224.3 826.6 L1225.1 825.8 L1225.9 824.9 L1226.7 824 L1227.5 823 L1228.3 822.1 L1229.1 821 L1229.9 820 L1230.7 819 L1231.5 817.9 L1232.3 816.8 L1233.1 815.7 L1233.9 814.5 L1234.7 813.3 L1235.5 812 L1236.3 810.7 L1237.1 809.4 L1237.9 808.1 L1238.7 806.7 L1239.5 805.2 L1240.3 803.8 L1241.1 802.3 L1241.9 800.8 L1242.7 799.3 L1243.5 797.8 L1244.3 796.3 L1245.1 794.7 L1245.9 793.2 L1246.7 791.6 L1247.5 790 L1248.3 788.5 L1249.1 787 L1249.9 785.5 L1250.7 784 L1251.5 782.5 L1252.3 781.1 L1253.1 779.7 L1253.9 778.4 L1254.7 777.1 L1255.5 775.8 L1256.3 774.6 L1257.1 773.5 L1257.9 772.4 L1258.7 771.4 L1259.5 770.5 L1260.3 769.6 L1261.1 768.9 L1261.9 768.2 L1262.7 767.6 L1263.5 767 L1264.3 766.6 L1265.1 766.2 L1265.9 765.9 L1266.7 765.7 L1267.5 765.6 L1268.3 765.6 L1269.1 765.7 L1269.9 765.8 L1270.7 766 L1271.5 766.3 L1272.3 766.7 L1273.1 767.1 L1273.9 767.6 L1274.7 768.1 L1275.5 768.7 L1276.3 769.4 L1277.1 770.1 L1277.9 770.8 L1278.7 771.6 L1279.5 772.4 L1280.3 773.2 L1281.1 774.1 L1281.9 775 L1282.7 775.9 L1283.5 776.8 L1284.3 777.7 L1285.1 778.6 L1285.9 779.4 L1286.7 780.3 L1287.5 781.2 L1288.3 782 L1289.1 782.9 L1289.9 783.7 L1290.7 784.4 L1291.5 785.2 L1292.3 785.9 L1293.1 786.6 L1293.9 787.3 L1294.7 787.9 L1295.5 788.5 L1296.3 789 L1297.1 789.5 L1297.9 790 L1298.7 790.4 L1299.5 790.8 L1300.3 791.2 L1301.1 791.5 L1301.9 791.8 L1302.7 792 L1303.5 792.2 L1304.3 792.4 L1305.1 792.6 L1305.9 792.7 L1306.7 792.8 L1307.5 792.8 L1308.3 792.9 L1309.1 792.9 L1309.9 792.8 L1310.7 792.8 L1311.5 792.7 L1312.3 792.6 L1313.1 792.5 L1313.9 792.4 L1314.7 792.2 L1315.5 792.1 L1316.3 791.9 L1317.1 791.7 L1317.9 791.5 L1318.7 791.3 L1319.5 791 L1320.3 790.8 L1321.1 790.5 L1321.9 790.3 L1322.7 790 L1323.5 789.8 L1324.3 789.5 L1325.1 789.2 L1325.9 788.9 L1326.7 788.6 L1327.5 788.3 L1328.3 788 L1329.1 787.7 L1329.9 787.4 L1330.7 787.1 L1331.5 786.8 L1332.3 786.5 L1333.1 786.1 L1333.9 785.8 L1334.7 785.5 L1335.5 785.2 L1336.3 784.9 L1337.1 784.5 L1337.9 784.2 L1338.7 783.9 L1339.5 783.6 L1340.3 783.2 L1341.1 782.9 L1341.9 782.6 L1342.7 782.3 L1343.5 781.9 L1344.3 781.6 L1345.1 781.3 L1345.9 781 L1346.7 780.6 L1347.5 780.3 L1348.3 780 L1349.1 779.6 L1349.9 779.3 L1350.7 779 L1351.5 778.6 L1352.3 778.3 L1353.1 778 L1353.9 777.7 L1354.7 777.3 L1355.5 777 L1356.3 776.7 L1357.1 776.3 L1357.9 776 L1358.7 775.7 L1359.5 775.4 L1360.3 775 L1361.1 774.7 L1361.9 774.4 L1362.7 774 L1363.5 773.7 L1364.3 773.4 L1364.3 773.4 L1363.5 773.7 L1362.7 774 L1361.9 774.4 L1361.1 774.7 L1360.3 775 L1359.5 775.4 L1358.7 775.7 L1357.9 776 L1357.1 776.3 L1356.3 776.7 L1355.5 777 L1354.7 777.3 L1353.9 777.7 L1353.1 778 L1352.3 778.3 L1351.5 778.7 L1350.7 779 L1349.9 779.3 L1349.1 779.6 L1348.3 780 L1347.5 780.3 L1346.7 780.6 L1345.9 781 L1345.1 781.3 L1344.3 781.6 L1343.5 781.9 L1342.7 782.3 L1341.9 782.6 L1341.1 782.9 L1340.3 783.3 L1339.5 783.6 L1338.7 783.9 L1337.9 784.2 L1337.1 784.6 L1336.3 784.9 L1335.5 785.2 L1334.7 785.6 L1333.9 785.9 L1333.1 786.2 L1332.3 786.6 L1331.5 786.9 L1330.7 787.2 L1329.9 787.5 L1329.1 787.9 L1328.3 788.2 L1327.5 788.5 L1326.7 788.9 L1325.9 789.2 L1325.1 789.5 L1324.3 789.8 L1323.5 790.2 L1322.7 790.5 L1321.9 790.8 L1321.1 791.2 L1320.3 791.5 L1319.5 791.8 L1318.7 792.2 L1317.9 792.5 L1317.1 792.8 L1316.3 793.1 L1315.5 793.5 L1314.7 793.8 L1313.9 794.1 L1313.1 794.5 L1312.3 794.8 L1311.5 795.1 L1310.7 795.4 L1309.9 795.8 L1309.1 796.1 L1308.3 796.4 L1307.5 796.8 L1306.7 797.1 L1305.9 797.4 L1305.1 797.7 L1304.3 798.1 L1303.5 798.4 L1302.7 798.7 L1301.9 799.1 L1301.1 799.4 L1300.3 799.7 L1299.5 800.1 L1298.7 800.4 L1297.9 800.7 L1297.1 801 L1296.3 801.4 L1295.5 801.7 L1294.7 802 L1293.9 802.4 L1293.1 802.7 L1292.3 803 L1291.5 803.3 L1290.7 803.7 L1289.9 804 L1289.1 804.3 L1288.3 804.7 L1287.5 805 L1286.7 805.3 L1285.9 805.7 L1285.1 806 L1284.3 806.3 L1283.5 806.6 L1282.7 807 L1281.9 807.3 L1281.1 807.6 L1280.3 808 L1279.5 808.3 L1278.7 808.6 L1277.9 808.9 L1277.1 809.3 L1276.3 809.6 L1275.5 809.9 L1274.7 810.3 L1273.9 810.6 L1273.1 810.9 L1272.3 811.2 L1271.5 811.6 L1270.7 811.9 L1269.9 812.2 L1269.1 812.6 L1268.3 812.9 L1267.5 813.2 L1266.7 813.6 L1265.9 813.9 L1265.1 814.2 L1264.3 814.5 L1263.5 814.9 L1262.7 815.2 L1261.9 815.5 L1261.1 815.9 L1260.3 816.2 L1259.5 816.5 L1258.7 816.8 L1257.9 817.2 L1257.1 817.5 L1256.3 817.8 L1255.5 818.2 L1254.7 818.5 L1253.9 818.8 L1253.1 819.2 L1252.3 819.5 L1251.5 819.8 L1250.7 820.1 L1249.9 820.5 L1249.1 820.8 L1248.3 821.1 L1247.5 821.5 L1246.7 821.8 L1245.9 822.1 L1245.1 822.4 L1244.3 822.8 L1243.5 823.1 L1242.7 823.4 L1241.9 823.8 L1241.1 824.1 L1240.3 824.4 L1239.5 824.7 L1238.7 825.1 L1237.9 825.4 L1237.1 825.7 L1236.3 826.1 L1235.5 826.4 L1234.7 826.7 L1233.9 827.1 L1233.1 827.4 L1232.3 827.7 L1231.5 828 L1230.7 828.4 L1229.9 828.7 L1229.1 829.1 L1228.3 829.5 L1227.5 829.9 L1226.7 830.3 L1225.9 830.7 L1225.1 831.1 L1224.3 831.5 L1223.5 831.9 L1222.7 832.3 L1221.9 832.7 L1221.1 833.1 L1220.3 833.4 L1219.5 833.8 L1218.7 834.2 L1217.9 834.6 L1217.1 835 L1216.3 835.4 L1215.5 835.8 L1214.7 836.2 L1213.9 836.6 L1213.1 837 L1212.3 837.4 L1211.5 837.8 L1210.7 838.2 L1209.9 838.6 L1209.1 839 L1208.3 839.4 L1207.5 839.8 L1206.7 840.2 L1205.9 840.6 L1205.1 840.9 L1204.3 841.3 L1203.5 841.7 L1202.7 842.1 L1201.9 842.5 L1201.1 842.9 L1200.3 843.3 L1199.5 843.7 L1198.7 844.1 L1197.9 844.5 L1197.1 844.9 L1196.3 845.3 L1195.5 845.7 L1194.7 846.1 L1193.9 846.5 L1193.1 846.9 L1192.3 847.3 L1191.5 847.7 L1190.7 848 L1189.9 848.4 L1189.1 848.8 L1188.3 849.2 L1187.5 849.6 L1186.7 850 L1185.9 850.4 L1185.1 850.8 L1184.3 851.2 L1183.5 851.6 L1182.7 852 L1181.9 852.4 L1181.1 852.8 L1180.3 853.2 L1179.5 853.6 L1178.7 854 L1177.9 854.4 L1177.1 854.8 L1176.3 855.2 L1175.5 855.5 L1174.7 855.9 L1173.9 856.3 L1173.1 856.7 L1172.3 857.1 L1171.5 857.5 L1170.7 857.9 L1169.9 858.3 L1169.1 858.7 L1168.3 859.1 L1167.5 859.5 L1166.7 859.9 L1165.9 860.3 L1165.1 860.7 L1164.3 861.1 L1163.5 861.5 L1162.7 861.9 L1161.9 862.3 L1161.1 862.7 L1160.3 863 L1159.5 863.4 L1158.7 863.8 L1157.9 864.2 L1157.1 864.6 L1156.3 865 L1155.5 865.4 L1154.7 865.8 L1153.9 866.2 L1153.1 866.6 L1152.3 867 L1151.5 867.4 Z" fill="#c0f0cf" stroke="none"/>
<path d="M925.9 990.1 L926.7 989.8 L927.5 989.6 L928.3 989.3 L929.1 989 L929.9 988.8 L930.7 988.5 L931.5 988.3 L932.3 988 L933.1 987.7 L933.9 987.5 L934.7 987.2 L935.5 987 L936.3 986.7 L937.1 986.4 L937.9 986.2 L938.7 985.9 L939.5 985.7 L940.3 985.4 L941.1 985 L941.9 984.6 L942.7 984.2 L943.5 983.9 L944.3 983.5 L945.1 983.1 L945.9 982.7 L946.7 982.4 L947.5 982 L948.3 981.6 L949.1 981.3 L949.9 980.9 L950.7 980.5 L951.5 980.1 L952.3 979.8 L953.1 979.4 L953.9 979 L954.7 978.6 L955.5 978.1 L956.3 977.6 L957.1 977 L957.9 976.5 L958.7 975.9 L959.5 975.4 L960.3 974.8 L961.1 974.2 L961.9 973.7 L962.7 973.1 L963.5 972.5 L964.3 972 L965.1 971.4 L965.9 970.9 L966.7 970.4 L967.5 969.9 L968.3 969.2 L969.1 968.4 L969.9 967.6 L970.7 966.8 L971.5 966" stroke="#2038c0" stroke-width="1.5" fill="none" stroke-linejoin="round" />
<path d="M1230.7 828.4 L1231.5 828 L1232.3 827.7 L1233.1 827.4 L1233.9 827.1 L1234.7 826.7 L1235.5 826.4 L1236.3 826.1 L1237.1 825.7 L1237.9 825.4 L1238.7 825.1 L1239.5 824.7 L1240.3 824.4 L1241.1 824.1 L1241.9 823.8 L1242.7 823.4 L1243.5 823.1 L1244.3 822.8 L1245.1 822.4 L1245.9 822.1 L1246.7 821.8 L1247.5 821.5 L1248.3 821.1 L1249.1 820.8 L1249.9 820.5 L1250.7 820.1 L1251.5 819.8 L1252.3 819.5 L1253.1 819.2 L1253.9 818.8 L1254.7 818.5 L1255.5 818.2 L1256.3 817.8 L1257.1 817.5 L1257.9 817.2 L1258.7 816.8 L1259.5 816.5 L1260.3 816.2 L1261.1 815.9 L1261.9 815.5 L1262.7 815.2 L1263.5 814.9 L1264.3 814.5 L1265.1 814.2 L1265.9 813.9 L1266.7 813.6 L1267.5 813.2 L1268.3 812.9 L1269.1 812.6 L1269.9 812.2 L1270.7 811.9 L1271.5 811.6 L1272.3 811.2 L1273.1 810.9 L1273.9 810.6 L1274.7 810.3 L1275.5 809.9 L1276.3 809.6 L1277.1 809.3 L1277.9 808.9 L1278.7 808.6 L1279.5 808.3 L1280.3 808 L1281.1 807.6 L1281.9 807.3 L1282.7 807 L1283.5 806.6 L1284.3 806.3 L1285.1 806 L1285.9 805.7 L1286.7 805.3 L1287.5 805 L1288.3 804.7 L1289.1 804.3 L1289.9 804 L1290.7 803.7 L1291.5 803.3 L1292.3 803 L1293.1 802.7 L1293.9 802.4 L1294.7 802 L1295.5 801.7 L1296.3 801.4 L1297.1 801 L1297.9 800.7 L1298.7 800.4 L1299.5 800.1 L1300.3 799.7 L1301.1 799.4 L1301.9 799.1 L1302.7 798.7 L1303.5 798.4 L1304.3 798.1 L1305.1 797.7 L1305.9 797.4 L1306.7 797.1 L1307.5 796.8 L1308.3 796.4 L1309.1 796.1 L1309.9 795.8 L1310.7 795.4 L1311.5 795.1 L1312.3 794.8 L1313.1 794.5 L1313.9 794.1 L1314.7 793.8 L1315.5 793.5 L1316.3 793.1 L1317.1 792.8 L1317.9 792.5 L1318.7 792.2 L1319.5 791.8 L1320.3 791.5 L1321.1 791.2 L1321.9 790.8 L1322.7 790.5 L1323.5 790.2 L1324.3 789.8 L1325.1 789.5 L1325.9 789.2 L1326.7 788.9 L1327.5 788.5 L1328.3 788.2 L1329.1 787.9 L1329.9 787.5 L1330.7 787.2 L1331.5 786.9 L1332.3 786.6 L1333.1 786.2 L1333.9 785.9 L1334.7 785.6 L1335.5 785.2 L1336.3 784.9 L1337.1 784.6 L1337.9 784.2 L1338.7 783.9 L1339.5 783.6 L1340.3 783.3 L1341.1 782.9 L1341.9 782.6 L1342.7 782.3 L1343.5 781.9 L1344.3 781.6 L1345.1 781.3 L1345.9 781 L1346.7 780.6 L1347.5 780.3 L1348.3 780 L1349.1 779.6 L1349.9 779.3 L1350.7 779 L1351.5 778.7 L1352.3 778.3 L1353.1 778 L1353.9 777.7 L1354.7 777.3 L1355.5 777 L1356.3 776.7 L1357.1 776.3 L1357.9 776 L1358.7 775.7 L1359.5 775.4 L1360.3 775 L1361.1 774.7 L1361.9 774.4 L1362.7 774 L1363.5 773.7 L1364.3 773.4" stroke="#5070e0" stroke-width="1.0" fill="none" stroke-linejoin="round" />
<path d="M925.9 988.9 L926.7 988.6 L927.5 988.3 L928.3 988 L929.1 987.7 L929.9 987.4 L930.7 987.1 L931.5 986.8 L932.3 986.5 L933.1 986.1 L933.9 985.8 L934.7 985.5 L935.5 985.2 L936.3 984.9 L937.1 984.5 L937.9 984.2 L938.7 983.9 L939.5 983.5 L940.3 983.1 L941.1 982.7 L941.9 982.2 L942.7 981.7 L943.5 981.2 L944.3 980.6 L945.1 980.1 L945.9 979.4 L946.7 978.8 L947.5 978 L948.3 977.2 L949.1 976.1 L949.9 974.9 L950.7 973.4 L951.5 971.6 L952.3 969.3 L953.1 966.4 L953.9 962.9 L954.7 958.5 L955.5 952.9 L956.3 946.2 L957.1 938.2 L957.9 928.7 L958.7 917.8 L959.5 905.3 L960.3 891.4 L961.1 876.1 L961.9 859.7 L962.7 842.4 L963.5 824.6 L964.3 806.9 L965.1 789.7 L965.9 773.6 L966.7 759.4 L967.5 747.4 L968.3 738.3 L969.1 732.3 L969.9 729.9 L970.7 731.1 L971.5 735.9 L972.3 744 L973.1 754.8 L973.9 767.9 L974.7 782.4 L975.5 797.8 L976.3 813.6 L977.1 829.2 L977.9 844 L978.7 857.8 L979.5 870.2 L980.3 881.1 L981.1 890.2 L981.9 897.7 L982.7 903.4 L983.5 907.5 L984.3 910.1 L985.1 911.3 L985.9 911.2 L986.7 910.1 L987.5 907.9 L988.3 904.9 L989.1 901.2 L989.9 896.7 L990.7 891.7 L991.5 886.2 L992.3 880.3 L993.1 874 L993.9 867.3 L994.7 860.4 L995.5 853.3 L996.3 845.9 L997.1 838.5 L997.9 831.1 L998.7 823.6 L999.5 816.2 L1000.3 809.1 L1001.1 802.4 L1001.9 796 L1002.7 789.9 L1003.5 784.3 L1004.3 779.2 L1005.1 774.7 L1005.9 770.8 L1006.7 767.7 L1007.5 765.2 L1008.3 763.6 L1009.1 762.7 L1009.9 762.6 L1010.7 763.4 L1011.5 764.9 L1012.3 767.2 L1013.1 770.1 L1013.9 773.8 L1014.7 778 L1015.5 782.8 L1016.3 788 L1017.1 793.6 L1017.9 799.5 L1018.7 805.7 L1019.5 812 L1020.3 818.5 L1021.1 825 L1021.9 831.4 L1022.7 837.8 L1023.5 844.1 L1024.3 850.1 L1025.1 856 L1025.9 861.6 L1026.7 866.9 L1027.5 871.9 L1028.3 876.5 L1029.1 880.9 L1029.9 884.8 L1030.7 888.4 L1031.5 891.7 L1032.3 894.6 L1033.1 897.2 L1033.9 899.4 L1034.7 901.3 L1035.5 903 L1036.3 904.3 L1037.1 905.3 L1037.9 906.1 L1038.7 906.6 L1039.5 906.8 L1040.3 906.9 L1041.1 906.7 L1041.9 906.4 L1042.7 905.9 L1043.5 905.2 L1044.3 904.3 L1045.1 903.3 L1045.9 902.2 L1046.7 900.9 L1047.5 899.5 L1048.3 898 L1049.1 896.4 L1049.9 894.7 L1050.7 893 L1051.5 891.1 L1052.3 889.2 L1053.1 887.3 L1053.9 885.3 L1054.7 883.3 L1055.5 881.3 L1056.3 879.2 L1057.1 877.2 L1057.9 875.2 L1058.7 873.2 L1059.5 871.3 L1060.3 869.5 L1061.1 867.7 L1061.9 866 L1062.7 864.3 L1063.5 862.8 L1064.3 861.4 L1065.1 860.1 L1065.9 859 L1066.7 858 L1067.5 857.1 L1068.3 856.4 L1069.1 855.8 L1069.9 855.4 L1070.7 855.2 L1071.5 855.1 L1072.3 855.1 L1073.1 855.3 L1073.9 855.6 L1074.7 856.1 L1075.5 856.7 L1076.3 857.4 L1077.1 858.3 L1077.9 859.2 L1078.7 860.2 L1079.5 861.3 L1080.3 862.5 L1081.1 863.7 L1081.9 864.9 L1082.7 866.2 L1083.5 867.5 L1084.3 868.9 L1085.1 870.2 L1085.9 871.5 L1086.7 872.8 L1087.5 874 L1088.3 875.2 L1089.1 876.4 L1089.9 877.5 L1090.7 878.6 L1091.5 879.6 L1092.3 880.6 L1093.1 881.4 L1093.9 882.3 L1094.7 883 L1095.5 883.7 L1096.3 884.3 L1097.1 884.8 L1097.9 885.3 L1098.7 885.7 L1099.5 886 L1100.3 886.3 L1101.1 886.5 L1101.9 886.6 L1102.7 886.8 L1103.5 886.8 L1104.3 886.8 L1105.1 886.8 L1105.9 886.7 L1106.7 886.6 L1107.5 886.5 L1108.3 886.3 L1109.1 886.1 L1109.9 885.9 L1110.7 885.6 L1111.5 885.3 L1112.3 885 L1113.1 884.7 L1113.9 884.4 L1114.7 884 L1115.5 883.6 L1116.3 883.2 L1117.1 882.8 L1117.9 882.4 L1118.7 881.9 L1119.5 881.4 L1120.3 880.9 L1121.1 880.3 L1121.9 879.8 L1122.7 879.1 L1123.5 878.5 L1124.3 877.7 L1125.1 877 L1125.9 876.1 L1126.7 875.2 L1127.5 874.2 L1128.3 873.2 L1129.1 872 L1129.9 870.7 L1130.7 869.4 L1131.5 867.9 L1132.3 866.3 L1133.1 864.6 L1133.9 862.8 L1134.7 860.8 L1135.5 858.7 L1136.3 856.5 L1137.1 854.1 L1137.9 851.6 L1138.7 849 L1139.5 846.4 L1140.3 843.6 L1141.1 840.7 L1141.9 837.8 L1142.7 834.9 L1143.5 831.9 L1144.3 828.9 L1145.1 826 L1145.9 823.1 L1146.7 820.4 L1147.5 817.7 L1148.3 815.2 L1149.1 812.8 L1149.9 810.6 L1150.7 808.7 L1151.5 807 L1152.3 805.5 L1153.1 804.4 L1153.9 803.4 L1154.7 802.8 L1155.5 802.4 L1156.3 802.4 L1157.1 802.5 L1157.9 802.9 L1158.7 803.6 L1159.5 804.4 L1160.3 805.4 L1161.1 806.5 L1161.9 807.8 L1162.7 809.1 L1163.5 810.4 L1164.3 811.7 L1165.1 813.1 L1165.9 814.3 L1166.7 815.4 L1167.5 816.5 L1168.3 817.3 L1169.1 818 L1169.9 818.5 L1170.7 818.8 L1171.5 818.8 L1172.3 818.6 L1173.1 818.2 L1173.9 817.5 L1174.7 816.5 L1175.5 815.2 L1176.3 813.8 L1177.1 812 L1177.9 810.1 L1178.7 807.9 L1179.5 805.5 L1180.3 802.9 L1181.1 800.2 L1181.9 797.3 L1182.7 794.3 L1183.5 791.2 L1184.3 788 L1185.1 784.8 L1185.9 781.6 L1186.7 778.4 L1187.5 775.2 L1188.3 772.2 L1189.1 769.2 L1189.9 766.4 L1190.7 763.7 L1191.5 761.2 L1192.3 758.9 L1193.1 756.9 L1193.9 755.1 L1194.7 753.6 L1195.5 752.4 L1196.3 751.5 L1197.1 750.9 L1197.9 750.6 L1198.7 750.6 L1199.5 750.9 L1200.3 751.5 L1201.1 752.4 L1201.9 753.5 L1202.7 754.9 L1203.5 756.6 L1204.3 758.5 L1205.1 760.5 L1205.9 762.7 L1206.7 765.1 L1207.5 767.6 L1208.3 770.2 L1209.1 772.8 L1209.9 775.5 L1210.7 778.2 L1211.5 780.9 L1212.3 783.6 L1213.1 786.2 L1213.9 788.8 L1214.7 791.2 L1215.5 793.6 L1216.3 795.9 L1217.1 798.1 L1217.9 800.1 L1218.7 802 L1219.5 803.8 L1220.3 805.4 L1221.1 806.8 L1221.9 808.1 L1222.7 809.2 L1223.5 810.2 L1224.3 811 L1225.1 811.7 L1225.9 812.2 L1226.7 812.5 L1227.5 812.7 L1228.3 812.8 L1229.1 812.8 L1229.9 812.6 L1230.7 812.3 L1231.5 812 L1232.3 811.5 L1233.1 810.9 L1233.9 810.2 L1234.7 809.5 L1235.5 808.6 L1236.3 807.7 L1237.1 806.6 L1237.9 805.5 L1238.7 804.4 L1239.5 803.2 L1240.3 801.9 L1241.1 800.6 L1241.9 799.2 L1242.7 797.9 L1243.5 796.4 L1244.3 795 L1245.1 793.5 L1245.9 792 L1246.7 790.5 L1247.5 789 L1248.3 787.5 L1249.1 786.1 L1249.9 784.6 L1250.7 783.1 L1251.5 781.7 L1252.3 780.3 L1253.1 778.9 L1253.9 777.6 L1254.7 776.3 L1255.5 775.1 L1256.3 773.9 L1257.1 772.8 L1257.9 771.8 L1258.7 770.8 L1259.5 769.9 L1260.3 769 L1261.1 768.3 L1261.9 767.6 L1262.7 767 L1263.5 766.5 L1264.3 766 L1265.1 765.7 L1265.9 765.4 L1266.7 765.2 L1267.5 765.1 L1268.3 765.1 L1269.1 765.2 L1269.9 765.3 L1270.7 765.6 L1271.5 765.8 L1272.3 766.2 L1273.1 766.6 L1273.9 767.1 L1274.7 767.7 L1275.5 768.3 L1276.3 769 L1277.1 769.7 L1277.9 770.4 L1278.7 771.2 L1279.5 772 L1280.3 772.9 L1281.1 773.7 L1281.9 774.6 L1282.7 775.5 L1283.5 776.4 L1284.3 777.3 L1285.1 778.2 L1285.9 779.1 L1286.7 780 L1287.5 780.9 L1288.3 781.7 L1289.1 782.5 L1289.9 783.4 L1290.7 784.1 L1291.5 784.9 L1292.3 785.6 L1293.1 786.3 L1293.9 787 L1294.7 787.6 L1295.5 788.2 L1296.3 788.7 L1297.1 789.2 L1297.9 789.7 L1298.7 790.2 L1299.5 790.6 L1300.3 790.9 L1301.1 791.2 L1301.9 791.5 L1302.7 791.8 L1303.5 792 L1304.3 792.2 L1305.1 792.3 L1305.9 792.4 L1306.7 792.5 L1307.5 792.6 L1308.3 792.6 L1309.1 792.6 L1309.9 792.6 L1310.7 792.6 L1311.5 792.5 L1312.3 792.4 L1313.1 792.3 L1313.9 792.2 L1314.7 792 L1315.5 791.9 L1316.3 791.7 L1317.1 791.5 L1317.9 791.3 L1318.7 791.1 L1319.5 790.8 L1320.3 790.6 L1321.1 790.4 L1321.9 790.1 L1322.7 789.8 L1323.5 789.6 L1324.3 789.3 L1325.1 789 L1325.9 788.7 L1326.7 788.4 L1327.5 788.1 L1328.3 787.8 L1329.1 787.5 L1329.9 787.2 L1330.7 786.9 L1331.5 786.6 L1332.3 786.3 L1333.1 786 L1333.9 785.7 L1334.7 785.3 L1335.5 785 L1336.3 784.7 L1337.1 784.4 L1337.9 784.1 L1338.7 783.7 L1339.5 783.4 L1340.3 783.1 L1341.1 782.8 L1341.9 782.4 L1342.7 782.1 L1343.5 781.8 L1344.3 781.5 L1345.1 781.1 L1345.9 780.8 L1346.7 780.5 L1347.5 780.1 L1348.3 779.8 L1349.1 779.5 L1349.9 779.2 L1350.7 778.8 L1351.5 778.5 L1352.3 778.2 L1353.1 777.9 L1353.9 777.5 L1354.7 777.2 L1355.5 776.9 L1356.3 776.5 L1357.1 776.2 L1357.9 775.9 L1358.7 775.6 L1359.5 775.2 L1360.3 774.9 L1361.1 774.6 L1361.9 774.2 L1362.7 773.9 L1363.5 773.6 L1364.3 773.3" stroke="#f2a6f0" stroke-width="2.0" fill="none" stroke-linejoin="round" />
<circle cx="926" cy="988.2" r="4.4" fill="none" stroke="#d42828" stroke-width="0.9" stroke-dasharray="1.6 1"/>
<circle cx="928.2" cy="988" r="4.4" fill="none" stroke="#d42828" stroke-width="0.9" stroke-dasharray="1.6 1"/>
<circle cx="930.3" cy="989.5" r="4.4" fill="none" stroke="#d42828" stroke-width="0.9" stroke-dasharray="1.6 1"/>
<circle cx="932.4" cy="985.2" r="4.4" fill="none" stroke="#d42828" stroke-width="0.9" stroke-dasharray="1.6 1"/>
<circle cx="934.6" cy="984.4" r="4.4" fill="none" stroke="#d42828" stroke-width="0.9" stroke-dasharray="1.6 1"/>
<circle cx="936.7" cy="983.9" r="4.4" fill="none" stroke="#d42828" stroke-width="0.9" stroke-dasharray="1.6 1"/>
<circle cx="938.8" cy="979.9" r="4.4" fill="none" stroke="#d42828" stroke-width="0.9" stroke-dasharray="1.6 1"/>
<circle cx="940.9" cy="980.9" r="4.4" fill="none" stroke="#d42828" stroke-width="0.9" stroke-dasharray="1.6 1"/>
<circle cx="943.1" cy="980.1" r="4.4" fill="none" stroke="#d42828" stroke-width="0.9" stroke-dasharray="1.6 1"/>
<circle cx="945.2" cy="979.6" r="4.4" fill="none" stroke="#d42828" stroke-width="0.9" stroke-dasharray="1.6 1"/>
<circle cx="947.3" cy="972.7" r="4.4" fill="none" stroke="#d42828" stroke-width="0.9" stroke-dasharray="1.6 1"/>
<circle cx="949.5" cy="971.3" r="4.4" fill="none" stroke="#d42828" stroke-width="0.9" stroke-dasharray="1.6 1"/>
<circle cx="951.6" cy="965.7" r="4.4" fill="none" stroke="#d42828" stroke-width="0.9" stroke-dasharray="1.6 1"/>
<circle cx="1038.8" cy="896.6" r="4.4" fill="none" stroke="#d42828" stroke-width="0.9" stroke-dasharray="1.6 1"/>
<circle cx="1041" cy="896.9" r="4.4" fill="none" stroke="#d42828" stroke-width="0.9" stroke-dasharray="1.6 1"/>
<circle cx="1043.1" cy="892.1" r="4.4" fill="none" stroke="#d42828" stroke-width="0.9" stroke-dasharray="1.6 1"/>
<circle cx="1045.2" cy="897.2" r="4.4" fill="none" stroke="#d42828" stroke-width="0.9" stroke-dasharray="1.6 1"/>
<circle cx="1047.3" cy="894.7" r="4.4" fill="none" stroke="#d42828" stroke-width="0.9" stroke-dasharray="1.6 1"/>
<circle cx="1049.5" cy="888.9" r="4.4" fill="none" stroke="#d42828" stroke-width="0.9" stroke-dasharray="1.6 1"/>
<circle cx="1051.6" cy="884.2" r="4.4" fill="none" stroke="#d42828" stroke-width="0.9" stroke-dasharray="1.6 1"/>
<circle cx="1053.7" cy="876.1" r="4.4" fill="none" stroke="#d42828" stroke-width="0.9" stroke-dasharray="1.6 1"/>
<circle cx="1055.9" cy="870.1" r="4.4" fill="none" stroke="#d42828" stroke-width="0.9" stroke-dasharray="1.6 1"/>
<circle cx="1058" cy="868.6" r="4.4" fill="none" stroke="#d42828" stroke-width="0.9" stroke-dasharray="1.6 1"/>
<circle cx="1060.1" cy="860.5" r="4.4" fill="none" stroke="#d42828" stroke-width="0.9" stroke-dasharray="1.6 1"/>
<circle cx="1062.2" cy="857.1" r="4.4" fill="none" stroke="#d42828" stroke-width="0.9" stroke-dasharray="1.6 1"/>
<circle cx="1064.4" cy="853.5" r="4.4" fill="none" stroke="#d42828" stroke-width="0.9" stroke-dasharray="1.6 1"/>
<circle cx="1066.5" cy="848.9" r="4.4" fill="none" stroke="#d42828" stroke-width="0.9" stroke-dasharray="1.6 1"/>
<circle cx="1068.6" cy="849.9" r="4.4" fill="none" stroke="#d42828" stroke-width="0.9" stroke-dasharray="1.6 1"/>
<circle cx="1070.8" cy="848.7" r="4.4" fill="none" stroke="#d42828" stroke-width="0.9" stroke-dasharray="1.6 1"/>
<circle cx="1072.9" cy="851.6" r="4.4" fill="none" stroke="#d42828" stroke-width="0.9" stroke-dasharray="1.6 1"/>
<circle cx="1075" cy="850.5" r="4.4" fill="none" stroke="#d42828" stroke-width="0.9" stroke-dasharray="1.6 1"/>
<circle cx="1077.1" cy="853.3" r="4.4" fill="none" stroke="#d42828" stroke-width="0.9" stroke-dasharray="1.6 1"/>
<circle cx="1079.3" cy="855" r="4.4" fill="none" stroke="#d42828" stroke-width="0.9" stroke-dasharray="1.6 1"/>
<circle cx="1081.4" cy="859.3" r="4.4" fill="none" stroke="#d42828" stroke-width="0.9" stroke-dasharray="1.6 1"/>
<circle cx="1083.5" cy="861.3" r="4.4" fill="none" stroke="#d42828" stroke-width="0.9" stroke-dasharray="1.6 1"/>
<circle cx="1085.6" cy="863.4" r="4.4" fill="none" stroke="#d42828" stroke-width="0.9" stroke-dasharray="1.6 1"/>
<circle cx="1087.8" cy="871.2" r="4.4" fill="none" stroke="#d42828" stroke-width="0.9" stroke-dasharray="1.6 1"/>
<circle cx="1089.9" cy="873.7" r="4.4" fill="none" stroke="#d42828" stroke-width="0.9" stroke-dasharray="1.6 1"/>
<circle cx="1092" cy="874.8" r="4.4" fill="none" stroke="#d42828" stroke-width="0.9" stroke-dasharray="1.6 1"/>
<circle cx="1094.2" cy="875.5" r="4.4" fill="none" stroke="#d42828" stroke-width="0.9" stroke-dasharray="1.6 1"/>
<circle cx="1096.3" cy="874" r="4.4" fill="none" stroke="#d42828" stroke-width="0.9" stroke-dasharray="1.6 1"/>
<circle cx="1098.4" cy="874.1" r="4.4" fill="none" stroke="#d42828" stroke-width="0.9" stroke-dasharray="1.6 1"/>
<circle cx="1100.5" cy="874.9" r="4.4" fill="none" stroke="#d42828" stroke-width="0.9" stroke-dasharray="1.6 1"/>
<circle cx="1102.7" cy="874" r="4.4" fill="none" stroke="#d42828" stroke-width="0.9" stroke-dasharray="1.6 1"/>
<circle cx="1104.8" cy="879.2" r="4.4" fill="none" stroke="#d42828" stroke-width="0.9" stroke-dasharray="1.6 1"/>
<circle cx="1106.9" cy="876.6" r="4.4" fill="none" stroke="#d42828" stroke-width="0.9" stroke-dasharray="1.6 1"/>
<circle cx="1109.1" cy="879.4" r="4.4" fill="none" stroke="#d42828" stroke-width="0.9" stroke-dasharray="1.6 1"/>
<circle cx="1111.2" cy="875.8" r="4.4" fill="none" stroke="#d42828" stroke-width="0.9" stroke-dasharray="1.6 1"/>
<circle cx="1113.3" cy="879.2" r="4.4" fill="none" stroke="#d42828" stroke-width="0.9" stroke-dasharray="1.6 1"/>
<circle cx="1115.4" cy="877.6" r="4.4" fill="none" stroke="#d42828" stroke-width="0.9" stroke-dasharray="1.6 1"/>
<circle cx="1117.6" cy="870.8" r="4.4" fill="none" stroke="#d42828" stroke-width="0.9" stroke-dasharray="1.6 1"/>
<circle cx="1119.7" cy="871.2" r="4.4" fill="none" stroke="#d42828" stroke-width="0.9" stroke-dasharray="1.6 1"/>
<circle cx="1121.8" cy="875" r="4.4" fill="none" stroke="#d42828" stroke-width="0.9" stroke-dasharray="1.6 1"/>
<circle cx="1124" cy="870.6" r="4.4" fill="none" stroke="#d42828" stroke-width="0.9" stroke-dasharray="1.6 1"/>
<circle cx="1126.1" cy="872.5" r="4.4" fill="none" stroke="#d42828" stroke-width="0.9" stroke-dasharray="1.6 1"/>
<circle cx="1128.2" cy="866.2" r="4.4" fill="none" stroke="#d42828" stroke-width="0.9" stroke-dasharray="1.6 1"/>
<circle cx="1130.3" cy="861.1" r="4.4" fill="none" stroke="#d42828" stroke-width="0.9" stroke-dasharray="1.6 1"/>
<circle cx="1132.5" cy="861.4" r="4.4" fill="none" stroke="#d42828" stroke-width="0.9" stroke-dasharray="1.6 1"/>
<circle cx="1134.6" cy="857.9" r="4.4" fill="none" stroke="#d42828" stroke-width="0.9" stroke-dasharray="1.6 1"/>
<circle cx="1136.7" cy="849" r="4.4" fill="none" stroke="#d42828" stroke-width="0.9" stroke-dasharray="1.6 1"/>
<circle cx="1138.8" cy="841.4" r="4.4" fill="none" stroke="#d42828" stroke-width="0.9" stroke-dasharray="1.6 1"/>
<circle cx="1141" cy="836.4" r="4.4" fill="none" stroke="#d42828" stroke-width="0.9" stroke-dasharray="1.6 1"/>
<circle cx="1143.1" cy="833.9" r="4.4" fill="none" stroke="#d42828" stroke-width="0.9" stroke-dasharray="1.6 1"/>
<circle cx="1145.2" cy="825.4" r="4.4" fill="none" stroke="#d42828" stroke-width="0.9" stroke-dasharray="1.6 1"/>
<circle cx="1147.4" cy="814.4" r="4.4" fill="none" stroke="#d42828" stroke-width="0.9" stroke-dasharray="1.6 1"/>
<circle cx="1149.5" cy="809.8" r="4.4" fill="none" stroke="#d42828" stroke-width="0.9" stroke-dasharray="1.6 1"/>
<circle cx="1151.6" cy="803.5" r="4.4" fill="none" stroke="#d42828" stroke-width="0.9" stroke-dasharray="1.6 1"/>
<circle cx="1153.7" cy="799.5" r="4.4" fill="none" stroke="#d42828" stroke-width="0.9" stroke-dasharray="1.6 1"/>
<circle cx="1155.9" cy="802.9" r="4.4" fill="none" stroke="#d42828" stroke-width="0.9" stroke-dasharray="1.6 1"/>
<circle cx="1158" cy="798.6" r="4.4" fill="none" stroke="#d42828" stroke-width="0.9" stroke-dasharray="1.6 1"/>
<circle cx="1160.1" cy="802.9" r="4.4" fill="none" stroke="#d42828" stroke-width="0.9" stroke-dasharray="1.6 1"/>
<circle cx="1162.3" cy="804.7" r="4.4" fill="none" stroke="#d42828" stroke-width="0.9" stroke-dasharray="1.6 1"/>
<circle cx="1164.4" cy="805.9" r="4.4" fill="none" stroke="#d42828" stroke-width="0.9" stroke-dasharray="1.6 1"/>
<circle cx="1166.5" cy="811.1" r="4.4" fill="none" stroke="#d42828" stroke-width="0.9" stroke-dasharray="1.6 1"/>
<circle cx="1168.6" cy="806.9" r="4.4" fill="none" stroke="#d42828" stroke-width="0.9" stroke-dasharray="1.6 1"/>
<circle cx="1170.8" cy="809.2" r="4.4" fill="none" stroke="#d42828" stroke-width="0.9" stroke-dasharray="1.6 1"/>
<circle cx="1172.9" cy="804.5" r="4.4" fill="none" stroke="#d42828" stroke-width="0.9" stroke-dasharray="1.6 1"/>
<circle cx="1175" cy="806.5" r="4.4" fill="none" stroke="#d42828" stroke-width="0.9" stroke-dasharray="1.6 1"/>
<circle cx="1177.2" cy="803.1" r="4.4" fill="none" stroke="#d42828" stroke-width="0.9" stroke-dasharray="1.6 1"/>
<circle cx="1179.3" cy="799.8" r="4.4" fill="none" stroke="#d42828" stroke-width="0.9" stroke-dasharray="1.6 1"/>
<circle cx="1181.4" cy="798.7" r="4.4" fill="none" stroke="#d42828" stroke-width="0.9" stroke-dasharray="1.6 1"/>
<circle cx="1183.5" cy="790.1" r="4.4" fill="none" stroke="#d42828" stroke-width="0.9" stroke-dasharray="1.6 1"/>
<circle cx="1185.7" cy="778.7" r="4.4" fill="none" stroke="#d42828" stroke-width="0.9" stroke-dasharray="1.6 1"/>
<circle cx="1187.8" cy="774.9" r="4.4" fill="none" stroke="#d42828" stroke-width="0.9" stroke-dasharray="1.6 1"/>
<circle cx="1189.9" cy="762.9" r="4.4" fill="none" stroke="#d42828" stroke-width="0.9" stroke-dasharray="1.6 1"/>
<circle cx="1192" cy="758.1" r="4.4" fill="none" stroke="#d42828" stroke-width="0.9" stroke-dasharray="1.6 1"/>
<circle cx="1194.2" cy="756.8" r="4.4" fill="none" stroke="#d42828" stroke-width="0.9" stroke-dasharray="1.6 1"/>
<circle cx="1196.3" cy="752.2" r="4.4" fill="none" stroke="#d42828" stroke-width="0.9" stroke-dasharray="1.6 1"/>
<circle cx="1198.4" cy="747" r="4.4" fill="none" stroke="#d42828" stroke-width="0.9" stroke-dasharray="1.6 1"/>
<circle cx="1200.6" cy="754" r="4.4" fill="none" stroke="#d42828" stroke-width="0.9" stroke-dasharray="1.6 1"/>
<circle cx="1202.7" cy="751.4" r="4.4" fill="none" stroke="#d42828" stroke-width="0.9" stroke-dasharray="1.6 1"/>
<circle cx="1204.8" cy="756.1" r="4.4" fill="none" stroke="#d42828" stroke-width="0.9" stroke-dasharray="1.6 1"/>
<circle cx="1206.9" cy="765.4" r="4.4" fill="none" stroke="#d42828" stroke-width="0.9" stroke-dasharray="1.6 1"/>
<circle cx="1209.1" cy="768.7" r="4.4" fill="none" stroke="#d42828" stroke-width="0.9" stroke-dasharray="1.6 1"/>
<circle cx="1211.2" cy="775.2" r="4.4" fill="none" stroke="#d42828" stroke-width="0.9" stroke-dasharray="1.6 1"/>
<circle cx="1213.3" cy="780.3" r="4.4" fill="none" stroke="#d42828" stroke-width="0.9" stroke-dasharray="1.6 1"/>
<circle cx="1215.5" cy="786.2" r="4.4" fill="none" stroke="#d42828" stroke-width="0.9" stroke-dasharray="1.6 1"/>
<circle cx="1217.6" cy="793.5" r="4.4" fill="none" stroke="#d42828" stroke-width="0.9" stroke-dasharray="1.6 1"/>
<circle cx="1219.7" cy="794" r="4.4" fill="none" stroke="#d42828" stroke-width="0.9" stroke-dasharray="1.6 1"/>
<circle cx="1221.8" cy="798.4" r="4.4" fill="none" stroke="#d42828" stroke-width="0.9" stroke-dasharray="1.6 1"/>
<circle cx="1224" cy="797.5" r="4.4" fill="none" stroke="#d42828" stroke-width="0.9" stroke-dasharray="1.6 1"/>
<circle cx="1226.1" cy="797.7" r="4.4" fill="none" stroke="#d42828" stroke-width="0.9" stroke-dasharray="1.6 1"/>
<circle cx="1228.2" cy="800.1" r="4.4" fill="none" stroke="#d42828" stroke-width="0.9" stroke-dasharray="1.6 1"/>
<circle cx="1230.4" cy="797.1" r="4.4" fill="none" stroke="#d42828" stroke-width="0.9" stroke-dasharray="1.6 1"/>
<circle cx="1232.5" cy="797.4" r="4.4" fill="none" stroke="#d42828" stroke-width="0.9" stroke-dasharray="1.6 1"/>
<circle cx="1234.6" cy="798.3" r="4.4" fill="none" stroke="#d42828" stroke-width="0.9" stroke-dasharray="1.6 1"/>
<circle cx="1236.7" cy="791.8" r="4.4" fill="none" stroke="#d42828" stroke-width="0.9" stroke-dasharray="1.6 1"/>
<circle cx="1238.9" cy="789.3" r="4.4" fill="none" stroke="#d42828" stroke-width="0.9" stroke-dasharray="1.6 1"/>
<circle cx="1241" cy="791.6" r="4.4" fill="none" stroke="#d42828" stroke-width="0.9" stroke-dasharray="1.6 1"/>
<circle cx="1243.1" cy="787.3" r="4.4" fill="none" stroke="#d42828" stroke-width="0.9" stroke-dasharray="1.6 1"/>
<circle cx="1245.2" cy="779.5" r="4.4" fill="none" stroke="#d42828" stroke-width="0.9" stroke-dasharray="1.6 1"/>
<circle cx="1247.4" cy="775.1" r="4.4" fill="none" stroke="#d42828" stroke-width="0.9" stroke-dasharray="1.6 1"/>
<circle cx="1249.5" cy="775" r="4.4" fill="none" stroke="#d42828" stroke-width="0.9" stroke-dasharray="1.6 1"/>
<circle cx="1251.6" cy="772.6" r="4.4" fill="none" stroke="#d42828" stroke-width="0.9" stroke-dasharray="1.6 1"/>
<circle cx="1253.8" cy="763.7" r="4.4" fill="none" stroke="#d42828" stroke-width="0.9" stroke-dasharray="1.6 1"/>
<circle cx="1255.9" cy="765.9" r="4.4" fill="none" stroke="#d42828" stroke-width="0.9" stroke-dasharray="1.6 1"/>
<circle cx="1258" cy="763.1" r="4.4" fill="none" stroke="#d42828" stroke-width="0.9" stroke-dasharray="1.6 1"/>
<circle cx="1260.1" cy="759.3" r="4.4" fill="none" stroke="#d42828" stroke-width="0.9" stroke-dasharray="1.6 1"/>
<circle cx="1262.3" cy="756.7" r="4.4" fill="none" stroke="#d42828" stroke-width="0.9" stroke-dasharray="1.6 1"/>
<circle cx="1264.4" cy="753.7" r="4.4" fill="none" stroke="#d42828" stroke-width="0.9" stroke-dasharray="1.6 1"/>
<circle cx="1266.5" cy="753.1" r="4.4" fill="none" stroke="#d42828" stroke-width="0.9" stroke-dasharray="1.6 1"/>
<circle cx="1268.7" cy="760" r="4.4" fill="none" stroke="#d42828" stroke-width="0.9" stroke-dasharray="1.6 1"/>
<circle cx="1270.8" cy="755.7" r="4.4" fill="none" stroke="#d42828" stroke-width="0.9" stroke-dasharray="1.6 1"/>
<circle cx="1272.9" cy="759.7" r="4.4" fill="none" stroke="#d42828" stroke-width="0.9" stroke-dasharray="1.6 1"/>
<circle cx="1275" cy="757.7" r="4.4" fill="none" stroke="#d42828" stroke-width="0.9" stroke-dasharray="1.6 1"/>
<circle cx="1277.2" cy="763.3" r="4.4" fill="none" stroke="#d42828" stroke-width="0.9" stroke-dasharray="1.6 1"/>
<circle cx="1279.3" cy="763.6" r="4.4" fill="none" stroke="#d42828" stroke-width="0.9" stroke-dasharray="1.6 1"/>
<circle cx="1281.4" cy="763.5" r="4.4" fill="none" stroke="#d42828" stroke-width="0.9" stroke-dasharray="1.6 1"/>
<circle cx="1283.6" cy="764.8" r="4.4" fill="none" stroke="#d42828" stroke-width="0.9" stroke-dasharray="1.6 1"/>
<circle cx="1285.7" cy="770.8" r="4.4" fill="none" stroke="#d42828" stroke-width="0.9" stroke-dasharray="1.6 1"/>
<circle cx="1287.8" cy="768.4" r="4.4" fill="none" stroke="#d42828" stroke-width="0.9" stroke-dasharray="1.6 1"/>
<circle cx="1289.9" cy="771.5" r="4.4" fill="none" stroke="#d42828" stroke-width="0.9" stroke-dasharray="1.6 1"/>
<circle cx="1292.1" cy="776" r="4.4" fill="none" stroke="#d42828" stroke-width="0.9" stroke-dasharray="1.6 1"/>
<circle cx="1294.2" cy="779.9" r="4.4" fill="none" stroke="#d42828" stroke-width="0.9" stroke-dasharray="1.6 1"/>
<circle cx="1296.3" cy="780" r="4.4" fill="none" stroke="#d42828" stroke-width="0.9" stroke-dasharray="1.6 1"/>
<circle cx="1298.4" cy="779" r="4.4" fill="none" stroke="#d42828" stroke-width="0.9" stroke-dasharray="1.6 1"/>
<circle cx="1300.6" cy="784.7" r="4.4" fill="none" stroke="#d42828" stroke-width="0.9" stroke-dasharray="1.6 1"/>
<circle cx="1302.7" cy="780.6" r="4.4" fill="none" stroke="#d42828" stroke-width="0.9" stroke-dasharray="1.6 1"/>
<circle cx="1304.8" cy="779.9" r="4.4" fill="none" stroke="#d42828" stroke-width="0.9" stroke-dasharray="1.6 1"/>
<circle cx="1307" cy="782.1" r="4.4" fill="none" stroke="#d42828" stroke-width="0.9" stroke-dasharray="1.6 1"/>
<circle cx="1309.1" cy="783.5" r="4.4" fill="none" stroke="#d42828" stroke-width="0.9" stroke-dasharray="1.6 1"/>
<circle cx="1311.2" cy="780.9" r="4.4" fill="none" stroke="#d42828" stroke-width="0.9" stroke-dasharray="1.6 1"/>
<circle cx="1313.3" cy="781.5" r="4.4" fill="none" stroke="#d42828" stroke-width="0.9" stroke-dasharray="1.6 1"/>
<circle cx="1315.5" cy="782.6" r="4.4" fill="none" stroke="#d42828" stroke-width="0.9" stroke-dasharray="1.6 1"/>
<circle cx="1317.6" cy="783.7" r="4.4" fill="none" stroke="#d42828" stroke-width="0.9" stroke-dasharray="1.6 1"/>
<circle cx="1319.7" cy="780.2" r="4.4" fill="none" stroke="#d42828" stroke-width="0.9" stroke-dasharray="1.6 1"/>
<circle cx="1321.9" cy="781.4" r="4.4" fill="none" stroke="#d42828" stroke-width="0.9" stroke-dasharray="1.6 1"/>
<circle cx="1324" cy="784.8" r="4.4" fill="none" stroke="#d42828" stroke-width="0.9" stroke-dasharray="1.6 1"/>
<circle cx="1326.1" cy="785" r="4.4" fill="none" stroke="#d42828" stroke-width="0.9" stroke-dasharray="1.6 1"/>
<circle cx="1328.2" cy="782.3" r="4.4" fill="none" stroke="#d42828" stroke-width="0.9" stroke-dasharray="1.6 1"/>
<circle cx="1330.4" cy="782" r="4.4" fill="none" stroke="#d42828" stroke-width="0.9" stroke-dasharray="1.6 1"/>
<circle cx="1332.5" cy="780.8" r="4.4" fill="none" stroke="#d42828" stroke-width="0.9" stroke-dasharray="1.6 1"/>
<circle cx="1334.6" cy="777.2" r="4.4" fill="none" stroke="#d42828" stroke-width="0.9" stroke-dasharray="1.6 1"/>
<circle cx="1336.8" cy="775.9" r="4.4" fill="none" stroke="#d42828" stroke-width="0.9" stroke-dasharray="1.6 1"/>
<circle cx="1338.9" cy="775.3" r="4.4" fill="none" stroke="#d42828" stroke-width="0.9" stroke-dasharray="1.6 1"/>
<circle cx="1341" cy="781" r="4.4" fill="none" stroke="#d42828" stroke-width="0.9" stroke-dasharray="1.6 1"/>
<circle cx="1343.1" cy="779" r="4.4" fill="none" stroke="#d42828" stroke-width="0.9" stroke-dasharray="1.6 1"/>
<circle cx="1345.3" cy="780.3" r="4.4" fill="none" stroke="#d42828" stroke-width="0.9" stroke-dasharray="1.6 1"/>
<circle cx="1347.4" cy="772.8" r="4.4" fill="none" stroke="#d42828" stroke-width="0.9" stroke-dasharray="1.6 1"/>
<circle cx="1349.5" cy="776.3" r="4.4" fill="none" stroke="#d42828" stroke-width="0.9" stroke-dasharray="1.6 1"/>
<circle cx="1351.6" cy="774.3" r="4.4" fill="none" stroke="#d42828" stroke-width="0.9" stroke-dasharray="1.6 1"/>
<circle cx="1353.8" cy="775.2" r="4.4" fill="none" stroke="#d42828" stroke-width="0.9" stroke-dasharray="1.6 1"/>
<circle cx="1355.9" cy="771.4" r="4.4" fill="none" stroke="#d42828" stroke-width="0.9" stroke-dasharray="1.6 1"/>
<circle cx="1358" cy="775.3" r="4.4" fill="none" stroke="#d42828" stroke-width="0.9" stroke-dasharray="1.6 1"/>
<circle cx="1360.2" cy="768" r="4.4" fill="none" stroke="#d42828" stroke-width="0.9" stroke-dasharray="1.6 1"/>
<circle cx="1362.3" cy="770.4" r="4.4" fill="none" stroke="#d42828" stroke-width="0.9" stroke-dasharray="1.6 1"/>
<circle cx="1364.4" cy="770.9" r="4.4" fill="none" stroke="#d42828" stroke-width="0.9" stroke-dasharray="1.6 1"/>
<circle cx="968.8" cy="699.6" r="4.4" fill="none" stroke="#d42828" stroke-width="0.9" stroke-dasharray="1.6 1"/>
<circle cx="965.7" cy="717.9" r="4.4" fill="none" stroke="#d42828" stroke-width="0.9" stroke-dasharray="1.6 1"/>
<circle cx="971.8" cy="721.7" r="4.4" fill="none" stroke="#d42828" stroke-width="0.9" stroke-dasharray="1.6 1"/>
<circle cx="973.3" cy="775.8" r="4.4" fill="none" stroke="#d42828" stroke-width="0.9" stroke-dasharray="1.6 1"/>
<circle cx="975.6" cy="815.5" r="4.4" fill="none" stroke="#d42828" stroke-width="0.9" stroke-dasharray="1.6 1"/>
<circle cx="977.2" cy="845.2" r="4.4" fill="none" stroke="#d42828" stroke-width="0.9" stroke-dasharray="1.6 1"/>
<circle cx="980.2" cy="871.1" r="4.4" fill="none" stroke="#d42828" stroke-width="0.9" stroke-dasharray="1.6 1"/>
<circle cx="981.7" cy="879.5" r="4.4" fill="none" stroke="#d42828" stroke-width="0.9" stroke-dasharray="1.6 1"/>
<circle cx="985.5" cy="893.2" r="4.4" fill="none" stroke="#d42828" stroke-width="0.9" stroke-dasharray="1.6 1"/>
<circle cx="988.6" cy="897.8" r="4.4" fill="none" stroke="#d42828" stroke-width="0.9" stroke-dasharray="1.6 1"/>
<circle cx="987.1" cy="910" r="4.4" fill="none" stroke="#d42828" stroke-width="0.9" stroke-dasharray="1.6 1"/>
<circle cx="964.2" cy="789.6" r="4.4" fill="none" stroke="#d42828" stroke-width="0.9" stroke-dasharray="1.6 1"/>
<circle cx="962.7" cy="858.1" r="4.4" fill="none" stroke="#d42828" stroke-width="0.9" stroke-dasharray="1.6 1"/>
<circle cx="958.9" cy="905.4" r="4.4" fill="none" stroke="#d42828" stroke-width="0.9" stroke-dasharray="1.6 1"/>
<circle cx="958.1" cy="938.9" r="4.4" fill="none" stroke="#d42828" stroke-width="0.9" stroke-dasharray="1.6 1"/>
<circle cx="956.6" cy="955.7" r="4.4" fill="none" stroke="#d42828" stroke-width="0.9" stroke-dasharray="1.6 1"/>
<circle cx="1007.6" cy="757.5" r="4.4" fill="none" stroke="#d42828" stroke-width="0.9" stroke-dasharray="1.6 1"/>
<circle cx="1004.6" cy="765.2" r="4.4" fill="none" stroke="#d42828" stroke-width="0.9" stroke-dasharray="1.6 1"/>
<circle cx="1014.5" cy="769.7" r="4.4" fill="none" stroke="#d42828" stroke-width="0.9" stroke-dasharray="1.6 1"/>
<circle cx="1002.3" cy="783.5" r="4.4" fill="none" stroke="#d42828" stroke-width="0.9" stroke-dasharray="1.6 1"/>
<circle cx="1016" cy="788" r="4.4" fill="none" stroke="#d42828" stroke-width="0.9" stroke-dasharray="1.6 1"/>
<circle cx="999.3" cy="812.4" r="4.4" fill="none" stroke="#d42828" stroke-width="0.9" stroke-dasharray="1.6 1"/>
<circle cx="1019.1" cy="809.4" r="4.4" fill="none" stroke="#d42828" stroke-width="0.9" stroke-dasharray="1.6 1"/>
<circle cx="1020.6" cy="821.6" r="4.4" fill="none" stroke="#d42828" stroke-width="0.9" stroke-dasharray="1.6 1"/>
<circle cx="997" cy="846" r="4.4" fill="none" stroke="#d42828" stroke-width="0.9" stroke-dasharray="1.6 1"/>
<circle cx="1023.6" cy="836.8" r="4.4" fill="none" stroke="#d42828" stroke-width="0.9" stroke-dasharray="1.6 1"/>
<circle cx="1025.2" cy="845.2" r="4.4" fill="none" stroke="#d42828" stroke-width="0.9" stroke-dasharray="1.6 1"/>
<circle cx="995.4" cy="865.8" r="4.4" fill="none" stroke="#d42828" stroke-width="0.9" stroke-dasharray="1.6 1"/>
<circle cx="1026.7" cy="853.6" r="4.4" fill="none" stroke="#d42828" stroke-width="0.9" stroke-dasharray="1.6 1"/>
<circle cx="1028.2" cy="861.2" r="4.4" fill="none" stroke="#d42828" stroke-width="0.9" stroke-dasharray="1.6 1"/>
<circle cx="994.7" cy="874.9" r="4.4" fill="none" stroke="#d42828" stroke-width="0.9" stroke-dasharray="1.6 1"/>
<circle cx="1031.3" cy="865.8" r="4.4" fill="none" stroke="#d42828" stroke-width="0.9" stroke-dasharray="1.6 1"/>
<circle cx="1035.8" cy="871.9" r="4.4" fill="none" stroke="#d42828" stroke-width="0.9" stroke-dasharray="1.6 1"/>
<circle cx="990.5" cy="893" r="4.4" fill="none" stroke="#d42828" stroke-width="0.9" stroke-dasharray="1.6 1"/>
<circle cx="992.5" cy="885" r="4.4" fill="none" stroke="#d42828" stroke-width="0.9" stroke-dasharray="1.6 1"/>
<circle cx="1033.5" cy="869" r="4.4" fill="none" stroke="#d42828" stroke-width="0.9" stroke-dasharray="1.6 1"/>
<circle cx="966.5" cy="735" r="4.4" fill="none" stroke="#d42828" stroke-width="0.9" stroke-dasharray="1.6 1"/>
<circle cx="960.5" cy="880" r="4.4" fill="none" stroke="#d42828" stroke-width="0.9" stroke-dasharray="1.6 1"/>
<circle cx="983.5" cy="887" r="4.4" fill="none" stroke="#d42828" stroke-width="0.9" stroke-dasharray="1.6 1"/>
<rect x="924.6" y="652.6" width="441.4" height="355.4" fill="none" stroke="#000" stroke-width="2.5"/>
<line x1="945.2" y1="1008" x2="945.2" y2="1014.5" stroke="#000" stroke-width="2.2" />
<text x="945.2" y="1027.9" font-size="10.2" text-anchor="middle" fill="#000" font-family="'Liberation Sans', sans-serif" font-weight="bold" >850</text>
<line x1="1051.6" y1="1008" x2="1051.6" y2="1014.5" stroke="#000" stroke-width="2.2" />
<text x="1051.6" y="1027.9" font-size="10.2" text-anchor="middle" fill="#000" font-family="'Liberation Sans', sans-serif" font-weight="bold" >860</text>
<line x1="1158" y1="1008" x2="1158" y2="1014.5" stroke="#000" stroke-width="2.2" />
<text x="1158" y="1027.9" font-size="10.2" text-anchor="middle" fill="#000" font-family="'Liberation Sans', sans-serif" font-weight="bold" >870</text>
<line x1="1264.4" y1="1008" x2="1264.4" y2="1014.5" stroke="#000" stroke-width="2.2" />
<text x="1264.4" y="1027.9" font-size="10.2" text-anchor="middle" fill="#000" font-family="'Liberation Sans', sans-serif" font-weight="bold" >880</text>
<line x1="998.4" y1="1008" x2="998.4" y2="1011.2" stroke="#000" stroke-width="2.2" />
<line x1="1104.8" y1="1008" x2="1104.8" y2="1011.2" stroke="#000" stroke-width="2.2" />
<line x1="1211.2" y1="1008" x2="1211.2" y2="1011.2" stroke="#000" stroke-width="2.2" />
<line x1="1317.6" y1="1008" x2="1317.6" y2="1011.2" stroke="#000" stroke-width="2.2" />
<text x="1146" y="1041.8" font-size="10" text-anchor="middle" fill="#000" font-family="'Liberation Sans', sans-serif" font-weight="bold" >Binding Energy/ eV</text>
<text x="918.8" y="830" font-size="10.2" text-anchor="middle" fill="#000" font-family="'Liberation Sans', sans-serif" font-weight="bold" transform="rotate(-90 918.8 830)">Intensity/ a.u.</text>
<text x="905.6" y="665.3" font-size="9.6" text-anchor="start" fill="#000" font-family="'Liberation Sans', sans-serif" font-weight="bold" >(d)</text>
<text x="973.9" y="682.1" font-size="10.8" text-anchor="middle" fill="#000" font-family="'Liberation Sans', sans-serif" font-weight="bold" >Ni 2p<tspan font-size="7.13" dy="2.6">3/2</tspan></text>
<text x="974.9" y="696.9" font-size="10.8" text-anchor="middle" fill="#000" font-family="'Liberation Sans', sans-serif" font-weight="bold" >852.30 eV</text>
<text x="1014.9" y="737" font-size="10.8" text-anchor="middle" fill="#000" font-family="'Liberation Sans', sans-serif" font-weight="bold" >Ni 2p<tspan font-size="7.13" dy="2.6">3/2</tspan></text>
<text x="1015.3" y="751" font-size="10.8" text-anchor="middle" fill="#000" font-family="'Liberation Sans', sans-serif" font-weight="bold" >855.96 eV</text>
<text x="1141.8" y="776" font-size="10.8" text-anchor="middle" fill="#000" font-family="'Liberation Sans', sans-serif" font-weight="bold" >Ni 2p<tspan font-size="7.13" dy="2.6">1/2</tspan></text>
<text x="1146" y="791.3" font-size="10.8" text-anchor="middle" fill="#000" font-family="'Liberation Sans', sans-serif" font-weight="bold" >869.72 eV</text>
<text x="1197" y="718.3" font-size="10.8" text-anchor="middle" fill="#000" font-family="'Liberation Sans', sans-serif" font-weight="bold" >Ni 2p<tspan font-size="7.13" dy="2.6">1/2</tspan></text>
<text x="1203.9" y="735.2" font-size="10.8" text-anchor="middle" fill="#000" font-family="'Liberation Sans', sans-serif" font-weight="bold" >873.70 eV</text>
<text x="1322.1" y="682.9" font-size="10" text-anchor="middle" fill="#000" font-family="'Liberation Sans', sans-serif" font-weight="bold" >Ni 2p</text>
<text x="1103.3" y="916.8" font-size="10.8" text-anchor="middle" fill="#000" font-family="'Liberation Sans', sans-serif" font-weight="bold" >Satellite peak</text>
<text x="1103.3" y="937.5" font-size="10.8" text-anchor="middle" fill="#000" font-family="'Liberation Sans', sans-serif" font-weight="bold" >861.70 eV</text>
<text x="1295.5" y="841" font-size="10.8" text-anchor="middle" fill="#000" font-family="'Liberation Sans', sans-serif" font-weight="bold" >Satellite peak</text>
<text x="1295.5" y="860.2" font-size="10.8" text-anchor="middle" fill="#000" font-family="'Liberation Sans', sans-serif" font-weight="bold" >880.00 eV</text>
<line x1="1078.6" y1="904.3" x2="1072" y2="877.1" stroke="#000" stroke-width="2.2" />
<path d="M1070.7 871.8 L1075.2 876.9 L1069 878.4 Z" fill="#000" stroke="none"/>
<line x1="1278.4" y1="824.2" x2="1271.1" y2="784.4" stroke="#000" stroke-width="2.2" />
<path d="M1270.1 779 L1274.3 784.3 L1268 785.5 Z" fill="#000" stroke="none"/>
<circle cx="1267.3" cy="936.6" r="4.2" fill="none" stroke="#d42828" stroke-width="0.9" stroke-dasharray="1.6 1"/>
<text x="1290.9" y="942.7" font-size="10" text-anchor="start" fill="#000" font-family="'Liberation Sans', sans-serif" font-weight="bold" >Experimental</text>
<line x1="1246.7" y1="964.1" x2="1288.6" y2="964.1" stroke="#f0a8f0" stroke-width="2.2" />
<text x="1290.9" y="970.2" font-size="10" text-anchor="start" fill="#000" font-family="'Liberation Sans', sans-serif" font-weight="bold" >Fit</text>
<line x1="1246.7" y1="991.5" x2="1288.6" y2="991.5" stroke="#141c9c" stroke-width="2.2" />
<text x="1290.9" y="997.6" font-size="10" text-anchor="start" fill="#000" font-family="'Liberation Sans', sans-serif" font-weight="bold" >Background</text>
<path d="M443.7 1372.9 L444.4 1372.9 L445.1 1372.8 L445.8 1372.7 L446.5 1372.6 L447.2 1372.6 L447.9 1372.5 L448.6 1372.4 L449.3 1372.3 L450 1372.3 L450.7 1372.2 L451.4 1372.1 L452.1 1372.1 L452.8 1372 L453.5 1371.9 L454.2 1371.8 L454.9 1371.8 L455.6 1371.7 L456.3 1371.6 L457 1371.5 L457.7 1371.5 L458.4 1371.4 L459.1 1371.3 L459.8 1371.3 L460.5 1371.2 L461.2 1371.1 L461.9 1371 L462.6 1371 L463.3 1370.9 L464 1370.8 L464.7 1370.7 L465.4 1370.7 L466.1 1370.6 L466.8 1370.5 L467.5 1370.5 L468.2 1370.4 L468.9 1370.3 L469.6 1370.2 L470.3 1370.2 L471 1370.1 L471.7 1370 L472.4 1369.9 L473.1 1369.9 L473.8 1369.8 L474.5 1369.7 L475.2 1369.6 L475.9 1369.6 L476.6 1369.5 L477.3 1369.4 L478 1369.4 L478.7 1369.3 L479.4 1369.2 L480.1 1369.1 L480.8 1369.1 L481.5 1369 L482.2 1368.9 L482.9 1368.8 L483.6 1368.8 L484.3 1368.7 L485 1368.6 L485.7 1368.6 L486.4 1368.5 L487.1 1368.4 L487.8 1368.3 L488.5 1368.3 L489.2 1368.2 L489.9 1368.1 L490.6 1368 L491.3 1368 L492 1367.9 L492.7 1367.8 L493.4 1367.8 L494.1 1367.7 L494.8 1367.6 L495.5 1367.5 L496.2 1367.5 L496.9 1367.4 L497.6 1367.3 L498.3 1367.2 L499 1367.2 L499.7 1367.1 L500.4 1367 L501.1 1367 L501.8 1366.9 L502.5 1366.8 L503.2 1366.7 L503.9 1366.7 L504.6 1366.6 L505.3 1366.5 L506 1366.4 L506.7 1366.4 L507.4 1366.3 L508.1 1366.2 L508.8 1366.2 L509.5 1366.1 L510.2 1366 L510.9 1365.9 L511.6 1365.9 L512.3 1365.8 L513 1365.7 L513.7 1365.6 L514.4 1365.6 L515.1 1365.5 L515.8 1365.4 L516.5 1365.4 L517.2 1365.3 L517.9 1365.2 L518.6 1365.1 L519.3 1365.1 L520 1365 L520.7 1364.9 L521.4 1364.8 L522.1 1364.8 L522.8 1364.7 L523.5 1364.6 L524.2 1364.5 L524.9 1364.5 L525.6 1364.4 L526.3 1364.3 L527 1364.3 L527.7 1364.2 L528.4 1364.1 L529.1 1364 L529.8 1364 L530.5 1363.9 L531.2 1363.8 L531.9 1363.7 L532.6 1363.7 L533.3 1363.6 L534 1363.5 L534.7 1363.5 L535.4 1363.4 L536.1 1363.3 L536.8 1363.2 L537.5 1363.2 L538.2 1363.1 L538.9 1363 L539.6 1362.9 L540.3 1362.9 L541 1362.8 L541.7 1362.7 L542.4 1362.7 L543.1 1362.6 L543.8 1362.5 L544.5 1362.4 L545.2 1362.4 L545.9 1362.3 L546.6 1362.2 L547.3 1362.1 L548 1362.1 L548.7 1362 L549.4 1361.9 L550.1 1361.9 L550.8 1361.8 L551.5 1361.7 L552.2 1361.6 L552.9 1361.6 L553.6 1361.5 L554.3 1361.4 L555 1361.3 L555.7 1361.3 L556.4 1361.2 L557.1 1361.1 L557.8 1361.1 L558.5 1361 L559.2 1360.9 L559.9 1360.8 L560.6 1360.8 L561.3 1360.7 L562 1360.6 L562.7 1360.5 L563.4 1360.5 L564.1 1360.4 L564.8 1360.3 L565.5 1360.3 L566.2 1360.2 L566.9 1360.1 L567.6 1360 L568.3 1360 L569 1359.9 L569.7 1359.8 L570.4 1359.7 L571.1 1359.7 L571.8 1359.6 L572.5 1359.5 L573.2 1359.4 L573.9 1359.4 L574.6 1359.3 L575.3 1359.2 L576 1359.2 L576.7 1359.1 L577.4 1359 L578.1 1358.9 L578.8 1358.9 L579.5 1358.8 L580.2 1358.7 L580.9 1358.6 L581.6 1358.6 L582.3 1358.5 L583 1358.4 L583.7 1358.4 L584.4 1358.3 L585.1 1358.2 L585.8 1358.1 L586.5 1358.1 L587.2 1358 L587.9 1357.9 L588.6 1357.8 L589.3 1357.8 L590 1357.7 L590.7 1357.6 L591.4 1357.6 L592.1 1357.5 L592.8 1357.4 L593.5 1357.3 L594.2 1357.3 L594.9 1357.2 L595.6 1357.1 L596.3 1357 L597 1357 L597.7 1356.9 L598.4 1356.8 L599.1 1356.8 L599.8 1356.7 L600.5 1356.6 L601.2 1356.5 L601.9 1356.5 L602.6 1356.4 L603.3 1356.3 L604 1356.2 L604.7 1356.2 L605.4 1356.1 L606.1 1356 L606.8 1356 L607.5 1355.9 L608.2 1355.8 L608.9 1355.7 L609.6 1355.7 L610.3 1355.6 L611 1355.5 L611.7 1355.4 L612.4 1355.4 L613.1 1355.3 L613.8 1355.2 L614.5 1355.2 L615.2 1355.1 L615.9 1355 L616.6 1354.9 L617.3 1354.9 L618 1354.8 L618.7 1354.7 L619.4 1354.6 L620.1 1354.6 L620.8 1354.5 L621.5 1354.4 L622.2 1354.4 L622.9 1354.3 L623.6 1354.2 L624.3 1354.1 L625 1354.1 L625.7 1354 L626.4 1353.9 L627.1 1353.8 L627.8 1353.8 L628.5 1353.7 L629.2 1353.6 L629.9 1353.5 L630.6 1353.5 L631.3 1353.4 L632 1353.3 L632.7 1353.3 L633.4 1353.2 L634.1 1353.1 L634.8 1353 L635.5 1353 L636.2 1352.9 L636.9 1352.8 L637.6 1352.7 L638.3 1352.7 L639 1352.6 L639.7 1352.5 L640.4 1352.5 L641.1 1352.4 L641.8 1352.3 L642.5 1352.2 L643.2 1352.2 L643.9 1352.1 L644.6 1352 L645.3 1351.9 L646 1351.9 L646.7 1351.8 L647.4 1351.7 L648.1 1351.7 L648.8 1351.6 L649.5 1351.5 L650.2 1351.4 L650.9 1351.4 L651.6 1351.3 L652.3 1351.2 L653 1351.1 L653.7 1351.1 L654.4 1351 L655.1 1350.9 L655.8 1350.9 L656.5 1350.8 L657.2 1350.7 L657.9 1350.6 L658.6 1350.6 L659.3 1350.5 L660 1350.4 L660.7 1350.3 L661.4 1350.3 L662.1 1350.2 L662.8 1350.1 L663.5 1350.1 L664.2 1350 L664.9 1349.9 L665.6 1349.8 L666.3 1349.8 L667 1349.7 L667.7 1349.6 L668.4 1349.5 L669.1 1349.5 L669.8 1349.4 L670.5 1349.3 L671.2 1349.3 L671.9 1349.2 L672.6 1349.1 L673.3 1349 L674 1349 L674.7 1348.9 L675.4 1348.8 L676.1 1348.7 L676.8 1348.7 L677.5 1348.6 L678.2 1348.5 L678.9 1348.4 L679.6 1348.4 L680.3 1348.3 L681 1348.2 L681.7 1348.2 L682.4 1348.1 L683.1 1348 L683.8 1347.9 L684.5 1347.9 L685.2 1347.8 L685.9 1347.7 L686.6 1347.6 L687.3 1347.6 L688 1347.5 L688.7 1347.4 L689.4 1347.4 L690.1 1347.3 L690.8 1347.2 L691.5 1347.1 L692.2 1347.1 L692.9 1347 L693.6 1346.9 L694.3 1346.8 L695 1346.8 L695.7 1346.7 L696.4 1346.6 L697.1 1346.6 L697.8 1346.5 L698.5 1346.4 L699.2 1346.3 L699.9 1346.3 L700.6 1346.2 L701.3 1346.1 L702 1346 L702.7 1346 L703.4 1345.9 L704.1 1345.8 L704.8 1345.8 L705.5 1345.7 L706.2 1345.6 L706.9 1345.5 L707.6 1345.5 L708.3 1345.4 L709 1345.3 L709.7 1345.2 L710.4 1345.2 L711.1 1345.1 L711.8 1345 L712.5 1345 L713.2 1344.9 L713.9 1344.8 L714.6 1344.7 L715.3 1344.7 L716 1344.6 L716.7 1344.5 L717.4 1344.4 L718.1 1344.4 L718.8 1344.3 L719.5 1344.2 L720.2 1344.2 L720.9 1344.1 L721.6 1344 L722.3 1343.9 L723 1343.9 L723.7 1343.8 L724.4 1343.7 L725.1 1343.6 L725.8 1343.6 L726.5 1343.5 L727.2 1343.4 L727.9 1343.3 L728.6 1343.3 L729.3 1343.2 L730 1343.1 L730.7 1343.1 L731.4 1343 L732.1 1342.9 L732.8 1342.8 L733.5 1342.8 L734.2 1342.7 L734.9 1342.6 L735.6 1342.5 L736.3 1342.5 L737 1342.4 L737.7 1342.3 L738.4 1342.3 L739.1 1342.2 L739.8 1342.1 L740.5 1342 L741.2 1342 L741.9 1341.9 L742.6 1341.8 L743.3 1341.7 L744 1341.7 L744.7 1341.6 L745.4 1341.5 L746.1 1341.5 L746.8 1341.4 L747.5 1341.3 L748.2 1341.2 L748.9 1341.2 L749.6 1341.1 L750.3 1341 L751 1340.9 L751.7 1340.9 L752.4 1340.8 L753.1 1340.7 L753.8 1340.7 L754.5 1340.6 L755.2 1340.5 L755.9 1340.4 L756.6 1340.4 L757.3 1340.3 L758 1340.2 L758.7 1340.1 L759.4 1340.1 L760.1 1340 L760.8 1339.9 L761.5 1339.9 L762.2 1339.8 L762.9 1339.7 L763.6 1339.6 L764.3 1339.6 L765 1339.5 L765.7 1339.4 L766.4 1339.3 L767.1 1339.3 L767.8 1339.2 L768.5 1339.1 L769.2 1339.1 L769.9 1339 L770.6 1338.9 L771.3 1338.8 L772 1338.8 L772.7 1338.7 L773.4 1338.6 L774.1 1338.5 L774.8 1338.5 L775.5 1338.4 L776.2 1338.3 L776.9 1338.3 L777.6 1338.2 L778.3 1338.1 L779 1338 L779.7 1338 L780.4 1337.9 L781.1 1337.8 L781.8 1337.7 L782.5 1337.7 L783.2 1337.6 L783.9 1337.5 L784.6 1337.4 L785.3 1337.4 L786 1337.3 L786.7 1337.2 L787.4 1337.2 L788.1 1337.1 L788.8 1337 L789.5 1336.9 L790.2 1336.9 L790.9 1336.8 L791.6 1336.7 L792.3 1336.6 L793 1336.6 L793.7 1336.5 L794.4 1336.4 L795.1 1336.4 L795.8 1336.3 L796.5 1336.2 L797.2 1336.1 L797.9 1336.1 L798.6 1336 L799.3 1335.9 L800 1335.8 L800.7 1335.8 L801.4 1335.7 L802.1 1335.6 L802.8 1335.6 L803.5 1335.5 L804.2 1335.4 L804.9 1335.3 L805.6 1335.3 L806.3 1335.2 L807 1335.1 L807.7 1335 L808.4 1335 L809.1 1334.9 L809.8 1334.8 L810.5 1334.8 L811.2 1334.7 L811.9 1334.6 L812.6 1334.5 L813.3 1334.5 L814 1334.4 L814.7 1334.3 L815.4 1334.2 L816.1 1334.2 L816.8 1334.1 L817.5 1334 L818.2 1334 L818.9 1333.9 L819.6 1333.8 L820.3 1333.7 L821 1333.7 L821.7 1333.6 L822.4 1333.5 L823.1 1333.4 L823.8 1333.4 L824.5 1333.3 L825.2 1333.2 L825.9 1333.2 L826.6 1333.1 L827.3 1333 L828 1332.9 L828.7 1332.9 L829.4 1332.8 L830.1 1332.7 L830.8 1332.6 L831.5 1332.6 L832.2 1332.5 L832.9 1332.4 L833.6 1332.3 L834.3 1332.3 L835 1332.2 L835.7 1332.1 L836.4 1332.1 L837.1 1332 L837.8 1331.9 L838.5 1331.8 L839.2 1331.8 L839.9 1331.7 L840.6 1331.6 L841.3 1331.5 L842 1331.5 L842.7 1331.4 L843.4 1331.3 L844.1 1331.3 L844.8 1331.2 L845.5 1331.1 L846.2 1331 L846.9 1331 L847.6 1330.9 L848.3 1330.8 L849 1330.7 L849.7 1330.7 L850.4 1330.6 L851.1 1330.5 L851.8 1330.5 L852.5 1330.4 L853.2 1330.3 L853.9 1330.2 L854.6 1330.2 L855.3 1330.1 L856 1330 L856.7 1329.9 L857.4 1329.9 L858.1 1329.8 L858.8 1329.7 L859.5 1329.7 L860.2 1329.6 L860.9 1329.5 L861.6 1329.4 L862.3 1329.4 L863 1329.3 L863.7 1329.2 L864.4 1329.1 L865.1 1329.1 L865.8 1329 L866.5 1328.9 L867.2 1328.9 L867.9 1328.8 L868.6 1328.7 L869.3 1328.6 L870 1328.6 L870.7 1328.5 L871.4 1328.4 L872.1 1328.3 L872.8 1328.3 L873.5 1328.2 L874.2 1328.1 L874.9 1328.1 L875.6 1328 L876.3 1327.9 L877 1327.8 L877.7 1327.8 L878.4 1327.7 L879.1 1327.6 L879.8 1327.5 L880.5 1327.5 L881.2 1327.4 L881.9 1327.3 L882.6 1327.2 L883.3 1327.2 L883.3 1337.6 L882.6 1337.7 L881.9 1337.9 L881.2 1338 L880.5 1338.1 L879.8 1338.2 L879.1 1338.3 L878.4 1338.4 L877.7 1338.6 L877 1338.7 L876.3 1338.8 L875.6 1338.9 L874.9 1339 L874.2 1339.2 L873.5 1339.3 L872.8 1339.4 L872.1 1339.5 L871.4 1339.6 L870.7 1339.8 L870 1339.9 L869.3 1340 L868.6 1340.1 L867.9 1340.2 L867.2 1340.3 L866.5 1340.5 L865.8 1340.6 L865.1 1340.7 L864.4 1340.8 L863.7 1340.9 L863 1341.1 L862.3 1341.2 L861.6 1341.3 L860.9 1341.4 L860.2 1341.5 L859.5 1341.6 L858.8 1341.8 L858.1 1341.9 L857.4 1342 L856.7 1342.1 L856 1342.2 L855.3 1342.4 L854.6 1342.5 L853.9 1342.6 L853.2 1342.7 L852.5 1342.8 L851.8 1343 L851.1 1343.1 L850.4 1343.2 L849.7 1343.3 L849 1343.4 L848.3 1343.5 L847.6 1343.7 L846.9 1343.8 L846.2 1343.9 L845.5 1344 L844.8 1344.1 L844.1 1344.3 L843.4 1344.4 L842.7 1344.5 L842 1344.6 L841.3 1344.7 L840.6 1344.8 L839.9 1345 L839.2 1345.1 L838.5 1345.2 L837.8 1345.3 L837.1 1345.4 L836.4 1345.6 L835.7 1345.7 L835 1345.8 L834.3 1345.9 L833.6 1346 L832.9 1346.2 L832.2 1346.3 L831.5 1346.4 L830.8 1346.5 L830.1 1346.6 L829.4 1346.7 L828.7 1346.9 L828 1347 L827.3 1347.1 L826.6 1347.2 L825.9 1347.3 L825.2 1347.5 L824.5 1347.6 L823.8 1347.7 L823.1 1347.8 L822.4 1347.9 L821.7 1348 L821 1348 L820.3 1347.9 L819.6 1347.9 L818.9 1347.9 L818.2 1347.8 L817.5 1347.8 L816.8 1347.8 L816.1 1347.8 L815.4 1347.7 L814.7 1347.7 L814 1347.7 L813.3 1347.7 L812.6 1347.6 L811.9 1347.6 L811.2 1347.3 L810.5 1347.1 L809.8 1346.8 L809.1 1346.6 L808.4 1346.3 L807.7 1346.1 L807 1345.8 L806.3 1345.6 L805.6 1345.4 L804.9 1345.1 L804.2 1344.9 L803.5 1344.6 L802.8 1344.4 L802.1 1344.2 L801.4 1343.9 L800.7 1343.7 L800 1343.5 L799.3 1343.2 L798.6 1343 L797.9 1342.8 L797.2 1342.9 L796.5 1343 L795.8 1343.1 L795.1 1343.2 L794.4 1343.3 L793.7 1343.4 L793 1343.5 L792.3 1343.7 L791.6 1343.8 L790.9 1343.9 L790.2 1344 L789.5 1344.1 L788.8 1344.2 L788.1 1344.3 L787.4 1344.4 L786.7 1344.5 L786 1344.6 L785.3 1344.7 L784.6 1344.8 L783.9 1344.9 L783.2 1345 L782.5 1345.1 L781.8 1345.2 L781.1 1345.3 L780.4 1345.4 L779.7 1345.5 L779 1345.6 L778.3 1345.7 L777.6 1345.8 L776.9 1345.9 L776.2 1346 L775.5 1346.1 L774.8 1346.2 L774.1 1346.3 L773.4 1346.4 L772.7 1346.5 L772 1346.6 L771.3 1346.7 L770.6 1346.8 L769.9 1346.9 L769.2 1347 L768.5 1347.1 L767.8 1347.2 L767.1 1347.3 L766.4 1347.4 L765.7 1347.5 L765 1347.6 L764.3 1347.7 L763.6 1347.8 L762.9 1347.9 L762.2 1348 L761.5 1348.1 L760.8 1348.2 L760.1 1348.3 L759.4 1348.4 L758.7 1348.5 L758 1348.6 L757.3 1348.7 L756.6 1348.8 L755.9 1348.9 L755.2 1349 L754.5 1349.1 L753.8 1349.2 L753.1 1349.3 L752.4 1349.4 L751.7 1349.5 L751 1349.6 L750.3 1349.7 L749.6 1349.8 L748.9 1349.9 L748.2 1350 L747.5 1350.1 L746.8 1350.2 L746.1 1350.3 L745.4 1350.4 L744.7 1350.5 L744 1350.6 L743.3 1350.7 L742.6 1350.8 L741.9 1350.9 L741.2 1351 L740.5 1351.1 L739.8 1351.2 L739.1 1351.3 L738.4 1351.4 L737.7 1351.5 L737 1351.6 L736.3 1351.7 L735.6 1351.8 L734.9 1351.9 L734.2 1352 L733.5 1352.1 L732.8 1352.2 L732.1 1352.3 L731.4 1352.4 L730.7 1352.5 L730 1352.6 L729.3 1352.7 L728.6 1352.8 L727.9 1352.9 L727.2 1353 L726.5 1353.1 L725.8 1353.2 L725.1 1353.3 L724.4 1353.4 L723.7 1353.5 L723 1353.6 L722.3 1353.7 L721.6 1353.8 L720.9 1353.9 L720.2 1354 L719.5 1354.1 L718.8 1354.2 L718.1 1354.3 L717.4 1354.4 L716.7 1354.5 L716 1354.6 L715.3 1354.7 L714.6 1354.8 L713.9 1354.9 L713.2 1355 L712.5 1355.1 L711.8 1355.2 L711.1 1355.3 L710.4 1355.4 L709.7 1355.5 L709 1355.6 L708.3 1355.7 L707.6 1355.8 L706.9 1355.9 L706.2 1356 L705.5 1356.1 L704.8 1356.2 L704.1 1356.3 L703.4 1356.4 L702.7 1356.5 L702 1356.6 L701.3 1356.7 L700.6 1356.8 L699.9 1356.9 L699.2 1357 L698.5 1357.1 L697.8 1357.2 L697.1 1357.3 L696.4 1357.4 L695.7 1357.5 L695 1357.6 L694.3 1357.7 L693.6 1357.8 L692.9 1357.9 L692.2 1358 L691.5 1358.1 L690.8 1358.2 L690.1 1358.3 L689.4 1358.4 L688.7 1358.5 L688 1358.6 L687.3 1358.7 L686.6 1358.8 L685.9 1358.9 L685.2 1359 L684.5 1359.1 L683.8 1359.2 L683.1 1359.3 L682.4 1359.4 L681.7 1359.5 L681 1359.6 L680.3 1359.7 L679.6 1359.8 L678.9 1359.9 L678.2 1360 L677.5 1360.2 L676.8 1360.3 L676.1 1360.4 L675.4 1360.5 L674.7 1360.6 L674 1360.7 L673.3 1360.8 L672.6 1360.9 L671.9 1361 L671.2 1361.1 L670.5 1361.2 L669.8 1361.3 L669.1 1361.4 L668.4 1361.5 L667.7 1361.6 L667 1361.7 L666.3 1361.8 L665.6 1361.9 L664.9 1362 L664.2 1362.1 L663.5 1362.2 L662.8 1362.3 L662.1 1362.4 L661.4 1362.5 L660.7 1362.6 L660 1362.7 L659.3 1362.8 L658.6 1362.9 L657.9 1363 L657.2 1363.1 L656.5 1363.2 L655.8 1363.3 L655.1 1363.4 L654.4 1363.5 L653.7 1363.6 L653 1363.7 L652.3 1363.8 L651.6 1363.9 L650.9 1364 L650.2 1364.1 L649.5 1364.2 L648.8 1364.3 L648.1 1364.4 L647.4 1364.5 L646.7 1364.6 L646 1364.7 L645.3 1364.8 L644.6 1364.9 L643.9 1365 L643.2 1365.1 L642.5 1365.2 L641.8 1365.3 L641.1 1365.4 L640.4 1365.5 L639.7 1365.6 L639 1365.7 L638.3 1365.8 L637.6 1365.9 L636.9 1366 L636.2 1366.1 L635.5 1366.2 L634.8 1366.3 L634.1 1366.4 L633.4 1366.5 L632.7 1366.6 L632 1366.7 L631.3 1366.8 L630.6 1366.9 L629.9 1367 L629.2 1367.1 L628.5 1367.2 L627.8 1367.3 L627.1 1367.4 L626.4 1367.5 L625.7 1367.6 L625 1367.7 L624.3 1367.8 L623.6 1367.9 L622.9 1368 L622.2 1368.1 L621.5 1368.2 L620.8 1368.3 L620.1 1368.4 L619.4 1368.5 L618.7 1368.6 L618 1368.7 L617.3 1368.8 L616.6 1368.9 L615.9 1369 L615.2 1369.1 L614.5 1369.2 L613.8 1369.3 L613.1 1369.4 L612.4 1369.5 L611.7 1369.6 L611 1369.7 L610.3 1369.8 L609.6 1369.9 L608.9 1370 L608.2 1370.1 L607.5 1370.2 L606.8 1370.3 L606.1 1370.4 L605.4 1370.5 L604.7 1370.6 L604 1370.7 L603.3 1370.8 L602.6 1370.9 L601.9 1371 L601.2 1371.1 L600.5 1371.2 L599.8 1371.3 L599.1 1371.4 L598.4 1371.5 L597.7 1371.6 L597 1371.7 L596.3 1371.8 L595.6 1371.9 L594.9 1372 L594.2 1372.1 L593.5 1372.2 L592.8 1372.3 L592.1 1372.4 L591.4 1372.5 L590.7 1372.6 L590 1372.7 L589.3 1372.8 L588.6 1372.9 L587.9 1373 L587.2 1373.1 L586.5 1373.2 L585.8 1373.3 L585.1 1373.4 L584.4 1373.5 L583.7 1373.6 L583 1373.7 L582.3 1373.8 L581.6 1373.9 L580.9 1374 L580.2 1374.1 L579.5 1374.2 L578.8 1374.3 L578.1 1374.4 L577.4 1374.5 L576.7 1374.6 L576 1374.7 L575.3 1374.8 L574.6 1374.9 L573.9 1375 L573.2 1375.1 L572.5 1375.2 L571.8 1375.3 L571.1 1375.4 L570.4 1375.5 L569.7 1375.6 L569 1375.7 L568.3 1375.8 L567.6 1375.9 L566.9 1376 L566.2 1376.1 L565.5 1376.2 L564.8 1376.3 L564.1 1376.3 L563.4 1376.3 L562.7 1376.3 L562 1376.3 L561.3 1376.4 L560.6 1376.4 L559.9 1376.4 L559.2 1376.4 L558.5 1376.4 L557.8 1376.4 L557.1 1376.4 L556.4 1376.4 L555.7 1376.4 L555 1376.5 L554.3 1376.5 L553.6 1376.5 L552.9 1376.5 L552.2 1376.5 L551.5 1376.4 L550.8 1376.3 L550.1 1376.2 L549.4 1376.1 L548.7 1376 L548 1375.8 L547.3 1375.7 L546.6 1375.6 L545.9 1375.5 L545.2 1375.4 L544.5 1375.2 L543.8 1375.1 L543.1 1375 L542.4 1374.9 L541.7 1374.8 L541 1374.7 L540.3 1374.5 L539.6 1374.3 L538.9 1374 L538.2 1373.6 L537.5 1373.2 L536.8 1372.9 L536.1 1372.5 L535.4 1372.2 L534.7 1371.8 L534 1371.5 L533.3 1371.2 L532.6 1370.8 L531.9 1370.4 L531.2 1369.8 L530.5 1369.2 L529.8 1368.7 L529.1 1368.1 L528.4 1367.5 L527.7 1366.9 L527 1366.3 L526.3 1365.8 L525.6 1365.2 L524.9 1364.7 L524.2 1364.2 L523.5 1363.6 L522.8 1363.1 L522.1 1362.6 L521.4 1362 L520.7 1361.5 L520 1361 L519.3 1360.9 L518.6 1360.8 L517.9 1360.7 L517.2 1360.6 L516.5 1360.5 L515.8 1360.4 L515.1 1360.3 L514.4 1360.2 L513.7 1360.1 L513 1360 L512.3 1359.8 L511.6 1359.8 L510.9 1359.9 L510.2 1360 L509.5 1360.1 L508.8 1360.2 L508.1 1360.3 L507.4 1360.4 L506.7 1360.4 L506 1360.5 L505.3 1360.6 L504.6 1360.7 L503.9 1360.8 L503.2 1360.9 L502.5 1361 L501.8 1361 L501.1 1361.1 L500.4 1361.2 L499.7 1361.3 L499 1361.4 L498.3 1361.5 L497.6 1361.6 L496.9 1361.8 L496.2 1362 L495.5 1362.1 L494.8 1362.3 L494.1 1362.5 L493.4 1362.7 L492.7 1362.8 L492 1363 L491.3 1363.2 L490.6 1363.3 L489.9 1363.5 L489.2 1363.7 L488.5 1363.9 L487.8 1364 L487.1 1364.2 L486.4 1364.4 L485.7 1364.6 L485 1364.8 L484.3 1364.9 L483.6 1365.1 L482.9 1365.3 L482.2 1365.5 L481.5 1365.6 L480.8 1365.8 L480.1 1366 L479.4 1366.2 L478.7 1366.3 L478 1366.5 L477.3 1366.7 L476.6 1366.8 L475.9 1367 L475.2 1367.2 L474.5 1367.4 L473.8 1367.5 L473.1 1367.7 L472.4 1367.9 L471.7 1368.1 L471 1368.2 L470.3 1368.4 L469.6 1368.6 L468.9 1368.7 L468.2 1368.8 L467.5 1369 L466.8 1369.1 L466.1 1369.2 L465.4 1369.4 L464.7 1369.5 L464 1369.6 L463.3 1369.8 L462.6 1369.9 L461.9 1370 L461.2 1370.2 L460.5 1370.3 L459.8 1370.4 L459.1 1370.6 L458.4 1370.7 L457.7 1370.8 L457 1371 L456.3 1371.1 L455.6 1371.2 L454.9 1371.3 L454.2 1371.5 L453.5 1371.6 L452.8 1371.7 L452.1 1371.9 L451.4 1372 L450.7 1372.1 L450 1372.3 L449.3 1372.4 L448.6 1372.5 L447.9 1372.7 L447.2 1372.8 L446.5 1372.9 L445.8 1373.1 L445.1 1373.2 L444.4 1373.3 L443.7 1373.5 Z" fill="#aaa8f2" stroke="none"/>
<path d="M521.4 1364.8 L522.1 1364.8 L522.8 1364.7 L523.5 1364.6 L524.2 1364.5 L524.9 1364.5 L525.6 1364.4 L526.3 1364.3 L527 1364.3 L527.7 1364.2 L528.4 1364.1 L529.1 1364 L529.8 1364 L530.5 1363.9 L531.2 1363.8 L531.9 1363.7 L532.6 1363.7 L533.3 1363.6 L534 1363.5 L534.7 1363.5 L535.4 1363.4 L536.1 1363.3 L536.8 1363.2 L537.5 1363.2 L538.2 1363.1 L538.9 1363 L539.6 1362.9 L540.3 1362.9 L541 1362.8 L541.7 1362.7 L542.4 1362.7 L543.1 1362.6 L543.8 1362.5 L544.5 1362.4 L545.2 1362.4 L545.9 1362.3 L546.6 1362.2 L547.3 1362.1 L548 1362.1 L548.7 1362 L549.4 1361.9 L550.1 1361.9 L550.8 1361.8 L551.5 1361.7 L552.2 1361.6 L552.9 1361.6 L553.6 1361.5 L554.3 1361.4 L555 1361.3 L555.7 1361.3 L555.7 1376.4 L555 1376.5 L554.3 1376.5 L553.6 1376.5 L552.9 1376.5 L552.2 1376.5 L551.5 1376.4 L550.8 1376.3 L550.1 1376.2 L549.4 1376.1 L548.7 1376 L548 1375.8 L547.3 1375.7 L546.6 1375.6 L545.9 1375.5 L545.2 1375.4 L544.5 1375.2 L543.8 1375.1 L543.1 1375 L542.4 1374.9 L541.7 1374.8 L541 1374.7 L540.3 1374.5 L539.6 1374.3 L538.9 1374 L538.2 1373.6 L537.5 1373.2 L536.8 1372.9 L536.1 1372.5 L535.4 1372.2 L534.7 1371.8 L534 1371.5 L533.3 1371.2 L532.6 1370.8 L531.9 1370.4 L531.2 1369.8 L530.5 1369.2 L529.8 1368.7 L529.1 1368.1 L528.4 1367.5 L527.7 1366.9 L527 1366.3 L526.3 1365.8 L525.6 1365.2 L524.9 1364.7 L524.2 1364.2 L523.5 1363.6 L522.8 1363.1 L522.1 1362.6 L521.4 1362 Z" fill="#e8bcf2" stroke="none"/>
<path d="M752.4 1340.8 L753.1 1340.7 L753.8 1340.7 L754.5 1340.6 L755.2 1340.5 L755.9 1340.4 L756.6 1340.4 L757.3 1340.3 L758 1340.2 L758.7 1340.1 L759.4 1340.1 L760.1 1340 L760.8 1339.9 L761.5 1339.9 L762.2 1339.8 L762.9 1339.7 L763.6 1339.6 L764.3 1339.6 L765 1339.5 L765.7 1339.4 L766.4 1339.3 L767.1 1339.3 L767.8 1339.2 L768.5 1339.1 L769.2 1339.1 L769.9 1339 L770.6 1338.9 L771.3 1338.8 L772 1338.8 L772.7 1338.7 L773.4 1338.6 L774.1 1338.5 L774.8 1338.5 L775.5 1338.4 L776.2 1338.3 L776.9 1338.3 L777.6 1338.2 L778.3 1338.1 L779 1338 L779.7 1338 L780.4 1337.9 L781.1 1337.8 L781.8 1337.7 L782.5 1337.7 L783.2 1337.6 L783.9 1337.5 L784.6 1337.4 L785.3 1337.4 L786 1337.3 L786.7 1337.2 L787.4 1337.2 L788.1 1337.1 L788.8 1337 L789.5 1336.9 L790.2 1336.9 L790.9 1336.8 L791.6 1336.7 L792.3 1336.6 L793 1336.6 L793.7 1336.5 L794.4 1336.4 L795.1 1336.4 L795.8 1336.3 L796.5 1336.2 L797.2 1336.1 L797.9 1336.1 L798.6 1336 L799.3 1335.9 L800 1335.8 L800.7 1335.8 L801.4 1335.7 L802.1 1335.6 L802.8 1335.6 L803.5 1335.5 L804.2 1335.4 L804.9 1335.3 L805.6 1335.3 L806.3 1335.2 L807 1335.1 L807.7 1335 L808.4 1335 L809.1 1334.9 L809.8 1334.8 L810.5 1334.8 L811.2 1334.7 L811.9 1334.6 L812.6 1334.5 L813.3 1334.5 L814 1334.4 L814.7 1334.3 L815.4 1334.2 L816.1 1334.2 L816.8 1334.1 L817.5 1334 L818.2 1334 L818.9 1333.9 L819.6 1333.8 L820.3 1333.7 L821 1333.7 L821.7 1333.6 L822.4 1333.5 L823.1 1333.4 L823.8 1333.4 L824.5 1333.3 L825.2 1333.2 L825.9 1333.2 L826.6 1333.1 L827.3 1333 L828 1332.9 L828.7 1332.9 L829.4 1332.8 L830.1 1332.7 L830.8 1332.6 L831.5 1332.6 L832.2 1332.5 L832.9 1332.4 L833.6 1332.3 L834.3 1332.3 L835 1332.2 L835.7 1332.1 L836.4 1332.1 L837.1 1332 L837.8 1331.9 L838.5 1331.8 L839.2 1331.8 L839.9 1331.7 L840.6 1331.6 L841.3 1331.5 L842 1331.5 L842.7 1331.4 L843.4 1331.3 L844.1 1331.3 L844.8 1331.2 L844.8 1344.1 L844.1 1344.3 L843.4 1344.4 L842.7 1344.5 L842 1344.6 L841.3 1344.7 L840.6 1344.8 L839.9 1345 L839.2 1345.1 L838.5 1345.2 L837.8 1345.3 L837.1 1345.4 L836.4 1345.6 L835.7 1345.7 L835 1345.8 L834.3 1345.9 L833.6 1346 L832.9 1346.2 L832.2 1346.3 L831.5 1346.4 L830.8 1346.5 L830.1 1346.6 L829.4 1346.7 L828.7 1346.9 L828 1347 L827.3 1347.1 L826.6 1347.2 L825.9 1347.3 L825.2 1347.5 L824.5 1347.6 L823.8 1347.7 L823.1 1347.8 L822.4 1347.9 L821.7 1348 L821 1348 L820.3 1347.9 L819.6 1347.9 L818.9 1347.9 L818.2 1347.8 L817.5 1347.8 L816.8 1347.8 L816.1 1347.8 L815.4 1347.7 L814.7 1347.7 L814 1347.7 L813.3 1347.7 L812.6 1347.6 L811.9 1347.6 L811.2 1347.3 L810.5 1347.1 L809.8 1346.8 L809.1 1346.6 L808.4 1346.3 L807.7 1346.1 L807 1345.8 L806.3 1345.6 L805.6 1345.4 L804.9 1345.1 L804.2 1344.9 L803.5 1344.6 L802.8 1344.4 L802.1 1344.2 L801.4 1343.9 L800.7 1343.7 L800 1343.5 L799.3 1343.2 L798.6 1343 L797.9 1342.8 L797.2 1342.9 L796.5 1343 L795.8 1343.1 L795.1 1343.2 L794.4 1343.3 L793.7 1343.4 L793 1343.5 L792.3 1343.7 L791.6 1343.8 L790.9 1343.9 L790.2 1344 L789.5 1344.1 L788.8 1344.2 L788.1 1344.3 L787.4 1344.4 L786.7 1344.5 L786 1344.6 L785.3 1344.7 L784.6 1344.8 L783.9 1344.9 L783.2 1345 L782.5 1345.1 L781.8 1345.2 L781.1 1345.3 L780.4 1345.4 L779.7 1345.5 L779 1345.6 L778.3 1345.7 L777.6 1345.8 L776.9 1345.9 L776.2 1346 L775.5 1346.1 L774.8 1346.2 L774.1 1346.3 L773.4 1346.4 L772.7 1346.5 L772 1346.6 L771.3 1346.7 L770.6 1346.8 L769.9 1346.9 L769.2 1347 L768.5 1347.1 L767.8 1347.2 L767.1 1347.3 L766.4 1347.4 L765.7 1347.5 L765 1347.6 L764.3 1347.7 L763.6 1347.8 L762.9 1347.9 L762.2 1348 L761.5 1348.1 L760.8 1348.2 L760.1 1348.3 L759.4 1348.4 L758.7 1348.5 L758 1348.6 L757.3 1348.7 L756.6 1348.8 L755.9 1348.9 L755.2 1349 L754.5 1349.1 L753.8 1349.2 L753.1 1349.3 L752.4 1349.4 Z" fill="#dcbcf4" stroke="none"/>
<path d="M470.3 1369.2 L471 1369.1 L471.7 1369 L472.4 1368.9 L473.1 1368.8 L473.8 1368.7 L474.5 1368.6 L475.2 1368.5 L475.9 1368.4 L476.6 1368.3 L477.3 1368.2 L478 1368.1 L478.7 1367.9 L479.4 1367.8 L480.1 1367.7 L480.8 1367.6 L481.5 1367.5 L482.2 1367.3 L482.9 1367.2 L483.6 1367.1 L484.3 1366.9 L485 1366.8 L485.7 1366.6 L486.4 1366.4 L487.1 1366.3 L487.8 1366.1 L488.5 1365.8 L489.2 1365.6 L489.9 1365.3 L490.6 1365 L491.3 1364.7 L492 1364.3 L492.7 1363.8 L493.4 1363.3 L494.1 1362.7 L494.8 1362 L495.5 1361.2 L496.2 1360.3 L496.9 1359.2 L497.6 1358 L498.3 1356.6 L499 1355 L499.7 1353.1 L500.4 1351 L501.1 1348.6 L501.8 1345.9 L502.5 1342.9 L503.2 1339.5 L503.9 1335.7 L504.6 1331.5 L505.3 1326.8 L506 1321.6 L506.7 1316 L507.4 1309.8 L508.1 1303.2 L508.8 1296 L509.5 1288.3 L510.2 1280.1 L510.9 1271.5 L511.6 1262.4 L512.3 1252.8 L513 1242.9 L513.7 1232.7 L514.4 1222.3 L515.1 1211.7 L515.8 1201 L516.5 1190.3 L517.2 1179.7 L517.9 1169.4 L518.6 1159.3 L519.3 1149.7 L520 1140.6 L520.7 1132.2 L521.4 1124.6 L522.1 1117.8 L522.8 1112 L523.5 1107.3 L524.2 1103.7 L524.9 1101.2 L525.6 1100 L526.3 1100 L527 1101.3 L527.7 1103.8 L528.4 1107.4 L529.1 1112.1 L529.8 1117.9 L530.5 1124.7 L531.2 1132.3 L531.9 1140.7 L532.6 1149.7 L533.3 1159.2 L534 1169.1 L534.7 1179.4 L535.4 1189.8 L536.1 1200.4 L536.8 1210.9 L537.5 1221.4 L538.2 1231.6 L538.9 1241.7 L539.6 1251.4 L540.3 1260.7 L541 1269.6 L541.7 1278 L542.4 1286 L543.1 1293.5 L543.8 1300.4 L544.5 1306.9 L545.2 1312.8 L545.9 1318.2 L546.6 1323.2 L547.3 1327.6 L548 1331.7 L548.7 1335.3 L549.4 1338.5 L550.1 1341.3 L550.8 1343.8 L551.5 1346 L552.2 1347.9 L552.9 1349.6 L553.6 1351 L554.3 1352.3 L555 1353.3 L555.7 1354.2 L556.4 1355 L557.1 1355.6 L557.8 1356.1 L558.5 1356.6 L559.2 1356.9 L559.9 1357.2 L560.6 1357.5 L561.3 1357.7 L562 1357.8 L562.7 1358 L563.4 1358.1 L564.1 1358.1 L564.8 1358.2 L565.5 1358.2 L566.2 1358.3 L566.9 1358.3 L567.6 1358.3 L568.3 1358.3 L569 1358.3 L569.7 1358.2 L570.4 1358.2 L571.1 1358.2 L571.8 1358.2 L572.5 1358.1 L573.2 1358.1 L573.9 1358.1 L574.6 1358 L575.3 1358 L576 1358 L576.7 1357.9 L577.4 1357.9 L578.1 1357.8 L578.8 1357.8 L579.5 1357.7 L580.2 1357.7 L580.9 1357.6 L581.6 1357.6 L582.3 1357.6 L583 1357.5 L583.7 1357.4 L584.4 1357.4 L584.4 1358.3 L583.7 1358.4 L583 1358.4 L582.3 1358.5 L581.6 1358.6 L580.9 1358.6 L580.2 1358.7 L579.5 1358.8 L578.8 1358.9 L578.1 1358.9 L577.4 1359 L576.7 1359.1 L576 1359.2 L575.3 1359.2 L574.6 1359.3 L573.9 1359.4 L573.2 1359.4 L572.5 1359.5 L571.8 1359.6 L571.1 1359.7 L570.4 1359.7 L569.7 1359.8 L569 1359.9 L568.3 1360 L567.6 1360 L566.9 1360.1 L566.2 1360.2 L565.5 1360.3 L564.8 1360.3 L564.1 1360.4 L563.4 1360.5 L562.7 1360.5 L562 1360.6 L561.3 1360.7 L560.6 1360.8 L559.9 1360.8 L559.2 1360.9 L558.5 1361 L557.8 1361.1 L557.1 1361.1 L556.4 1361.2 L555.7 1361.3 L555 1361.3 L554.3 1361.4 L553.6 1361.5 L552.9 1361.6 L552.2 1361.6 L551.5 1361.7 L550.8 1361.8 L550.1 1361.9 L549.4 1361.9 L548.7 1362 L548 1362.1 L547.3 1362.1 L546.6 1362.2 L545.9 1362.3 L545.2 1362.4 L544.5 1362.4 L543.8 1362.5 L543.1 1362.6 L542.4 1362.7 L541.7 1362.7 L541 1362.8 L540.3 1362.9 L539.6 1362.9 L538.9 1363 L538.2 1363.1 L537.5 1363.2 L536.8 1363.2 L536.1 1363.3 L535.4 1363.4 L534.7 1363.5 L534 1363.5 L533.3 1363.6 L532.6 1363.7 L531.9 1363.7 L531.2 1363.8 L530.5 1363.9 L529.8 1364 L529.1 1364 L528.4 1364.1 L527.7 1364.2 L527 1364.3 L526.3 1364.3 L525.6 1364.4 L524.9 1364.5 L524.2 1364.5 L523.5 1364.6 L522.8 1364.7 L522.1 1364.8 L521.4 1364.8 L520.7 1364.9 L520 1365 L519.3 1365.1 L518.6 1365.1 L517.9 1365.2 L517.2 1365.3 L516.5 1365.4 L515.8 1365.4 L515.1 1365.5 L514.4 1365.6 L513.7 1365.6 L513 1365.7 L512.3 1365.8 L511.6 1365.9 L510.9 1365.9 L510.2 1366 L509.5 1366.1 L508.8 1366.2 L508.1 1366.2 L507.4 1366.3 L506.7 1366.4 L506 1366.4 L505.3 1366.5 L504.6 1366.6 L503.9 1366.7 L503.2 1366.7 L502.5 1366.8 L501.8 1366.9 L501.1 1367 L500.4 1367 L499.7 1367.1 L499 1367.2 L498.3 1367.2 L497.6 1367.3 L496.9 1367.4 L496.2 1367.5 L495.5 1367.5 L494.8 1367.6 L494.1 1367.7 L493.4 1367.8 L492.7 1367.8 L492 1367.9 L491.3 1368 L490.6 1368 L489.9 1368.1 L489.2 1368.2 L488.5 1368.3 L487.8 1368.3 L487.1 1368.4 L486.4 1368.5 L485.7 1368.6 L485 1368.6 L484.3 1368.7 L483.6 1368.8 L482.9 1368.8 L482.2 1368.9 L481.5 1369 L480.8 1369.1 L480.1 1369.1 L479.4 1369.2 L478.7 1369.3 L478 1369.4 L477.3 1369.4 L476.6 1369.5 L475.9 1369.6 L475.2 1369.6 L474.5 1369.7 L473.8 1369.8 L473.1 1369.9 L472.4 1369.9 L471.7 1370 L471 1370.1 L470.3 1370.2 Z" fill="#a2a6f4" stroke="none"/>
<path d="M735.6 1341 L736.3 1340.9 L737 1340.8 L737.7 1340.7 L738.4 1340.6 L739.1 1340.5 L739.8 1340.4 L740.5 1340.3 L741.2 1340.2 L741.9 1340.1 L742.6 1340 L743.3 1339.8 L744 1339.7 L744.7 1339.6 L745.4 1339.5 L746.1 1339.4 L746.8 1339.2 L747.5 1339.1 L748.2 1339 L748.9 1338.8 L749.6 1338.7 L750.3 1338.6 L751 1338.4 L751.7 1338.3 L752.4 1338.2 L753.1 1338 L753.8 1337.9 L754.5 1337.7 L755.2 1337.5 L755.9 1337.4 L756.6 1337.2 L757.3 1337 L758 1336.9 L758.7 1336.7 L759.4 1336.5 L760.1 1336.3 L760.8 1336.1 L761.5 1335.9 L762.2 1335.6 L762.9 1335.4 L763.6 1335.1 L764.3 1334.9 L765 1334.6 L765.7 1334.3 L766.4 1333.9 L767.1 1333.5 L767.8 1333.1 L768.5 1332.7 L769.2 1332.2 L769.9 1331.6 L770.6 1331 L771.3 1330.4 L772 1329.6 L772.7 1328.8 L773.4 1327.9 L774.1 1326.9 L774.8 1325.8 L775.5 1324.5 L776.2 1323.1 L776.9 1321.6 L777.6 1319.9 L778.3 1318.1 L779 1316 L779.7 1313.8 L780.4 1311.4 L781.1 1308.8 L781.8 1305.9 L782.5 1302.9 L783.2 1299.6 L783.9 1296.1 L784.6 1292.3 L785.3 1288.4 L786 1284.2 L786.7 1279.8 L787.4 1275.2 L788.1 1270.5 L788.8 1265.6 L789.5 1260.5 L790.2 1255.4 L790.9 1250.2 L791.6 1244.9 L792.3 1239.7 L793 1234.6 L793.7 1229.5 L794.4 1224.6 L795.1 1219.9 L795.8 1215.5 L796.5 1211.5 L797.2 1207.8 L797.9 1204.6 L798.6 1201.9 L799.3 1199.8 L800 1198.3 L800.7 1197.4 L801.4 1197.2 L802.1 1197.7 L802.8 1198.8 L803.5 1200.5 L804.2 1202.8 L804.9 1205.6 L805.6 1208.9 L806.3 1212.7 L807 1216.8 L807.7 1221.2 L808.4 1225.9 L809.1 1230.7 L809.8 1235.7 L810.5 1240.8 L811.2 1245.9 L811.9 1250.9 L812.6 1256 L813.3 1260.9 L814 1265.7 L814.7 1270.4 L815.4 1274.9 L816.1 1279.2 L816.8 1283.4 L817.5 1287.3 L818.2 1291 L818.9 1294.4 L819.6 1297.7 L820.3 1300.7 L821 1303.5 L821.7 1306 L822.4 1308.4 L823.1 1310.6 L823.8 1312.5 L824.5 1314.3 L825.2 1315.9 L825.9 1317.4 L826.6 1318.6 L827.3 1319.8 L828 1320.8 L828.7 1321.8 L829.4 1322.6 L830.1 1323.3 L830.8 1323.9 L831.5 1324.5 L832.2 1324.9 L832.9 1325.4 L833.6 1325.7 L834.3 1326 L835 1326.3 L835.7 1326.6 L836.4 1326.8 L837.1 1327 L837.8 1327.1 L838.5 1327.3 L839.2 1327.4 L839.9 1327.5 L840.6 1327.6 L841.3 1327.7 L842 1327.7 L842.7 1327.8 L843.4 1327.8 L844.1 1327.9 L844.8 1327.9 L845.5 1327.9 L846.2 1327.9 L846.9 1328 L847.6 1328 L848.3 1328 L849 1328 L849.7 1328 L850.4 1328 L851.1 1328 L851.8 1328 L852.5 1328 L853.2 1328 L853.9 1328 L854.6 1327.9 L855.3 1327.9 L856 1327.9 L856.7 1327.9 L857.4 1327.8 L858.1 1327.8 L858.8 1327.8 L859.5 1327.8 L860.2 1327.7 L860.9 1327.7 L861.6 1327.7 L862.3 1327.6 L863 1327.6 L863.7 1327.6 L864.4 1327.5 L865.1 1327.5 L865.8 1327.4 L866.5 1327.4 L867.2 1327.4 L867.9 1327.3 L868.6 1327.3 L869.3 1327.2 L870 1327.2 L870.7 1327.1 L871.4 1327.1 L872.1 1327 L872.8 1327 L873.5 1327 L874.2 1326.9 L874.9 1326.8 L874.9 1328.1 L874.2 1328.1 L873.5 1328.2 L872.8 1328.3 L872.1 1328.3 L871.4 1328.4 L870.7 1328.5 L870 1328.6 L869.3 1328.6 L868.6 1328.7 L867.9 1328.8 L867.2 1328.9 L866.5 1328.9 L865.8 1329 L865.1 1329.1 L864.4 1329.1 L863.7 1329.2 L863 1329.3 L862.3 1329.4 L861.6 1329.4 L860.9 1329.5 L860.2 1329.6 L859.5 1329.7 L858.8 1329.7 L858.1 1329.8 L857.4 1329.9 L856.7 1329.9 L856 1330 L855.3 1330.1 L854.6 1330.2 L853.9 1330.2 L853.2 1330.3 L852.5 1330.4 L851.8 1330.5 L851.1 1330.5 L850.4 1330.6 L849.7 1330.7 L849 1330.7 L848.3 1330.8 L847.6 1330.9 L846.9 1331 L846.2 1331 L845.5 1331.1 L844.8 1331.2 L844.1 1331.3 L843.4 1331.3 L842.7 1331.4 L842 1331.5 L841.3 1331.5 L840.6 1331.6 L839.9 1331.7 L839.2 1331.8 L838.5 1331.8 L837.8 1331.9 L837.1 1332 L836.4 1332.1 L835.7 1332.1 L835 1332.2 L834.3 1332.3 L833.6 1332.3 L832.9 1332.4 L832.2 1332.5 L831.5 1332.6 L830.8 1332.6 L830.1 1332.7 L829.4 1332.8 L828.7 1332.9 L828 1332.9 L827.3 1333 L826.6 1333.1 L825.9 1333.2 L825.2 1333.2 L824.5 1333.3 L823.8 1333.4 L823.1 1333.4 L822.4 1333.5 L821.7 1333.6 L821 1333.7 L820.3 1333.7 L819.6 1333.8 L818.9 1333.9 L818.2 1334 L817.5 1334 L816.8 1334.1 L816.1 1334.2 L815.4 1334.2 L814.7 1334.3 L814 1334.4 L813.3 1334.5 L812.6 1334.5 L811.9 1334.6 L811.2 1334.7 L810.5 1334.8 L809.8 1334.8 L809.1 1334.9 L808.4 1335 L807.7 1335 L807 1335.1 L806.3 1335.2 L805.6 1335.3 L804.9 1335.3 L804.2 1335.4 L803.5 1335.5 L802.8 1335.6 L802.1 1335.6 L801.4 1335.7 L800.7 1335.8 L800 1335.8 L799.3 1335.9 L798.6 1336 L797.9 1336.1 L797.2 1336.1 L796.5 1336.2 L795.8 1336.3 L795.1 1336.4 L794.4 1336.4 L793.7 1336.5 L793 1336.6 L792.3 1336.6 L791.6 1336.7 L790.9 1336.8 L790.2 1336.9 L789.5 1336.9 L788.8 1337 L788.1 1337.1 L787.4 1337.2 L786.7 1337.2 L786 1337.3 L785.3 1337.4 L784.6 1337.4 L783.9 1337.5 L783.2 1337.6 L782.5 1337.7 L781.8 1337.7 L781.1 1337.8 L780.4 1337.9 L779.7 1338 L779 1338 L778.3 1338.1 L777.6 1338.2 L776.9 1338.3 L776.2 1338.3 L775.5 1338.4 L774.8 1338.5 L774.1 1338.5 L773.4 1338.6 L772.7 1338.7 L772 1338.8 L771.3 1338.8 L770.6 1338.9 L769.9 1339 L769.2 1339.1 L768.5 1339.1 L767.8 1339.2 L767.1 1339.3 L766.4 1339.3 L765.7 1339.4 L765 1339.5 L764.3 1339.6 L763.6 1339.6 L762.9 1339.7 L762.2 1339.8 L761.5 1339.9 L760.8 1339.9 L760.1 1340 L759.4 1340.1 L758.7 1340.1 L758 1340.2 L757.3 1340.3 L756.6 1340.4 L755.9 1340.4 L755.2 1340.5 L754.5 1340.6 L753.8 1340.7 L753.1 1340.7 L752.4 1340.8 L751.7 1340.9 L751 1340.9 L750.3 1341 L749.6 1341.1 L748.9 1341.2 L748.2 1341.2 L747.5 1341.3 L746.8 1341.4 L746.1 1341.5 L745.4 1341.5 L744.7 1341.6 L744 1341.7 L743.3 1341.7 L742.6 1341.8 L741.9 1341.9 L741.2 1342 L740.5 1342 L739.8 1342.1 L739.1 1342.2 L738.4 1342.3 L737.7 1342.3 L737 1342.4 L736.3 1342.5 L735.6 1342.5 Z" fill="#e4c0f6" stroke="none"/>
<path d="M443.7 1373.5 L444.4 1373.3 L445.1 1373.2 L445.8 1373.1 L446.5 1372.9 L447.2 1372.8 L447.9 1372.7 L448.6 1372.5 L449.3 1372.4 L450 1372.3 L450.7 1372.1 L451.4 1372 L452.1 1371.9 L452.8 1371.7 L453.5 1371.6 L454.2 1371.5 L454.9 1371.3 L455.6 1371.2 L456.3 1371.1 L457 1371 L457.7 1370.8 L458.4 1370.7 L459.1 1370.6 L459.8 1370.4 L460.5 1370.3 L461.2 1370.2 L461.9 1370 L462.6 1369.9 L463.3 1369.8 L464 1369.6 L464.7 1369.5 L465.4 1369.4 L466.1 1369.2 L466.8 1369.1 L467.5 1369 L468.2 1368.8 L468.9 1368.7 L469.6 1368.6 L470.3 1368.4 L471 1368.2 L471.7 1368.1 L472.4 1367.9 L473.1 1367.7 L473.8 1367.5 L474.5 1367.4 L475.2 1367.2 L475.9 1367 L476.6 1366.8 L477.3 1366.7 L478 1366.5 L478.7 1366.3 L479.4 1366.2 L480.1 1366 L480.8 1365.8 L481.5 1365.6 L482.2 1365.5 L482.9 1365.3 L483.6 1365.1 L484.3 1364.9 L485 1364.8 L485.7 1364.6 L486.4 1364.4 L487.1 1364.2 L487.8 1364 L488.5 1363.9 L489.2 1363.7 L489.9 1363.5 L490.6 1363.3 L491.3 1363.2 L492 1363 L492.7 1362.8 L493.4 1362.7 L494.1 1362.5 L494.8 1362.3 L495.5 1362.1 L496.2 1362 L496.9 1361.8 L497.6 1361.6 L498.3 1361.5 L499 1361.4 L499.7 1361.3 L500.4 1361.2 L501.1 1361.1 L501.8 1361 L502.5 1361 L503.2 1360.9 L503.9 1360.8 L504.6 1360.7 L505.3 1360.6 L506 1360.5 L506.7 1360.4 L507.4 1360.4 L508.1 1360.3 L508.8 1360.2 L509.5 1360.1 L510.2 1360 L510.9 1359.9 L511.6 1359.8 L512.3 1359.8 L513 1360 L513.7 1360.1 L514.4 1360.2 L515.1 1360.3 L515.8 1360.4 L516.5 1360.5 L517.2 1360.6 L517.9 1360.7 L518.6 1360.8 L519.3 1360.9 L520 1361 L520.7 1361.5 L521.4 1362 L522.1 1362.6 L522.8 1363.1 L523.5 1363.6 L524.2 1364.2 L524.9 1364.7 L525.6 1365.2 L526.3 1365.8 L527 1366.3 L527.7 1366.9 L528.4 1367.5 L529.1 1368.1 L529.8 1368.7 L530.5 1369.2 L531.2 1369.8 L531.9 1370.4 L532.6 1370.8 L533.3 1371.2 L534 1371.5 L534.7 1371.8 L535.4 1372.2 L536.1 1372.5 L536.8 1372.9 L537.5 1373.2 L538.2 1373.6 L538.9 1374 L539.6 1374.3 L540.3 1374.5 L541 1374.7 L541.7 1374.8 L542.4 1374.9 L543.1 1375 L543.8 1375.1 L544.5 1375.2 L545.2 1375.4 L545.9 1375.5 L546.6 1375.6 L547.3 1375.7 L548 1375.8 L548.7 1376 L549.4 1376.1 L550.1 1376.2 L550.8 1376.3 L551.5 1376.4 L552.2 1376.5 L552.9 1376.5 L553.6 1376.5 L554.3 1376.5 L555 1376.5 L555.7 1376.4 L556.4 1376.4 L557.1 1376.4 L557.8 1376.4 L558.5 1376.4 L559.2 1376.4 L559.9 1376.4 L560.6 1376.4 L561.3 1376.4 L562 1376.3 L562.7 1376.3 L563.4 1376.3 L564.1 1376.3 L564.8 1376.3 L565.5 1376.2 L566.2 1376.1 L566.9 1376 L567.6 1375.9 L568.3 1375.8 L569 1375.7 L569.7 1375.6 L570.4 1375.5 L571.1 1375.4 L571.8 1375.3 L572.5 1375.2 L573.2 1375.1 L573.9 1375 L574.6 1374.9 L575.3 1374.8 L576 1374.7 L576.7 1374.6 L577.4 1374.5 L578.1 1374.4 L578.8 1374.3 L579.5 1374.2 L580.2 1374.1 L580.9 1374 L581.6 1373.9 L582.3 1373.8 L583 1373.7 L583.7 1373.6 L584.4 1373.5 L585.1 1373.4 L585.8 1373.3 L586.5 1373.2 L587.2 1373.1 L587.9 1373 L588.6 1372.9 L589.3 1372.8 L590 1372.7 L590.7 1372.6 L591.4 1372.5 L592.1 1372.4 L592.8 1372.3 L593.5 1372.2 L594.2 1372.1 L594.9 1372 L595.6 1371.9 L596.3 1371.8 L597 1371.7 L597.7 1371.6 L598.4 1371.5 L599.1 1371.4 L599.8 1371.3 L600.5 1371.2 L601.2 1371.1 L601.9 1371 L602.6 1370.9 L603.3 1370.8 L604 1370.7 L604.7 1370.6 L605.4 1370.5 L606.1 1370.4 L606.8 1370.3 L607.5 1370.2 L608.2 1370.1 L608.9 1370 L609.6 1369.9 L610.3 1369.8 L611 1369.7 L611.7 1369.6 L612.4 1369.5 L613.1 1369.4 L613.8 1369.3 L614.5 1369.2 L615.2 1369.1 L615.9 1369 L616.6 1368.9 L617.3 1368.8 L618 1368.7 L618.7 1368.6 L619.4 1368.5 L620.1 1368.4 L620.8 1368.3 L621.5 1368.2 L622.2 1368.1 L622.9 1368 L623.6 1367.9 L624.3 1367.8 L625 1367.7 L625.7 1367.6 L626.4 1367.5 L627.1 1367.4 L627.8 1367.3 L628.5 1367.2 L629.2 1367.1 L629.9 1367 L630.6 1366.9 L631.3 1366.8 L632 1366.7 L632.7 1366.6 L633.4 1366.5 L634.1 1366.4 L634.8 1366.3 L635.5 1366.2 L636.2 1366.1 L636.9 1366 L637.6 1365.9 L638.3 1365.8 L639 1365.7 L639.7 1365.6 L640.4 1365.5 L641.1 1365.4 L641.8 1365.3 L642.5 1365.2 L643.2 1365.1 L643.9 1365 L644.6 1364.9 L645.3 1364.8 L646 1364.7 L646.7 1364.6 L647.4 1364.5 L648.1 1364.4 L648.8 1364.3 L649.5 1364.2 L650.2 1364.1 L650.9 1364 L651.6 1363.9 L652.3 1363.8 L653 1363.7 L653.7 1363.6 L654.4 1363.5 L655.1 1363.4 L655.8 1363.3 L656.5 1363.2 L657.2 1363.1 L657.9 1363 L658.6 1362.9 L659.3 1362.8 L660 1362.7 L660.7 1362.6 L661.4 1362.5 L662.1 1362.4 L662.8 1362.3 L663.5 1362.2 L664.2 1362.1 L664.9 1362 L665.6 1361.9 L666.3 1361.8 L667 1361.7 L667.7 1361.6 L668.4 1361.5 L669.1 1361.4 L669.8 1361.3 L670.5 1361.2 L671.2 1361.1 L671.9 1361 L672.6 1360.9 L673.3 1360.8 L674 1360.7 L674.7 1360.6 L675.4 1360.5 L676.1 1360.4 L676.8 1360.3 L677.5 1360.2 L678.2 1360 L678.9 1359.9 L679.6 1359.8 L680.3 1359.7 L681 1359.6 L681.7 1359.5 L682.4 1359.4 L683.1 1359.3 L683.8 1359.2 L684.5 1359.1 L685.2 1359 L685.9 1358.9 L686.6 1358.8 L687.3 1358.7 L688 1358.6 L688.7 1358.5 L689.4 1358.4 L690.1 1358.3 L690.8 1358.2 L691.5 1358.1 L692.2 1358 L692.9 1357.9 L693.6 1357.8 L694.3 1357.7 L695 1357.6 L695.7 1357.5 L696.4 1357.4 L697.1 1357.3 L697.8 1357.2 L698.5 1357.1 L699.2 1357 L699.9 1356.9 L700.6 1356.8 L701.3 1356.7 L702 1356.6 L702.7 1356.5 L703.4 1356.4 L704.1 1356.3 L704.8 1356.2 L705.5 1356.1 L706.2 1356 L706.9 1355.9 L707.6 1355.8 L708.3 1355.7 L709 1355.6 L709.7 1355.5 L710.4 1355.4 L711.1 1355.3 L711.8 1355.2 L712.5 1355.1 L713.2 1355 L713.9 1354.9 L714.6 1354.8 L715.3 1354.7 L716 1354.6 L716.7 1354.5 L717.4 1354.4 L718.1 1354.3 L718.8 1354.2 L719.5 1354.1 L720.2 1354 L720.9 1353.9 L721.6 1353.8 L722.3 1353.7 L723 1353.6 L723.7 1353.5 L724.4 1353.4 L725.1 1353.3 L725.8 1353.2 L726.5 1353.1 L727.2 1353 L727.9 1352.9 L728.6 1352.8 L729.3 1352.7 L730 1352.6 L730.7 1352.5 L731.4 1352.4 L732.1 1352.3 L732.8 1352.2 L733.5 1352.1 L734.2 1352 L734.9 1351.9 L735.6 1351.8 L736.3 1351.7 L737 1351.6 L737.7 1351.5 L738.4 1351.4 L739.1 1351.3 L739.8 1351.2 L740.5 1351.1 L741.2 1351 L741.9 1350.9 L742.6 1350.8 L743.3 1350.7 L744 1350.6 L744.7 1350.5 L745.4 1350.4 L746.1 1350.3 L746.8 1350.2 L747.5 1350.1 L748.2 1350 L748.9 1349.9 L749.6 1349.8 L750.3 1349.7 L751 1349.6 L751.7 1349.5 L752.4 1349.4 L753.1 1349.3 L753.8 1349.2 L754.5 1349.1 L755.2 1349 L755.9 1348.9 L756.6 1348.8 L757.3 1348.7 L758 1348.6 L758.7 1348.5 L759.4 1348.4 L760.1 1348.3 L760.8 1348.2 L761.5 1348.1 L762.2 1348 L762.9 1347.9 L763.6 1347.8 L764.3 1347.7 L765 1347.6 L765.7 1347.5 L766.4 1347.4 L767.1 1347.3 L767.8 1347.2 L768.5 1347.1 L769.2 1347 L769.9 1346.9 L770.6 1346.8 L771.3 1346.7 L772 1346.6 L772.7 1346.5 L773.4 1346.4 L774.1 1346.3 L774.8 1346.2 L775.5 1346.1 L776.2 1346 L776.9 1345.9 L777.6 1345.8 L778.3 1345.7 L779 1345.6 L779.7 1345.5 L780.4 1345.4 L781.1 1345.3 L781.8 1345.2 L782.5 1345.1 L783.2 1345 L783.9 1344.9 L784.6 1344.8 L785.3 1344.7 L786 1344.6 L786.7 1344.5 L787.4 1344.4 L788.1 1344.3 L788.8 1344.2 L789.5 1344.1 L790.2 1344 L790.9 1343.9 L791.6 1343.8 L792.3 1343.7 L793 1343.5 L793.7 1343.4 L794.4 1343.3 L795.1 1343.2 L795.8 1343.1 L796.5 1343 L797.2 1342.9 L797.9 1342.8 L798.6 1343 L799.3 1343.2 L800 1343.5 L800.7 1343.7 L801.4 1343.9 L802.1 1344.2 L802.8 1344.4 L803.5 1344.6 L804.2 1344.9 L804.9 1345.1 L805.6 1345.4 L806.3 1345.6 L807 1345.8 L807.7 1346.1 L808.4 1346.3 L809.1 1346.6 L809.8 1346.8 L810.5 1347.1 L811.2 1347.3 L811.9 1347.6 L812.6 1347.6 L813.3 1347.7 L814 1347.7 L814.7 1347.7 L815.4 1347.7 L816.1 1347.8 L816.8 1347.8 L817.5 1347.8 L818.2 1347.8 L818.9 1347.9 L819.6 1347.9 L820.3 1347.9 L821 1348 L821.7 1348 L822.4 1347.9 L823.1 1347.8 L823.8 1347.7 L824.5 1347.6 L825.2 1347.5 L825.9 1347.3 L826.6 1347.2 L827.3 1347.1 L828 1347 L828.7 1346.9 L829.4 1346.7 L830.1 1346.6 L830.8 1346.5 L831.5 1346.4 L832.2 1346.3 L832.9 1346.2 L833.6 1346 L834.3 1345.9 L835 1345.8 L835.7 1345.7 L836.4 1345.6 L837.1 1345.4 L837.8 1345.3 L838.5 1345.2 L839.2 1345.1 L839.9 1345 L840.6 1344.8 L841.3 1344.7 L842 1344.6 L842.7 1344.5 L843.4 1344.4 L844.1 1344.3 L844.8 1344.1 L845.5 1344 L846.2 1343.9 L846.9 1343.8 L847.6 1343.7 L848.3 1343.5 L849 1343.4 L849.7 1343.3 L850.4 1343.2 L851.1 1343.1 L851.8 1343 L852.5 1342.8 L853.2 1342.7 L853.9 1342.6 L854.6 1342.5 L855.3 1342.4 L856 1342.2 L856.7 1342.1 L857.4 1342 L858.1 1341.9 L858.8 1341.8 L859.5 1341.6 L860.2 1341.5 L860.9 1341.4 L861.6 1341.3 L862.3 1341.2 L863 1341.1 L863.7 1340.9 L864.4 1340.8 L865.1 1340.7 L865.8 1340.6 L866.5 1340.5 L867.2 1340.3 L867.9 1340.2 L868.6 1340.1 L869.3 1340 L870 1339.9 L870.7 1339.8 L871.4 1339.6 L872.1 1339.5 L872.8 1339.4 L873.5 1339.3 L874.2 1339.2 L874.9 1339 L875.6 1338.9 L876.3 1338.8 L877 1338.7 L877.7 1338.6 L878.4 1338.4 L879.1 1338.3 L879.8 1338.2 L880.5 1338.1 L881.2 1338 L881.9 1337.9 L882.6 1337.7 L883.3 1337.6" stroke="#6a2ad0" stroke-width="1.4" fill="none" stroke-linejoin="round" />
<path d="M488.5 1365.8 L489.2 1365.6 L489.9 1365.3 L490.6 1365 L491.3 1364.7 L492 1364.3 L492.7 1363.8 L493.4 1363.3 L494.1 1362.7 L494.8 1362 L495.5 1361.2 L496.2 1360.3 L496.9 1359.2 L497.6 1358 L498.3 1356.6 L499 1355 L499.7 1353.1 L500.4 1351 L501.1 1348.6 L501.8 1345.9 L502.5 1342.9 L503.2 1339.5 L503.9 1335.7 L504.6 1331.5 L505.3 1326.8 L506 1321.6 L506.7 1316 L507.4 1309.8 L508.1 1303.2 L508.8 1296 L509.5 1288.3 L510.2 1280.1 L510.9 1271.5 L511.6 1262.4 L512.3 1252.8 L513 1242.9 L513.7 1232.7 L514.4 1222.3 L515.1 1211.7 L515.8 1201 L516.5 1190.3 L517.2 1179.7 L517.9 1169.4 L518.6 1159.3 L519.3 1149.7 L520 1140.6 L520.7 1132.2 L521.4 1124.6 L522.1 1117.8 L522.8 1112 L523.5 1107.3 L524.2 1103.7 L524.9 1101.2 L525.6 1100 L526.3 1100 L527 1101.3 L527.7 1103.8 L528.4 1107.4 L529.1 1112.1 L529.8 1117.9 L530.5 1124.7 L531.2 1132.3 L531.9 1140.7 L532.6 1149.7 L533.3 1159.2 L534 1169.1 L534.7 1179.4 L535.4 1189.8 L536.1 1200.4 L536.8 1210.9 L537.5 1221.4 L538.2 1231.6 L538.9 1241.7 L539.6 1251.4 L540.3 1260.7 L541 1269.6 L541.7 1278 L542.4 1286 L543.1 1293.5 L543.8 1300.4 L544.5 1306.9 L545.2 1312.8 L545.9 1318.2 L546.6 1323.2 L547.3 1327.6 L548 1331.7 L548.7 1335.3 L549.4 1338.5 L550.1 1341.3 L550.8 1343.8 L551.5 1346 L552.2 1347.9 L552.9 1349.6 L553.6 1351 L554.3 1352.3 L555 1353.3 L555.7 1354.2 L556.4 1355 L557.1 1355.6 L557.8 1356.1 L558.5 1356.6 L559.2 1356.9 L559.9 1357.2 L560.6 1357.5 L561.3 1357.7 L562 1357.8 L562.7 1358 L563.4 1358.1 L564.1 1358.1 L564.8 1358.2" stroke="#ee8a3a" stroke-width="1.5" fill="none" stroke-linejoin="round" />
<path d="M750.3 1338.6 L751 1338.4 L751.7 1338.3 L752.4 1338.2 L753.1 1338 L753.8 1337.9 L754.5 1337.7 L755.2 1337.5 L755.9 1337.4 L756.6 1337.2 L757.3 1337 L758 1336.9 L758.7 1336.7 L759.4 1336.5 L760.1 1336.3 L760.8 1336.1 L761.5 1335.9 L762.2 1335.6 L762.9 1335.4 L763.6 1335.1 L764.3 1334.9 L765 1334.6 L765.7 1334.3 L766.4 1333.9 L767.1 1333.5 L767.8 1333.1 L768.5 1332.7 L769.2 1332.2 L769.9 1331.6 L770.6 1331 L771.3 1330.4 L772 1329.6 L772.7 1328.8 L773.4 1327.9 L774.1 1326.9 L774.8 1325.8 L775.5 1324.5 L776.2 1323.1 L776.9 1321.6 L777.6 1319.9 L778.3 1318.1 L779 1316 L779.7 1313.8 L780.4 1311.4 L781.1 1308.8 L781.8 1305.9 L782.5 1302.9 L783.2 1299.6 L783.9 1296.1 L784.6 1292.3 L785.3 1288.4 L786 1284.2 L786.7 1279.8 L787.4 1275.2 L788.1 1270.5 L788.8 1265.6 L789.5 1260.5 L790.2 1255.4 L790.9 1250.2 L791.6 1244.9 L792.3 1239.7 L793 1234.6 L793.7 1229.5 L794.4 1224.6 L795.1 1219.9 L795.8 1215.5 L796.5 1211.5 L797.2 1207.8 L797.9 1204.6 L798.6 1201.9 L799.3 1199.8 L800 1198.3 L800.7 1197.4 L801.4 1197.2 L802.1 1197.7 L802.8 1198.8 L803.5 1200.5 L804.2 1202.8 L804.9 1205.6 L805.6 1208.9 L806.3 1212.7 L807 1216.8 L807.7 1221.2 L808.4 1225.9 L809.1 1230.7 L809.8 1235.7 L810.5 1240.8 L811.2 1245.9 L811.9 1250.9 L812.6 1256 L813.3 1260.9 L814 1265.7 L814.7 1270.4 L815.4 1274.9 L816.1 1279.2 L816.8 1283.4 L817.5 1287.3 L818.2 1291 L818.9 1294.4 L819.6 1297.7 L820.3 1300.7 L821 1303.5 L821.7 1306 L822.4 1308.4 L823.1 1310.6 L823.8 1312.5 L824.5 1314.3 L825.2 1315.9 L825.9 1317.4 L826.6 1318.6 L827.3 1319.8 L828 1320.8 L828.7 1321.8 L829.4 1322.6 L830.1 1323.3 L830.8 1323.9 L831.5 1324.5 L832.2 1324.9 L832.9 1325.4 L833.6 1325.7 L834.3 1326 L835 1326.3 L835.7 1326.6 L836.4 1326.8 L837.1 1327 L837.8 1327.1 L838.5 1327.3 L839.2 1327.4 L839.9 1327.5 L840.6 1327.6 L841.3 1327.7 L842 1327.7 L842.7 1327.8 L843.4 1327.8 L844.1 1327.9 L844.8 1327.9 L845.5 1327.9 L846.2 1327.9 L846.9 1328 L847.6 1328 L848.3 1328 L849 1328 L849.7 1328" stroke="#ee8a3a" stroke-width="1.5" fill="none" stroke-linejoin="round" />
<circle cx="443.2" cy="1374.5" r="4.3" fill="none" stroke="#2424c0" stroke-width="0.95" stroke-dasharray="2 0.8"/>
<circle cx="445.9" cy="1377.3" r="4.3" fill="none" stroke="#2424c0" stroke-width="0.95" stroke-dasharray="2 0.8"/>
<circle cx="448.2" cy="1378.1" r="4.3" fill="none" stroke="#2424c0" stroke-width="0.95" stroke-dasharray="2 0.8"/>
<circle cx="449.4" cy="1374.7" r="4.3" fill="none" stroke="#2424c0" stroke-width="0.95" stroke-dasharray="2 0.8"/>
<circle cx="453.3" cy="1376.6" r="4.3" fill="none" stroke="#2424c0" stroke-width="0.95" stroke-dasharray="2 0.8"/>
<circle cx="455.6" cy="1371.9" r="4.3" fill="none" stroke="#2424c0" stroke-width="0.95" stroke-dasharray="2 0.8"/>
<circle cx="457.4" cy="1373.3" r="4.3" fill="none" stroke="#2424c0" stroke-width="0.95" stroke-dasharray="2 0.8"/>
<circle cx="459.9" cy="1376.5" r="4.3" fill="none" stroke="#2424c0" stroke-width="0.95" stroke-dasharray="2 0.8"/>
<circle cx="461.4" cy="1373.4" r="4.3" fill="none" stroke="#2424c0" stroke-width="0.95" stroke-dasharray="2 0.8"/>
<circle cx="464.2" cy="1379.9" r="4.3" fill="none" stroke="#2424c0" stroke-width="0.95" stroke-dasharray="2 0.8"/>
<circle cx="467.4" cy="1373.3" r="4.3" fill="none" stroke="#2424c0" stroke-width="0.95" stroke-dasharray="2 0.8"/>
<circle cx="469.9" cy="1372.9" r="4.3" fill="none" stroke="#2424c0" stroke-width="0.95" stroke-dasharray="2 0.8"/>
<circle cx="472" cy="1372.5" r="4.3" fill="none" stroke="#2424c0" stroke-width="0.95" stroke-dasharray="2 0.8"/>
<circle cx="473.4" cy="1378.9" r="4.3" fill="none" stroke="#2424c0" stroke-width="0.95" stroke-dasharray="2 0.8"/>
<circle cx="476.1" cy="1372.7" r="4.3" fill="none" stroke="#2424c0" stroke-width="0.95" stroke-dasharray="2 0.8"/>
<circle cx="479.8" cy="1378.4" r="4.3" fill="none" stroke="#2424c0" stroke-width="0.95" stroke-dasharray="2 0.8"/>
<circle cx="481.1" cy="1378.3" r="4.3" fill="none" stroke="#2424c0" stroke-width="0.95" stroke-dasharray="2 0.8"/>
<circle cx="483.9" cy="1374.8" r="4.3" fill="none" stroke="#2424c0" stroke-width="0.95" stroke-dasharray="2 0.8"/>
<circle cx="485.7" cy="1376.3" r="4.3" fill="none" stroke="#2424c0" stroke-width="0.95" stroke-dasharray="2 0.8"/>
<circle cx="488.9" cy="1375.6" r="4.3" fill="none" stroke="#2424c0" stroke-width="0.95" stroke-dasharray="2 0.8"/>
<circle cx="491.6" cy="1368.7" r="4.3" fill="none" stroke="#2424c0" stroke-width="0.95" stroke-dasharray="2 0.8"/>
<circle cx="493.2" cy="1366.3" r="4.3" fill="none" stroke="#2424c0" stroke-width="0.95" stroke-dasharray="2 0.8"/>
<circle cx="495.2" cy="1364.1" r="4.3" fill="none" stroke="#2424c0" stroke-width="0.95" stroke-dasharray="2 0.8"/>
<circle cx="497.9" cy="1367.7" r="4.3" fill="none" stroke="#2424c0" stroke-width="0.95" stroke-dasharray="2 0.8"/>
<circle cx="499.8" cy="1366.4" r="4.3" fill="none" stroke="#2424c0" stroke-width="0.95" stroke-dasharray="2 0.8"/>
<circle cx="502.7" cy="1359.5" r="4.3" fill="none" stroke="#2424c0" stroke-width="0.95" stroke-dasharray="2 0.8"/>
<circle cx="527.5" cy="1102.6" r="4.3" fill="none" stroke="#2424c0" stroke-width="0.95" stroke-dasharray="2 0.8"/>
<circle cx="553.1" cy="1355.9" r="4.3" fill="none" stroke="#2424c0" stroke-width="0.95" stroke-dasharray="2 0.8"/>
<circle cx="556.1" cy="1354.5" r="4.3" fill="none" stroke="#2424c0" stroke-width="0.95" stroke-dasharray="2 0.8"/>
<circle cx="559" cy="1357.4" r="4.3" fill="none" stroke="#2424c0" stroke-width="0.95" stroke-dasharray="2 0.8"/>
<circle cx="561" cy="1368.2" r="4.3" fill="none" stroke="#2424c0" stroke-width="0.95" stroke-dasharray="2 0.8"/>
<circle cx="562.2" cy="1371" r="4.3" fill="none" stroke="#2424c0" stroke-width="0.95" stroke-dasharray="2 0.8"/>
<circle cx="565.2" cy="1372.4" r="4.3" fill="none" stroke="#2424c0" stroke-width="0.95" stroke-dasharray="2 0.8"/>
<circle cx="567" cy="1370.9" r="4.3" fill="none" stroke="#2424c0" stroke-width="0.95" stroke-dasharray="2 0.8"/>
<circle cx="569.7" cy="1379.8" r="4.3" fill="none" stroke="#2424c0" stroke-width="0.95" stroke-dasharray="2 0.8"/>
<circle cx="572.1" cy="1378.7" r="4.3" fill="none" stroke="#2424c0" stroke-width="0.95" stroke-dasharray="2 0.8"/>
<circle cx="575.7" cy="1381.1" r="4.3" fill="none" stroke="#2424c0" stroke-width="0.95" stroke-dasharray="2 0.8"/>
<circle cx="577.2" cy="1376.5" r="4.3" fill="none" stroke="#2424c0" stroke-width="0.95" stroke-dasharray="2 0.8"/>
<circle cx="579.8" cy="1381" r="4.3" fill="none" stroke="#2424c0" stroke-width="0.95" stroke-dasharray="2 0.8"/>
<circle cx="581.6" cy="1381.5" r="4.3" fill="none" stroke="#2424c0" stroke-width="0.95" stroke-dasharray="2 0.8"/>
<circle cx="585.1" cy="1381.6" r="4.3" fill="none" stroke="#2424c0" stroke-width="0.95" stroke-dasharray="2 0.8"/>
<circle cx="586.3" cy="1381.2" r="4.3" fill="none" stroke="#2424c0" stroke-width="0.95" stroke-dasharray="2 0.8"/>
<circle cx="588.7" cy="1374.6" r="4.3" fill="none" stroke="#2424c0" stroke-width="0.95" stroke-dasharray="2 0.8"/>
<circle cx="592" cy="1378.6" r="4.3" fill="none" stroke="#2424c0" stroke-width="0.95" stroke-dasharray="2 0.8"/>
<circle cx="593.9" cy="1377.4" r="4.3" fill="none" stroke="#2424c0" stroke-width="0.95" stroke-dasharray="2 0.8"/>
<circle cx="596.7" cy="1370.7" r="4.3" fill="none" stroke="#2424c0" stroke-width="0.95" stroke-dasharray="2 0.8"/>
<circle cx="598.7" cy="1368.8" r="4.3" fill="none" stroke="#2424c0" stroke-width="0.95" stroke-dasharray="2 0.8"/>
<circle cx="600.7" cy="1368" r="4.3" fill="none" stroke="#2424c0" stroke-width="0.95" stroke-dasharray="2 0.8"/>
<circle cx="604.1" cy="1375.2" r="4.3" fill="none" stroke="#2424c0" stroke-width="0.95" stroke-dasharray="2 0.8"/>
<circle cx="605.7" cy="1366.1" r="4.3" fill="none" stroke="#2424c0" stroke-width="0.95" stroke-dasharray="2 0.8"/>
<circle cx="609.4" cy="1370" r="4.3" fill="none" stroke="#2424c0" stroke-width="0.95" stroke-dasharray="2 0.8"/>
<circle cx="610.8" cy="1366.9" r="4.3" fill="none" stroke="#2424c0" stroke-width="0.95" stroke-dasharray="2 0.8"/>
<circle cx="613.6" cy="1371.3" r="4.3" fill="none" stroke="#2424c0" stroke-width="0.95" stroke-dasharray="2 0.8"/>
<circle cx="615.7" cy="1366.4" r="4.3" fill="none" stroke="#2424c0" stroke-width="0.95" stroke-dasharray="2 0.8"/>
<circle cx="617.5" cy="1369.7" r="4.3" fill="none" stroke="#2424c0" stroke-width="0.95" stroke-dasharray="2 0.8"/>
<circle cx="619.9" cy="1364.7" r="4.3" fill="none" stroke="#2424c0" stroke-width="0.95" stroke-dasharray="2 0.8"/>
<circle cx="623.5" cy="1360.2" r="4.3" fill="none" stroke="#2424c0" stroke-width="0.95" stroke-dasharray="2 0.8"/>
<circle cx="625.8" cy="1366.4" r="4.3" fill="none" stroke="#2424c0" stroke-width="0.95" stroke-dasharray="2 0.8"/>
<circle cx="628" cy="1363.9" r="4.3" fill="none" stroke="#2424c0" stroke-width="0.95" stroke-dasharray="2 0.8"/>
<circle cx="629.6" cy="1360" r="4.3" fill="none" stroke="#2424c0" stroke-width="0.95" stroke-dasharray="2 0.8"/>
<circle cx="632" cy="1363" r="4.3" fill="none" stroke="#2424c0" stroke-width="0.95" stroke-dasharray="2 0.8"/>
<circle cx="634.7" cy="1358.8" r="4.3" fill="none" stroke="#2424c0" stroke-width="0.95" stroke-dasharray="2 0.8"/>
<circle cx="638.2" cy="1361.6" r="4.3" fill="none" stroke="#2424c0" stroke-width="0.95" stroke-dasharray="2 0.8"/>
<circle cx="640.6" cy="1357.3" r="4.3" fill="none" stroke="#2424c0" stroke-width="0.95" stroke-dasharray="2 0.8"/>
<circle cx="642.2" cy="1359.1" r="4.3" fill="none" stroke="#2424c0" stroke-width="0.95" stroke-dasharray="2 0.8"/>
<circle cx="644.6" cy="1354.2" r="4.3" fill="none" stroke="#2424c0" stroke-width="0.95" stroke-dasharray="2 0.8"/>
<circle cx="646.8" cy="1351.9" r="4.3" fill="none" stroke="#2424c0" stroke-width="0.95" stroke-dasharray="2 0.8"/>
<circle cx="649.2" cy="1358.5" r="4.3" fill="none" stroke="#2424c0" stroke-width="0.95" stroke-dasharray="2 0.8"/>
<circle cx="652.5" cy="1354.3" r="4.3" fill="none" stroke="#2424c0" stroke-width="0.95" stroke-dasharray="2 0.8"/>
<circle cx="654.2" cy="1350.8" r="4.3" fill="none" stroke="#2424c0" stroke-width="0.95" stroke-dasharray="2 0.8"/>
<circle cx="655.9" cy="1349.2" r="4.3" fill="none" stroke="#2424c0" stroke-width="0.95" stroke-dasharray="2 0.8"/>
<circle cx="659.5" cy="1353.9" r="4.3" fill="none" stroke="#2424c0" stroke-width="0.95" stroke-dasharray="2 0.8"/>
<circle cx="661.2" cy="1352.4" r="4.3" fill="none" stroke="#2424c0" stroke-width="0.95" stroke-dasharray="2 0.8"/>
<circle cx="664.2" cy="1350.9" r="4.3" fill="none" stroke="#2424c0" stroke-width="0.95" stroke-dasharray="2 0.8"/>
<circle cx="666.5" cy="1350.8" r="4.3" fill="none" stroke="#2424c0" stroke-width="0.95" stroke-dasharray="2 0.8"/>
<circle cx="668.4" cy="1349.5" r="4.3" fill="none" stroke="#2424c0" stroke-width="0.95" stroke-dasharray="2 0.8"/>
<circle cx="670.6" cy="1346.9" r="4.3" fill="none" stroke="#2424c0" stroke-width="0.95" stroke-dasharray="2 0.8"/>
<circle cx="673.8" cy="1348.2" r="4.3" fill="none" stroke="#2424c0" stroke-width="0.95" stroke-dasharray="2 0.8"/>
<circle cx="675.5" cy="1350" r="4.3" fill="none" stroke="#2424c0" stroke-width="0.95" stroke-dasharray="2 0.8"/>
<circle cx="678.4" cy="1346.2" r="4.3" fill="none" stroke="#2424c0" stroke-width="0.95" stroke-dasharray="2 0.8"/>
<circle cx="679.8" cy="1345.4" r="4.3" fill="none" stroke="#2424c0" stroke-width="0.95" stroke-dasharray="2 0.8"/>
<circle cx="682.6" cy="1346.1" r="4.3" fill="none" stroke="#2424c0" stroke-width="0.95" stroke-dasharray="2 0.8"/>
<circle cx="685.3" cy="1346.9" r="4.3" fill="none" stroke="#2424c0" stroke-width="0.95" stroke-dasharray="2 0.8"/>
<circle cx="688" cy="1346" r="4.3" fill="none" stroke="#2424c0" stroke-width="0.95" stroke-dasharray="2 0.8"/>
<circle cx="690" cy="1343.9" r="4.3" fill="none" stroke="#2424c0" stroke-width="0.95" stroke-dasharray="2 0.8"/>
<circle cx="693" cy="1344.9" r="4.3" fill="none" stroke="#2424c0" stroke-width="0.95" stroke-dasharray="2 0.8"/>
<circle cx="694.8" cy="1344.3" r="4.3" fill="none" stroke="#2424c0" stroke-width="0.95" stroke-dasharray="2 0.8"/>
<circle cx="698" cy="1342.2" r="4.3" fill="none" stroke="#2424c0" stroke-width="0.95" stroke-dasharray="2 0.8"/>
<circle cx="700.6" cy="1343.9" r="4.3" fill="none" stroke="#2424c0" stroke-width="0.95" stroke-dasharray="2 0.8"/>
<circle cx="702.2" cy="1339.2" r="4.3" fill="none" stroke="#2424c0" stroke-width="0.95" stroke-dasharray="2 0.8"/>
<circle cx="704.1" cy="1341" r="4.3" fill="none" stroke="#2424c0" stroke-width="0.95" stroke-dasharray="2 0.8"/>
<circle cx="707.7" cy="1336.8" r="4.3" fill="none" stroke="#2424c0" stroke-width="0.95" stroke-dasharray="2 0.8"/>
<circle cx="709.7" cy="1338" r="4.3" fill="none" stroke="#2424c0" stroke-width="0.95" stroke-dasharray="2 0.8"/>
<circle cx="712.2" cy="1332.2" r="4.3" fill="none" stroke="#2424c0" stroke-width="0.95" stroke-dasharray="2 0.8"/>
<circle cx="714.6" cy="1334.9" r="4.3" fill="none" stroke="#2424c0" stroke-width="0.95" stroke-dasharray="2 0.8"/>
<circle cx="716.9" cy="1332.7" r="4.3" fill="none" stroke="#2424c0" stroke-width="0.95" stroke-dasharray="2 0.8"/>
<circle cx="719.2" cy="1335.4" r="4.3" fill="none" stroke="#2424c0" stroke-width="0.95" stroke-dasharray="2 0.8"/>
<circle cx="721.6" cy="1334.4" r="4.3" fill="none" stroke="#2424c0" stroke-width="0.95" stroke-dasharray="2 0.8"/>
<circle cx="723" cy="1328.9" r="4.3" fill="none" stroke="#2424c0" stroke-width="0.95" stroke-dasharray="2 0.8"/>
<circle cx="726.1" cy="1332.8" r="4.3" fill="none" stroke="#2424c0" stroke-width="0.95" stroke-dasharray="2 0.8"/>
<circle cx="728.2" cy="1332.6" r="4.3" fill="none" stroke="#2424c0" stroke-width="0.95" stroke-dasharray="2 0.8"/>
<circle cx="731.2" cy="1326.3" r="4.3" fill="none" stroke="#2424c0" stroke-width="0.95" stroke-dasharray="2 0.8"/>
<circle cx="733.4" cy="1327.2" r="4.3" fill="none" stroke="#2424c0" stroke-width="0.95" stroke-dasharray="2 0.8"/>
<circle cx="735.1" cy="1325.7" r="4.3" fill="none" stroke="#2424c0" stroke-width="0.95" stroke-dasharray="2 0.8"/>
<circle cx="737.9" cy="1325.4" r="4.3" fill="none" stroke="#2424c0" stroke-width="0.95" stroke-dasharray="2 0.8"/>
<circle cx="740.1" cy="1323.4" r="4.3" fill="none" stroke="#2424c0" stroke-width="0.95" stroke-dasharray="2 0.8"/>
<circle cx="742.9" cy="1325.8" r="4.3" fill="none" stroke="#2424c0" stroke-width="0.95" stroke-dasharray="2 0.8"/>
<circle cx="745.6" cy="1326.9" r="4.3" fill="none" stroke="#2424c0" stroke-width="0.95" stroke-dasharray="2 0.8"/>
<circle cx="747.4" cy="1328.8" r="4.3" fill="none" stroke="#2424c0" stroke-width="0.95" stroke-dasharray="2 0.8"/>
<circle cx="749.4" cy="1323.3" r="4.3" fill="none" stroke="#2424c0" stroke-width="0.95" stroke-dasharray="2 0.8"/>
<circle cx="752.2" cy="1322.4" r="4.3" fill="none" stroke="#2424c0" stroke-width="0.95" stroke-dasharray="2 0.8"/>
<circle cx="754.4" cy="1325.2" r="4.3" fill="none" stroke="#2424c0" stroke-width="0.95" stroke-dasharray="2 0.8"/>
<circle cx="757.2" cy="1317" r="4.3" fill="none" stroke="#2424c0" stroke-width="0.95" stroke-dasharray="2 0.8"/>
<circle cx="760" cy="1316.6" r="4.3" fill="none" stroke="#2424c0" stroke-width="0.95" stroke-dasharray="2 0.8"/>
<circle cx="762.3" cy="1318.1" r="4.3" fill="none" stroke="#2424c0" stroke-width="0.95" stroke-dasharray="2 0.8"/>
<circle cx="764.7" cy="1322.9" r="4.3" fill="none" stroke="#2424c0" stroke-width="0.95" stroke-dasharray="2 0.8"/>
<circle cx="767.5" cy="1317.4" r="4.3" fill="none" stroke="#2424c0" stroke-width="0.95" stroke-dasharray="2 0.8"/>
<circle cx="769.9" cy="1318.7" r="4.3" fill="none" stroke="#2424c0" stroke-width="0.95" stroke-dasharray="2 0.8"/>
<circle cx="771.6" cy="1313.4" r="4.3" fill="none" stroke="#2424c0" stroke-width="0.95" stroke-dasharray="2 0.8"/>
<circle cx="774.4" cy="1316.5" r="4.3" fill="none" stroke="#2424c0" stroke-width="0.95" stroke-dasharray="2 0.8"/>
<circle cx="777.3" cy="1316.2" r="4.3" fill="none" stroke="#2424c0" stroke-width="0.95" stroke-dasharray="2 0.8"/>
<circle cx="779.2" cy="1305.9" r="4.3" fill="none" stroke="#2424c0" stroke-width="0.95" stroke-dasharray="2 0.8"/>
<circle cx="782" cy="1297.9" r="4.3" fill="none" stroke="#2424c0" stroke-width="0.95" stroke-dasharray="2 0.8"/>
<circle cx="797.6" cy="1205.7" r="4.3" fill="none" stroke="#2424c0" stroke-width="0.95" stroke-dasharray="2 0.8"/>
<circle cx="800.8" cy="1195.6" r="4.3" fill="none" stroke="#2424c0" stroke-width="0.95" stroke-dasharray="2 0.8"/>
<circle cx="820" cy="1306.4" r="4.3" fill="none" stroke="#2424c0" stroke-width="0.95" stroke-dasharray="2 0.8"/>
<circle cx="822" cy="1307.8" r="4.3" fill="none" stroke="#2424c0" stroke-width="0.95" stroke-dasharray="2 0.8"/>
<circle cx="824.2" cy="1312.1" r="4.3" fill="none" stroke="#2424c0" stroke-width="0.95" stroke-dasharray="2 0.8"/>
<circle cx="827.8" cy="1318.5" r="4.3" fill="none" stroke="#2424c0" stroke-width="0.95" stroke-dasharray="2 0.8"/>
<circle cx="830.1" cy="1326.6" r="4.3" fill="none" stroke="#2424c0" stroke-width="0.95" stroke-dasharray="2 0.8"/>
<circle cx="832" cy="1322.5" r="4.3" fill="none" stroke="#2424c0" stroke-width="0.95" stroke-dasharray="2 0.8"/>
<circle cx="835" cy="1326.4" r="4.3" fill="none" stroke="#2424c0" stroke-width="0.95" stroke-dasharray="2 0.8"/>
<circle cx="836.5" cy="1326.6" r="4.3" fill="none" stroke="#2424c0" stroke-width="0.95" stroke-dasharray="2 0.8"/>
<circle cx="839.8" cy="1330" r="4.3" fill="none" stroke="#2424c0" stroke-width="0.95" stroke-dasharray="2 0.8"/>
<circle cx="841.1" cy="1330.7" r="4.3" fill="none" stroke="#2424c0" stroke-width="0.95" stroke-dasharray="2 0.8"/>
<circle cx="843.2" cy="1332.5" r="4.3" fill="none" stroke="#2424c0" stroke-width="0.95" stroke-dasharray="2 0.8"/>
<circle cx="846.1" cy="1330.1" r="4.3" fill="none" stroke="#2424c0" stroke-width="0.95" stroke-dasharray="2 0.8"/>
<circle cx="849.1" cy="1335.3" r="4.3" fill="none" stroke="#2424c0" stroke-width="0.95" stroke-dasharray="2 0.8"/>
<circle cx="850.2" cy="1333.2" r="4.3" fill="none" stroke="#2424c0" stroke-width="0.95" stroke-dasharray="2 0.8"/>
<circle cx="853" cy="1337.3" r="4.3" fill="none" stroke="#2424c0" stroke-width="0.95" stroke-dasharray="2 0.8"/>
<circle cx="856.3" cy="1331.6" r="4.3" fill="none" stroke="#2424c0" stroke-width="0.95" stroke-dasharray="2 0.8"/>
<circle cx="857.8" cy="1331.2" r="4.3" fill="none" stroke="#2424c0" stroke-width="0.95" stroke-dasharray="2 0.8"/>
<circle cx="861.4" cy="1332.9" r="4.3" fill="none" stroke="#2424c0" stroke-width="0.95" stroke-dasharray="2 0.8"/>
<circle cx="863.2" cy="1335" r="4.3" fill="none" stroke="#2424c0" stroke-width="0.95" stroke-dasharray="2 0.8"/>
<circle cx="865.6" cy="1336.7" r="4.3" fill="none" stroke="#2424c0" stroke-width="0.95" stroke-dasharray="2 0.8"/>
<circle cx="868.2" cy="1332.8" r="4.3" fill="none" stroke="#2424c0" stroke-width="0.95" stroke-dasharray="2 0.8"/>
<circle cx="870.6" cy="1334.3" r="4.3" fill="none" stroke="#2424c0" stroke-width="0.95" stroke-dasharray="2 0.8"/>
<circle cx="872.7" cy="1333.7" r="4.3" fill="none" stroke="#2424c0" stroke-width="0.95" stroke-dasharray="2 0.8"/>
<circle cx="874.7" cy="1334.5" r="4.3" fill="none" stroke="#2424c0" stroke-width="0.95" stroke-dasharray="2 0.8"/>
<circle cx="877.3" cy="1332" r="4.3" fill="none" stroke="#2424c0" stroke-width="0.95" stroke-dasharray="2 0.8"/>
<circle cx="880.2" cy="1333.1" r="4.3" fill="none" stroke="#2424c0" stroke-width="0.95" stroke-dasharray="2 0.8"/>
<circle cx="881.5" cy="1329.1" r="4.3" fill="none" stroke="#2424c0" stroke-width="0.95" stroke-dasharray="2 0.8"/>
<circle cx="505.7" cy="1357.2" r="4.3" fill="none" stroke="#2424c0" stroke-width="0.95" stroke-dasharray="2 0.8"/>
<circle cx="507.2" cy="1330.6" r="4.3" fill="none" stroke="#2424c0" stroke-width="0.95" stroke-dasharray="2 0.8"/>
<circle cx="508.7" cy="1312.8" r="4.3" fill="none" stroke="#2424c0" stroke-width="0.95" stroke-dasharray="2 0.8"/>
<circle cx="510.2" cy="1295.1" r="4.3" fill="none" stroke="#2424c0" stroke-width="0.95" stroke-dasharray="2 0.8"/>
<circle cx="511.6" cy="1277.4" r="4.3" fill="none" stroke="#2424c0" stroke-width="0.95" stroke-dasharray="2 0.8"/>
<circle cx="513.1" cy="1259.7" r="4.3" fill="none" stroke="#2424c0" stroke-width="0.95" stroke-dasharray="2 0.8"/>
<circle cx="514.6" cy="1242" r="4.3" fill="none" stroke="#2424c0" stroke-width="0.95" stroke-dasharray="2 0.8"/>
<circle cx="516.1" cy="1224.2" r="4.3" fill="none" stroke="#2424c0" stroke-width="0.95" stroke-dasharray="2 0.8"/>
<circle cx="517.5" cy="1206.5" r="4.3" fill="none" stroke="#2424c0" stroke-width="0.95" stroke-dasharray="2 0.8"/>
<circle cx="519" cy="1188.7" r="4.3" fill="none" stroke="#2424c0" stroke-width="0.95" stroke-dasharray="2 0.8"/>
<circle cx="520.5" cy="1168" r="4.3" fill="none" stroke="#2424c0" stroke-width="0.95" stroke-dasharray="2 0.8"/>
<circle cx="522" cy="1147.3" r="4.3" fill="none" stroke="#2424c0" stroke-width="0.95" stroke-dasharray="2 0.8"/>
<circle cx="523.5" cy="1126.6" r="4.3" fill="none" stroke="#2424c0" stroke-width="0.95" stroke-dasharray="2 0.8"/>
<circle cx="527.9" cy="1101.5" r="4.3" fill="none" stroke="#2424c0" stroke-width="0.95" stroke-dasharray="2 0.8"/>
<circle cx="530.8" cy="1120.7" r="4.3" fill="none" stroke="#2424c0" stroke-width="0.95" stroke-dasharray="2 0.8"/>
<circle cx="532.3" cy="1141.4" r="4.3" fill="none" stroke="#2424c0" stroke-width="0.95" stroke-dasharray="2 0.8"/>
<circle cx="533.8" cy="1162.1" r="4.3" fill="none" stroke="#2424c0" stroke-width="0.95" stroke-dasharray="2 0.8"/>
<circle cx="535.3" cy="1181.3" r="4.3" fill="none" stroke="#2424c0" stroke-width="0.95" stroke-dasharray="2 0.8"/>
<circle cx="536.8" cy="1200.5" r="4.3" fill="none" stroke="#2424c0" stroke-width="0.95" stroke-dasharray="2 0.8"/>
<circle cx="538.2" cy="1224.2" r="4.3" fill="none" stroke="#2424c0" stroke-width="0.95" stroke-dasharray="2 0.8"/>
<circle cx="539.7" cy="1247.8" r="4.3" fill="none" stroke="#2424c0" stroke-width="0.95" stroke-dasharray="2 0.8"/>
<circle cx="541.2" cy="1268.5" r="4.3" fill="none" stroke="#2424c0" stroke-width="0.95" stroke-dasharray="2 0.8"/>
<circle cx="542.7" cy="1289.2" r="4.3" fill="none" stroke="#2424c0" stroke-width="0.95" stroke-dasharray="2 0.8"/>
<circle cx="544.9" cy="1309.9" r="4.3" fill="none" stroke="#2424c0" stroke-width="0.95" stroke-dasharray="2 0.8"/>
<circle cx="547.1" cy="1330.6" r="4.3" fill="none" stroke="#2424c0" stroke-width="0.95" stroke-dasharray="2 0.8"/>
<circle cx="556" cy="1358.7" r="4.3" fill="none" stroke="#2424c0" stroke-width="0.95" stroke-dasharray="2 0.8"/>
<circle cx="774.7" cy="1315.8" r="4.3" fill="none" stroke="#2424c0" stroke-width="0.95" stroke-dasharray="2 0.8"/>
<circle cx="782.1" cy="1301" r="4.3" fill="none" stroke="#2424c0" stroke-width="0.95" stroke-dasharray="2 0.8"/>
<circle cx="786.5" cy="1271.5" r="4.3" fill="none" stroke="#2424c0" stroke-width="0.95" stroke-dasharray="2 0.8"/>
<circle cx="791" cy="1241.9" r="4.3" fill="none" stroke="#2424c0" stroke-width="0.95" stroke-dasharray="2 0.8"/>
<circle cx="795.4" cy="1212.4" r="4.3" fill="none" stroke="#2424c0" stroke-width="0.95" stroke-dasharray="2 0.8"/>
<circle cx="801.3" cy="1197" r="4.3" fill="none" stroke="#2424c0" stroke-width="0.95" stroke-dasharray="2 0.8"/>
<circle cx="805.8" cy="1212.4" r="4.3" fill="none" stroke="#2424c0" stroke-width="0.95" stroke-dasharray="2 0.8"/>
<circle cx="808.7" cy="1241.9" r="4.3" fill="none" stroke="#2424c0" stroke-width="0.95" stroke-dasharray="2 0.8"/>
<circle cx="813.1" cy="1271.5" r="4.3" fill="none" stroke="#2424c0" stroke-width="0.95" stroke-dasharray="2 0.8"/>
<circle cx="819" cy="1301" r="4.3" fill="none" stroke="#2424c0" stroke-width="0.95" stroke-dasharray="2 0.8"/>
<line x1="526" y1="1054.8" x2="526" y2="1408.7" stroke="#000" stroke-width="2.2" stroke-dasharray="7.8 6.4"/>
<line x1="799" y1="1179.8" x2="799" y2="1408.7" stroke="#000" stroke-width="2.2" stroke-dasharray="7.8 6.4"/>
<rect x="442.4" y="1053.4" width="442.6" height="356.5" fill="none" stroke="#000" stroke-width="2.5"/>
<line x1="503.4" y1="1409.9" x2="503.4" y2="1416.4" stroke="#000" stroke-width="2.2" />
<text x="503.4" y="1429.6" font-size="10.2" text-anchor="middle" fill="#000" font-family="'Liberation Sans', sans-serif" font-weight="bold" >1020</text>
<line x1="622.5" y1="1409.9" x2="622.5" y2="1416.4" stroke="#000" stroke-width="2.2" />
<text x="622.5" y="1429.6" font-size="10.2" text-anchor="middle" fill="#000" font-family="'Liberation Sans', sans-serif" font-weight="bold" >1030</text>
<line x1="741.6" y1="1409.9" x2="741.6" y2="1416.4" stroke="#000" stroke-width="2.2" />
<text x="741.6" y="1429.6" font-size="10.2" text-anchor="middle" fill="#000" font-family="'Liberation Sans', sans-serif" font-weight="bold" >1040</text>
<line x1="860.7" y1="1409.9" x2="860.7" y2="1416.4" stroke="#000" stroke-width="2.2" />
<text x="860.7" y="1429.6" font-size="10.2" text-anchor="middle" fill="#000" font-family="'Liberation Sans', sans-serif" font-weight="bold" >1050</text>
<line x1="443.8" y1="1409.9" x2="443.8" y2="1413.1" stroke="#000" stroke-width="2.2" />
<line x1="562.9" y1="1409.9" x2="562.9" y2="1413.1" stroke="#000" stroke-width="2.2" />
<line x1="682" y1="1409.9" x2="682" y2="1413.1" stroke="#000" stroke-width="2.2" />
<line x1="801.1" y1="1409.9" x2="801.1" y2="1413.1" stroke="#000" stroke-width="2.2" />
<text x="668.9" y="1445.7" font-size="10" text-anchor="middle" fill="#000" font-family="'Liberation Sans', sans-serif" font-weight="bold" >Binding Energy/ eV</text>
<text x="439" y="1231.6" font-size="10.2" text-anchor="middle" fill="#000" font-family="'Liberation Sans', sans-serif" font-weight="bold" transform="rotate(-90 439 1231.6)">Intensity/ a.u.</text>
<text x="426" y="1064.3" font-size="9.6" text-anchor="start" fill="#000" font-family="'Liberation Sans', sans-serif" font-weight="bold" >(e)</text>
<text x="451" y="1070.2" font-size="10" text-anchor="start" fill="#000" font-family="'Liberation Sans', sans-serif" font-weight="bold" >Zn 2p</text>
<text x="596.2" y="1109.5" font-size="10.8" text-anchor="middle" fill="#000" font-family="'Liberation Sans', sans-serif" font-weight="bold" >Zn 2p<tspan font-size="7.13" dy="2.6">3/2</tspan></text>
<text x="596.2" y="1122.8" font-size="10.8" text-anchor="middle" fill="#000" font-family="'Liberation Sans', sans-serif" font-weight="bold" >1022.10 eV</text>
<line x1="563.4" y1="1112.7" x2="539" y2="1112.7" stroke="#000" stroke-width="2.2" />
<path d="M533.5 1112.7 L539.5 1109.5 L539.5 1115.9 Z" fill="#000" stroke="none"/>
<text x="807.2" y="1166.5" font-size="10.8" text-anchor="middle" fill="#000" font-family="'Liberation Sans', sans-serif" font-weight="bold" >Zn 2p<tspan font-size="7.13" dy="2.6">1/2</tspan></text>
<text x="807.2" y="1178.3" font-size="10.8" text-anchor="middle" fill="#000" font-family="'Liberation Sans', sans-serif" font-weight="bold" >1044.96 eV</text>
<text x="652.6" y="1281.4" font-size="10.8" text-anchor="middle" fill="#000" font-family="'Liberation Sans', sans-serif" font-weight="bold" >~ 23.00 eV</text>
<line x1="600" y1="1287.7" x2="533" y2="1287.7" stroke="#000" stroke-width="2.2" />
<path d="M527.5 1287.7 L533.5 1284.5 L533.5 1290.9 Z" fill="#000" stroke="none"/>
<line x1="600" y1="1287.7" x2="792" y2="1287.7" stroke="#000" stroke-width="2.2" />
<path d="M797.5 1287.7 L791.5 1290.9 L791.5 1284.5 Z" fill="#000" stroke="none"/>
<circle cx="786.5" cy="1069.9" r="4.0" fill="none" stroke="#3838d0" stroke-width="0.8" stroke-dasharray="1.6 1"/>
<text x="813.1" y="1076.3" font-size="10" text-anchor="start" fill="#000" font-family="'Liberation Sans', sans-serif" font-weight="bold" >Experimental</text>
<line x1="765.8" y1="1097.4" x2="807.8" y2="1097.4" stroke="#ee8a2a" stroke-width="2.4" />
<text x="810.2" y="1103.6" font-size="10" text-anchor="start" fill="#000" font-family="'Liberation Sans', sans-serif" font-weight="bold" >Fit</text>
<line x1="765.8" y1="1124.6" x2="807.8" y2="1124.6" stroke="#5a18d0" stroke-width="2.4" />
<text x="810.2" y="1130.8" font-size="10" text-anchor="start" fill="#000" font-family="'Liberation Sans', sans-serif" font-weight="bold" >Background</text>
<path d="M923.1 1314.3 L929.6 1311.4 L938.4 1314.3 L945.8 1310.5 L951.7 1311.4 L960.6 1311.4 L968 1308.4 L972.4 1309.3 L978.3 1305.5 L982.8 1298.7 L993.1 1297.5 L997.5 1292.2 L1003.5 1282.7 L1007.9 1281.8 L1015.3 1273.8 L1019.7 1267 L1027.1 1256.1 L1036 1239 L1044.8 1222.7 L1050.8 1212.4 L1056.7 1194.6 L1062.6 1173.9 L1070 1154.7 L1075.9 1135.5 L1081.8 1119.2 L1089.2 1114.8 L1097.5 1107.4 L1102.5 1111.9 L1108.4 1118.4 L1118.7 1137 L1123.2 1148.8 L1127.6 1153.2 L1133.5 1168 L1140.9 1187.2 L1151.3 1206.4 L1160.1 1213.8 L1170.5 1222.7 L1173.4 1224.2 L1180.8 1229.2 L1189.7 1231 L1201.5 1232.5 L1208.9 1233.6 L1213.3 1234.5 L1219.2 1240.4 L1225.2 1244.9 L1231.1 1247.8 L1237 1253.1 L1244.4 1255.2 L1251.8 1247.8 L1257.7 1250.8 L1262.1 1241.9 L1269.5 1234.5 L1275.4 1218.3 L1281.3 1203.5 L1286.6 1194.6 L1290.2 1197 L1296.1 1212.4 L1302 1233 L1307.9 1256.7 L1313.8 1289.2 L1319.7 1309.9 L1325.7 1321.7 L1331.6 1330.6 L1337.5 1336.5 L1343.4 1348.3 L1349.3 1357.2 L1356.7 1366.1 L1364.1 1370.5" stroke="#e01c1c" stroke-width="2.8" fill="none" stroke-linejoin="round" />
<line x1="1097.7" y1="1054.8" x2="1097.7" y2="1406.2" stroke="#000" stroke-width="2.2" stroke-dasharray="7.8 6.4"/>
<line x1="1290.2" y1="1054.8" x2="1290.2" y2="1406.2" stroke="#000" stroke-width="2.2" stroke-dasharray="7.8 6.4"/>
<line x1="1195" y1="1301" x2="1108" y2="1301" stroke="#000" stroke-width="2.2" />
<path d="M1102.5 1301 L1108.5 1297.8 L1108.5 1304.2 Z" fill="#000" stroke="none"/>
<line x1="1195" y1="1301" x2="1282.3" y2="1301" stroke="#000" stroke-width="2.2" />
<path d="M1287.8 1301 L1281.8 1304.2 L1281.8 1297.8 Z" fill="#000" stroke="none"/>
<rect x="923.6" y="1051" width="441.1" height="356.4" fill="none" stroke="#000" stroke-width="2.5"/>
<line x1="997.1" y1="1407.4" x2="997.1" y2="1413.9" stroke="#000" stroke-width="2.2" />
<text x="997.1" y="1427.3" font-size="10.2" text-anchor="middle" fill="#000" font-family="'Liberation Sans', sans-serif" font-weight="bold" >985</text>
<line x1="1180.9" y1="1407.4" x2="1180.9" y2="1413.9" stroke="#000" stroke-width="2.2" />
<text x="1180.9" y="1427.3" font-size="10.2" text-anchor="middle" fill="#000" font-family="'Liberation Sans', sans-serif" font-weight="bold" >990</text>
<line x1="1364.7" y1="1407.4" x2="1364.7" y2="1413.9" stroke="#000" stroke-width="2.2" />
<text x="1364.7" y="1427.3" font-size="10.2" text-anchor="middle" fill="#000" font-family="'Liberation Sans', sans-serif" font-weight="bold" >995</text>
<line x1="1089" y1="1407.4" x2="1089" y2="1410.6" stroke="#000" stroke-width="2.2" />
<line x1="1272.8" y1="1407.4" x2="1272.8" y2="1410.6" stroke="#000" stroke-width="2.2" />
<text x="1143.9" y="1441.2" font-size="10" text-anchor="middle" fill="#000" font-family="'Liberation Sans', sans-serif" font-weight="bold" >Kinetic Energy/ eV</text>
<text x="919.6" y="1219" font-size="10.2" text-anchor="middle" fill="#000" font-family="'Liberation Sans', sans-serif" font-weight="bold" transform="rotate(-90 919.6 1219)">Intensity/ a.u.</text>
<text x="908" y="1063.6" font-size="9.6" text-anchor="start" fill="#000" font-family="'Liberation Sans', sans-serif" font-weight="bold" >(f)</text>
<text x="1062" y="1092.6" font-size="10.8" text-anchor="middle" fill="#000" font-family="'Liberation Sans', sans-serif" font-weight="bold" >Zn<tspan font-size="7.13" dy="-3.2">2+</tspan></text>
<text x="1065" y="1108.5" font-size="10.8" text-anchor="middle" fill="#000" font-family="'Liberation Sans', sans-serif" font-weight="bold" >987.76 eV</text>
<text x="1263.6" y="1183.3" font-size="10.8" text-anchor="middle" fill="#000" font-family="'Liberation Sans', sans-serif" font-weight="bold" >Zn<tspan font-size="7.13" dy="-3.2">0</tspan></text>
<text x="1260" y="1195.2" font-size="10.8" text-anchor="middle" fill="#000" font-family="'Liberation Sans', sans-serif" font-weight="bold" >992.78 eV</text>
<text x="1197" y="1295.1" font-size="10.8" text-anchor="middle" fill="#000" font-family="'Liberation Sans', sans-serif" font-weight="bold" >5.02 eV</text>
<line x1="1257.7" y1="1080.8" x2="1299" y2="1080.8" stroke="#e01c1c" stroke-width="2.4" />
<text x="1301.1" y="1087.3" font-size="10" text-anchor="start" fill="#000" font-family="'Liberation Sans', sans-serif" font-weight="bold" >Zn LMM</text>
</svg>
<div class="l" style="top:1476.6px;left:276.5px;width:1276.0px;font-size:30.7px">图 3 ENP/NZSA-5 涂层的高分辨 XPS 谱</div>
<div class="l j" style="top:1524.4px;left:276.5px;width:1276.0px;font-size:30.7px">Fig. 4 High resolution XPS spectra of ENP/NZSA-5 coating: (a) survey spectrum, and fine peaks of (b)</div>
<div class="l" style="top:1572.2px;left:276.5px;width:1276.0px;font-size:30.7px">C 1s, (c) O 1s, (d) Ni 2p, (e) Zn 2p and (f) Zn LMM</div>
<div class="l j" style="top:1633.6px;left:342.5px;width:1210.0px;font-size:32px">复合涂层横截面 SEM（图 <b>4a</b>）表明，涂层外侧横截面呈山峰状起伏，这源于电沉积镍</div>
<div class="l j" style="top:1695.0px;left:276.5px;width:1276.0px;font-size:32px">层的多孔结构，导致表面形成许多凹凸起伏的沟壑，极大地增大了涂层表面的粗糙度。根</div>
<div class="l j" style="top:1756.5px;left:276.5px;width:1276.0px;font-size:32px">据不同元素的 EDS 面扫谱图，可以计算化学沉积镍层和电沉积镍层的厚度。由图 <b>4a-c</b> 可</div>
<div class="l j" style="top:1817.9px;left:276.5px;width:1276.0px;font-size:32px">知，复合涂层总厚度为（76.2 ± 2.0）<b>μm</b>；根据线扫描结果（图 <b>4b</b>）和 P 的 EDS 面扫描谱</div>
<div class="l j" style="top:1879.4px;left:276.5px;width:1276.0px;font-size:32px">图（图 4e），化学沉积镍基合金膜层的厚度约为（60.9 ± 2.0）<b>μm</b>。因为化学沉积镍基合金</div>
<div class="l j" style="top:1940.8px;left:276.5px;width:1276.0px;font-size:32px">膜层中含有 P，而电沉积层中没有 P，所以电沉积层的厚度为涂层总厚度与化学沉积镍层</div>
<div class="l j" style="top:2002.3px;left:276.5px;width:1276.0px;font-size:32px">的差值，约为（15.3 ± 2.0）<b>μm</b>。因 <b>Zn</b> 同时存在于电沉积层和基底镁合金，因而图 <b>4g</b> 的上</div>
<div class="l j" style="top:2063.8px;left:276.5px;width:1276.0px;font-size:32px">侧和下侧均能看到明显的富 <b>Zn</b> 区域。同时，图 <b>4g</b> 上侧 <b>Zn</b> 的均匀分布也证实，<b>Zn</b> 以合金</div>
<div class="l j" style="top:2125.2px;left:276.5px;width:1276.0px;font-size:32px">和纳米粒子形式均匀分散于电沉积层。图 <b>4d-f</b> 中所示的 Mg 和 C 分别来源于镁合金基底和</div>
<div class="l j" style="top:2186.7px;left:276.5px;width:1276.0px;font-size:32px">树脂层，与图 <b>4a</b> 所示复合镀层的形状相匹配。由于树脂中本身含 O，而制样过程中镁合金</div>
<div class="l j" style="top:2248.1px;left:276.5px;width:1276.0px;font-size:32px">基底和镍基镀层均暴露于水和空气中，所以图 <b>4h</b> 显示 O 均匀分布于复合镀层的整个截</div>
<div class="l" style="top:2361.0px;left:905.0px;font-size:33px">7</div>
</body></html>
